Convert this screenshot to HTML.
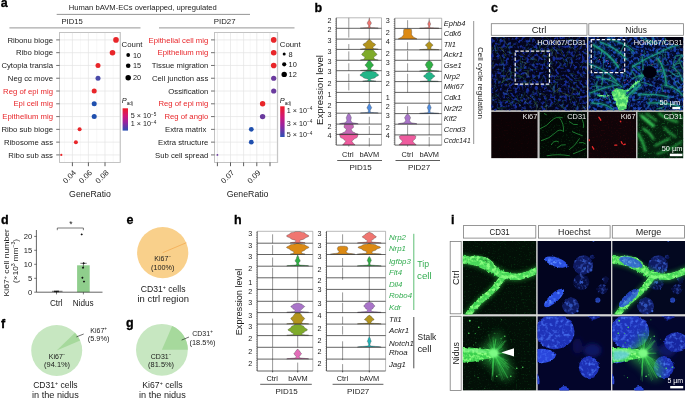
<!DOCTYPE html>
<html lang="en"><head><meta charset="utf-8"><title>Figure</title>
<style>html,body{margin:0;padding:0;background:#fff}svg{display:block}text{font-family:'Liberation Sans', sans-serif}</style>
</head><body>
<svg width="685" height="398" viewBox="0 0 685 398" fill="#1a1a1a">
<defs>
<linearGradient id="gPadj" x1="0" y1="0" x2="0" y2="1"><stop offset="0" stop-color="#ee1c25"/><stop offset="0.35" stop-color="#d01878"/><stop offset="0.62" stop-color="#9a229e"/><stop offset="1" stop-color="#2c50b4"/></linearGradient>
<filter id="b05" x="-20%" y="-20%" width="140%" height="140%"><feGaussianBlur stdDeviation="0.5"/></filter>
<filter id="b1" x="-20%" y="-20%" width="140%" height="140%"><feGaussianBlur stdDeviation="1"/></filter>
<filter id="b2" x="-30%" y="-30%" width="160%" height="160%"><feGaussianBlur stdDeviation="2"/></filter>
<filter id="b4" x="-50%" y="-50%" width="200%" height="200%"><feGaussianBlur stdDeviation="4"/></filter>
<filter id="spBlueD" x="0" y="0" width="100%" height="100%" color-interpolation-filters="sRGB"><feTurbulence type="fractalNoise" baseFrequency="0.34" numOctaves="2" seed="3"/><feColorMatrix type="matrix" values="0 0 0 0 0.085  0 0 0 0 0.17  0 0 0 0 0.58  4.5 0 0 0 -2.15"/></filter>
<filter id="spBlueB" x="0" y="0" width="100%" height="100%" color-interpolation-filters="sRGB"><feTurbulence type="fractalNoise" baseFrequency="0.34" numOctaves="2" seed="7"/><feColorMatrix type="matrix" values="0 0 0 0 0.11  0 0 0 0 0.27  0 0 0 0 0.72  4.5 0 0 0 -2.0"/></filter>
<filter id="spDark" x="0" y="0" width="100%" height="100%" color-interpolation-filters="sRGB"><feTurbulence type="fractalNoise" baseFrequency="0.07" numOctaves="2" seed="13"/><feColorMatrix type="matrix" values="0 0 0 0 0.0  0 0 0 0 0.0  0 0 0 0 0.06  5 0 0 0 -2.2"/></filter>
<filter id="spGreenD" x="0" y="0" width="100%" height="100%" color-interpolation-filters="sRGB"><feTurbulence type="fractalNoise" baseFrequency="0.6" numOctaves="2" seed="11"/><feColorMatrix type="matrix" values="0 0 0 0 0.1  0 0 0 0 0.55  0 0 0 0 0.2  4 0 0 0 -2.3"/></filter>
<filter id="spRedD" x="0" y="0" width="100%" height="100%" color-interpolation-filters="sRGB"><feTurbulence type="fractalNoise" baseFrequency="0.6" numOctaves="2" seed="5"/><feColorMatrix type="matrix" values="0 0 0 0 0.45  0 0 0 0 0.05  0 0 0 0 0.08  4 0 0 0 -2.2"/></filter>
<filter id="spNucl" x="0" y="0" width="100%" height="100%" color-interpolation-filters="sRGB"><feTurbulence type="fractalNoise" baseFrequency="0.18" numOctaves="2" seed="9"/><feColorMatrix type="matrix" values="0 0 0 0 0.35  0 0 0 0 0.55  0 0 0 0 1.0  6 0 0 0 -3.1"/></filter>
<filter id="spGreenF" x="0" y="0" width="100%" height="100%" color-interpolation-filters="sRGB"><feTurbulence type="fractalNoise" baseFrequency="0.5" numOctaves="2" seed="21"/><feColorMatrix type="matrix" values="0 0 0 0 0.2  0 0 0 0 0.9  0 0 0 0 0.3  4 0 0 0 -2.2"/></filter>
<filter id="ntex" x="-10%" y="-10%" width="120%" height="120%" color-interpolation-filters="sRGB"><feTurbulence type="fractalNoise" baseFrequency="0.28" numOctaves="2" seed="9" result="n"/><feDisplacementMap in="SourceGraphic" in2="n" scale="2.5" xChannelSelector="R" yChannelSelector="G" result="d"/><feColorMatrix in="n" type="matrix" values="0 0 0 0 0.32  0 0 0 0 0.5  0 0 0 0 1  0 0 2.4 0 -1.15" result="l"/><feComposite in="l" in2="d" operator="in" result="li"/><feMerge><feMergeNode in="d"/><feMergeNode in="li"/></feMerge><feGaussianBlur stdDeviation="0.6"/></filter>
<filter id="vtex" x="-10%" y="-10%" width="120%" height="120%" color-interpolation-filters="sRGB"><feTurbulence type="fractalNoise" baseFrequency="0.3" numOctaves="2" seed="4" result="n"/><feDisplacementMap in="SourceGraphic" in2="n" scale="3" xChannelSelector="R" yChannelSelector="G" result="d"/><feColorMatrix in="n" type="matrix" values="0 0 0 0 0.55  0 0 0 0 1  0 0 0 0 0.5  0 0 4 0 -1.7" result="l"/><feComposite in="l" in2="d" operator="in" result="li"/><feMerge><feMergeNode in="d"/><feMergeNode in="li"/></feMerge><feGaussianBlur stdDeviation="0.55"/></filter>
</defs>
<text x="0.7" y="6.7" font-size="12.5" font-weight="bold" fill="#000" stroke="#000" stroke-width="0.3">a</text>
<text x="68.80" y="9.92" font-size="7.0" textLength="148.00" lengthAdjust="spacingAndGlyphs">Human bAVM-ECs overlapped, upregulated</text>
<line x1="56.70" y1="14.40" x2="250.00" y2="14.40" stroke="#8a8a8a" stroke-width="0.9" />
<text x="61.50" y="23.68" font-size="8.0" textLength="21.30" lengthAdjust="spacingAndGlyphs">PID15</text>
<line x1="9.40" y1="27.90" x2="140.50" y2="27.90" stroke="#8a8a8a" stroke-width="0.9" />
<text x="213.80" y="23.68" font-size="8.0" textLength="21.80" lengthAdjust="spacingAndGlyphs">PID27</text>
<line x1="159.00" y1="27.90" x2="294.50" y2="27.90" stroke="#8a8a8a" stroke-width="0.9" />
<rect x="59.60" y="32.50" width="60.60" height="129.90" fill="#fff" stroke="#c9c9c9" stroke-width="0.7" />
<line x1="64.40" y1="32.50" x2="64.40" y2="162.40" stroke="#f0f0f0" stroke-width="0.5" />
<line x1="80.40" y1="32.50" x2="80.40" y2="162.40" stroke="#f0f0f0" stroke-width="0.5" />
<line x1="96.70" y1="32.50" x2="96.70" y2="162.40" stroke="#f0f0f0" stroke-width="0.5" />
<line x1="113.20" y1="32.50" x2="113.20" y2="162.40" stroke="#f0f0f0" stroke-width="0.5" />
<line x1="72.40" y1="32.50" x2="72.40" y2="162.40" stroke="#e4e4e4" stroke-width="0.7" />
<line x1="88.40" y1="32.50" x2="88.40" y2="162.40" stroke="#e4e4e4" stroke-width="0.7" />
<line x1="105.00" y1="32.50" x2="105.00" y2="162.40" stroke="#e4e4e4" stroke-width="0.7" />
<line x1="59.60" y1="39.90" x2="120.20" y2="39.90" stroke="#e4e4e4" stroke-width="0.7" />
<line x1="59.60" y1="52.68" x2="120.20" y2="52.68" stroke="#e4e4e4" stroke-width="0.7" />
<line x1="59.60" y1="65.46" x2="120.20" y2="65.46" stroke="#e4e4e4" stroke-width="0.7" />
<line x1="59.60" y1="78.24" x2="120.20" y2="78.24" stroke="#e4e4e4" stroke-width="0.7" />
<line x1="59.60" y1="91.02" x2="120.20" y2="91.02" stroke="#e4e4e4" stroke-width="0.7" />
<line x1="59.60" y1="103.80" x2="120.20" y2="103.80" stroke="#e4e4e4" stroke-width="0.7" />
<line x1="59.60" y1="116.58" x2="120.20" y2="116.58" stroke="#e4e4e4" stroke-width="0.7" />
<line x1="59.60" y1="129.36" x2="120.20" y2="129.36" stroke="#e4e4e4" stroke-width="0.7" />
<line x1="59.60" y1="142.14" x2="120.20" y2="142.14" stroke="#e4e4e4" stroke-width="0.7" />
<line x1="59.60" y1="154.92" x2="120.20" y2="154.92" stroke="#e4e4e4" stroke-width="0.7" />
<rect x="59.60" y="32.50" width="60.60" height="129.90" fill="none" stroke="#bdbdbd" stroke-width="0.8" />
<text x="53.00" y="42.56" font-size="7.4" text-anchor="end" textLength="45.58" lengthAdjust="spacingAndGlyphs">Ribonu bioge</text>
<line x1="56.20" y1="39.90" x2="59.60" y2="39.90" stroke="#333" stroke-width="0.7" />
<text x="53.00" y="55.34" font-size="7.4" text-anchor="end" textLength="36.97" lengthAdjust="spacingAndGlyphs">Ribo bioge</text>
<line x1="56.20" y1="52.68" x2="59.60" y2="52.68" stroke="#333" stroke-width="0.7" />
<text x="53.00" y="68.12" font-size="7.4" text-anchor="end" textLength="51.58" lengthAdjust="spacingAndGlyphs">Cytopla transla</text>
<line x1="56.20" y1="65.46" x2="59.60" y2="65.46" stroke="#333" stroke-width="0.7" />
<text x="53.00" y="80.90" font-size="7.4" text-anchor="end" textLength="45.13" lengthAdjust="spacingAndGlyphs">Neg cc move</text>
<line x1="56.20" y1="78.24" x2="59.60" y2="78.24" stroke="#333" stroke-width="0.7" />
<text x="53.00" y="93.68" font-size="7.4" text-anchor="end" fill="#e8262a" textLength="49.86" lengthAdjust="spacingAndGlyphs">Reg of epi mig</text>
<line x1="56.20" y1="91.02" x2="59.60" y2="91.02" stroke="#333" stroke-width="0.7" />
<text x="53.00" y="106.46" font-size="7.4" text-anchor="end" fill="#e8262a" textLength="39.54" lengthAdjust="spacingAndGlyphs">Epi cell mig</text>
<line x1="56.20" y1="103.80" x2="59.60" y2="103.80" stroke="#333" stroke-width="0.7" />
<text x="53.00" y="119.24" font-size="7.4" text-anchor="end" fill="#e8262a" textLength="50.72" lengthAdjust="spacingAndGlyphs">Epithelium mig</text>
<line x1="56.20" y1="116.58" x2="59.60" y2="116.58" stroke="#333" stroke-width="0.7" />
<text x="53.00" y="132.02" font-size="7.4" text-anchor="end" textLength="51.59" lengthAdjust="spacingAndGlyphs">Ribo sub bioge</text>
<line x1="56.20" y1="129.36" x2="59.60" y2="129.36" stroke="#333" stroke-width="0.7" />
<text x="53.00" y="144.80" font-size="7.4" text-anchor="end" textLength="49.00" lengthAdjust="spacingAndGlyphs">Ribosome ass</text>
<line x1="56.20" y1="142.14" x2="59.60" y2="142.14" stroke="#333" stroke-width="0.7" />
<text x="53.00" y="157.58" font-size="7.4" text-anchor="end" textLength="44.70" lengthAdjust="spacingAndGlyphs">Ribo sub ass</text>
<line x1="56.20" y1="154.92" x2="59.60" y2="154.92" stroke="#333" stroke-width="0.7" />
<circle cx="116.00" cy="39.90" r="2.80" fill="#e8262a"/>
<circle cx="112.50" cy="52.68" r="2.80" fill="#e8262a"/>
<circle cx="98.00" cy="65.46" r="2.50" fill="#e8262a"/>
<circle cx="98.00" cy="78.24" r="2.50" fill="#4a4aa8"/>
<circle cx="94.20" cy="91.02" r="2.50" fill="#e8262a"/>
<circle cx="94.20" cy="103.80" r="2.50" fill="#1f4fae"/>
<circle cx="94.20" cy="116.58" r="2.50" fill="#1f4fae"/>
<circle cx="79.60" cy="129.36" r="2.00" fill="#e8262a"/>
<circle cx="75.90" cy="142.14" r="2.00" fill="#e8262a"/>
<circle cx="61.30" cy="154.92" r="1.10" fill="#e8262a"/>
<line x1="72.40" y1="162.40" x2="72.40" y2="166.20" stroke="#333" stroke-width="0.8" />
<text x="76.60" y="173.30" font-size="7.7" text-anchor="end" transform="rotate(-45 76.60 173.30)">0.04</text>
<line x1="88.40" y1="162.40" x2="88.40" y2="166.20" stroke="#333" stroke-width="0.8" />
<text x="92.60" y="173.30" font-size="7.7" text-anchor="end" transform="rotate(-45 92.60 173.30)">0.06</text>
<line x1="105.00" y1="162.40" x2="105.00" y2="166.20" stroke="#333" stroke-width="0.8" />
<text x="109.20" y="173.30" font-size="7.7" text-anchor="end" transform="rotate(-45 109.20 173.30)">0.08</text>
<text x="90.00" y="196.70" font-size="8.6" text-anchor="middle" textLength="41.80" lengthAdjust="spacingAndGlyphs">GeneRatio</text>
<text x="121.60" y="46.89" font-size="7.2" textLength="20.80" lengthAdjust="spacingAndGlyphs">Count</text>
<circle cx="128.20" cy="55.00" r="1.90" fill="#000"/>
<text x="133.00" y="57.63" font-size="7.3">10</text>
<circle cx="128.20" cy="65.70" r="2.30" fill="#000"/>
<text x="133.00" y="68.33" font-size="7.3">15</text>
<circle cx="128.20" cy="77.70" r="2.75" fill="#000"/>
<text x="133.00" y="80.33" font-size="7.3">20</text>
<text x="121.80" y="102.86" font-size="7.4"><tspan font-style="italic">P</tspan><tspan dy="1.8" font-size="4.6">adj</tspan></text>
<rect x="122.6" y="108.3" width="5.4" height="22.3" fill="url(#gPadj)"/>
<text x="130.80" y="118.19" font-size="7.2">5 × 10<tspan dy="-2.4" font-size="4.6">−5</tspan><tspan dy="2.4" font-size="0.1">&#8203;</tspan></text>
<text x="130.80" y="125.99" font-size="7.2">1 × 10<tspan dy="-2.4" font-size="4.6">−4</tspan><tspan dy="2.4" font-size="0.1">&#8203;</tspan></text>
<rect x="214.60" y="32.50" width="63.10" height="129.90" fill="#fff" stroke="#c9c9c9" stroke-width="0.7" />
<line x1="224.00" y1="32.50" x2="224.00" y2="162.40" stroke="#f0f0f0" stroke-width="0.5" />
<line x1="237.00" y1="32.50" x2="237.00" y2="162.40" stroke="#f0f0f0" stroke-width="0.5" />
<line x1="250.20" y1="32.50" x2="250.20" y2="162.40" stroke="#f0f0f0" stroke-width="0.5" />
<line x1="263.40" y1="32.50" x2="263.40" y2="162.40" stroke="#f0f0f0" stroke-width="0.5" />
<line x1="276.50" y1="32.50" x2="276.50" y2="162.40" stroke="#f0f0f0" stroke-width="0.5" />
<line x1="217.40" y1="32.50" x2="217.40" y2="162.40" stroke="#e4e4e4" stroke-width="0.7" />
<line x1="230.50" y1="32.50" x2="230.50" y2="162.40" stroke="#e4e4e4" stroke-width="0.7" />
<line x1="243.60" y1="32.50" x2="243.60" y2="162.40" stroke="#e4e4e4" stroke-width="0.7" />
<line x1="256.80" y1="32.50" x2="256.80" y2="162.40" stroke="#e4e4e4" stroke-width="0.7" />
<line x1="270.00" y1="32.50" x2="270.00" y2="162.40" stroke="#e4e4e4" stroke-width="0.7" />
<line x1="214.60" y1="39.90" x2="277.70" y2="39.90" stroke="#e4e4e4" stroke-width="0.7" />
<line x1="214.60" y1="52.68" x2="277.70" y2="52.68" stroke="#e4e4e4" stroke-width="0.7" />
<line x1="214.60" y1="65.46" x2="277.70" y2="65.46" stroke="#e4e4e4" stroke-width="0.7" />
<line x1="214.60" y1="78.24" x2="277.70" y2="78.24" stroke="#e4e4e4" stroke-width="0.7" />
<line x1="214.60" y1="91.02" x2="277.70" y2="91.02" stroke="#e4e4e4" stroke-width="0.7" />
<line x1="214.60" y1="103.80" x2="277.70" y2="103.80" stroke="#e4e4e4" stroke-width="0.7" />
<line x1="214.60" y1="116.58" x2="277.70" y2="116.58" stroke="#e4e4e4" stroke-width="0.7" />
<line x1="214.60" y1="129.36" x2="277.70" y2="129.36" stroke="#e4e4e4" stroke-width="0.7" />
<line x1="214.60" y1="142.14" x2="277.70" y2="142.14" stroke="#e4e4e4" stroke-width="0.7" />
<line x1="214.60" y1="154.92" x2="277.70" y2="154.92" stroke="#e4e4e4" stroke-width="0.7" />
<rect x="214.60" y="32.50" width="63.10" height="129.90" fill="none" stroke="#bdbdbd" stroke-width="0.8" />
<text x="208.30" y="42.56" font-size="7.4" text-anchor="end" fill="#e8262a" textLength="59.74" lengthAdjust="spacingAndGlyphs">Epithelial cell mig</text>
<line x1="211.00" y1="39.90" x2="214.60" y2="39.90" stroke="#333" stroke-width="0.7" />
<text x="208.30" y="55.34" font-size="7.4" text-anchor="end" fill="#e8262a" textLength="50.72" lengthAdjust="spacingAndGlyphs">Epithelium mig</text>
<line x1="211.00" y1="52.68" x2="214.60" y2="52.68" stroke="#333" stroke-width="0.7" />
<text x="208.30" y="68.12" font-size="7.4" text-anchor="end" textLength="56.44" lengthAdjust="spacingAndGlyphs">Tissue migration</text>
<line x1="211.00" y1="65.46" x2="214.60" y2="65.46" stroke="#333" stroke-width="0.7" />
<text x="208.30" y="80.90" font-size="7.4" text-anchor="end" textLength="56.31" lengthAdjust="spacingAndGlyphs">Cell junction ass</text>
<line x1="211.00" y1="78.24" x2="214.60" y2="78.24" stroke="#333" stroke-width="0.7" />
<text x="208.30" y="93.68" font-size="7.4" text-anchor="end" textLength="39.97" lengthAdjust="spacingAndGlyphs">Ossification</text>
<line x1="211.00" y1="91.02" x2="214.60" y2="91.02" stroke="#333" stroke-width="0.7" />
<text x="208.30" y="106.46" font-size="7.4" text-anchor="end" fill="#e8262a" textLength="49.86" lengthAdjust="spacingAndGlyphs">Reg of epi mig</text>
<line x1="211.00" y1="103.80" x2="214.60" y2="103.80" stroke="#333" stroke-width="0.7" />
<text x="208.30" y="119.24" font-size="7.4" text-anchor="end" fill="#e8262a" textLength="43.85" lengthAdjust="spacingAndGlyphs">Reg of angio</text>
<line x1="211.00" y1="116.58" x2="214.60" y2="116.58" stroke="#333" stroke-width="0.7" />
<text x="206.30" y="132.02" font-size="7.4" text-anchor="end" textLength="41.25" lengthAdjust="spacingAndGlyphs">Extra matrix</text>
<line x1="211.00" y1="129.36" x2="214.60" y2="129.36" stroke="#333" stroke-width="0.7" />
<text x="208.30" y="144.80" font-size="7.4" text-anchor="end" textLength="50.28" lengthAdjust="spacingAndGlyphs">Extra structure</text>
<line x1="211.00" y1="142.14" x2="214.60" y2="142.14" stroke="#333" stroke-width="0.7" />
<text x="208.30" y="157.58" font-size="7.4" text-anchor="end" textLength="53.31" lengthAdjust="spacingAndGlyphs">Sub cell spread</text>
<line x1="211.00" y1="154.92" x2="214.60" y2="154.92" stroke="#333" stroke-width="0.7" />
<circle cx="273.70" cy="39.90" r="2.80" fill="#e8262a"/>
<circle cx="273.70" cy="52.68" r="2.80" fill="#e8262a"/>
<circle cx="273.70" cy="65.46" r="2.80" fill="#e8262a"/>
<circle cx="273.70" cy="78.24" r="2.60" fill="#6a3a9e"/>
<circle cx="273.70" cy="91.02" r="2.60" fill="#6a3a9e"/>
<circle cx="262.60" cy="103.80" r="2.70" fill="#e8262a"/>
<circle cx="262.60" cy="116.58" r="2.70" fill="#6a3a9e"/>
<circle cx="251.30" cy="129.36" r="2.40" fill="#1f4fae"/>
<circle cx="251.30" cy="142.14" r="2.40" fill="#1f4fae"/>
<circle cx="217.40" cy="154.92" r="0.90" fill="#6a3a9e"/>
<line x1="217.40" y1="162.40" x2="217.40" y2="166.20" stroke="#333" stroke-width="0.8" />
<line x1="230.50" y1="162.40" x2="230.50" y2="166.20" stroke="#333" stroke-width="0.8" />
<line x1="243.60" y1="162.40" x2="243.60" y2="166.20" stroke="#333" stroke-width="0.8" />
<line x1="256.80" y1="162.40" x2="256.80" y2="166.20" stroke="#333" stroke-width="0.8" />
<line x1="270.00" y1="162.40" x2="270.00" y2="166.20" stroke="#333" stroke-width="0.8" />
<text x="234.70" y="173.30" font-size="7.7" text-anchor="end" transform="rotate(-45 234.70 173.30)">0.07</text>
<text x="261.00" y="173.30" font-size="7.7" text-anchor="end" transform="rotate(-45 261.00 173.30)">0.09</text>
<text x="247.60" y="196.70" font-size="8.6" text-anchor="middle" textLength="41.80" lengthAdjust="spacingAndGlyphs">GeneRatio</text>
<text x="279.80" y="46.89" font-size="7.2" textLength="20.80" lengthAdjust="spacingAndGlyphs">Count</text>
<circle cx="284.20" cy="54.00" r="1.50" fill="#000"/>
<text x="288.60" y="56.66" font-size="7.4">8</text>
<circle cx="284.20" cy="64.30" r="2.10" fill="#000"/>
<text x="288.60" y="66.96" font-size="7.4">10</text>
<circle cx="284.20" cy="74.40" r="2.70" fill="#000"/>
<text x="288.60" y="77.06" font-size="7.4">12</text>
<text x="279.80" y="102.86" font-size="7.4"><tspan font-style="italic">P</tspan><tspan dy="1.8" font-size="4.6">adj</tspan></text>
<rect x="280.2" y="106.3" width="4.4" height="30.7" fill="url(#gPadj)"/>
<text x="286.80" y="112.59" font-size="7.2">1 × 10<tspan dy="-2.4" font-size="4.6">−4</tspan><tspan dy="2.4" font-size="0.1">&#8203;</tspan></text>
<text x="286.80" y="125.59" font-size="7.2">3 × 10<tspan dy="-2.4" font-size="4.6">−4</tspan><tspan dy="2.4" font-size="0.1">&#8203;</tspan></text>
<text x="286.80" y="137.29" font-size="7.2">5 × 10<tspan dy="-2.4" font-size="4.6">−4</tspan><tspan dy="2.4" font-size="0.1">&#8203;</tspan></text>
<text x="314.4" y="11.9" font-size="12.5" font-weight="bold" fill="#000" stroke="#000" stroke-width="0.3">b</text>
<text x="320.30" y="92.95" font-size="8.2" text-anchor="middle" transform="rotate(-90 320.30 90.00)" textLength="70.00" lengthAdjust="spacingAndGlyphs">Expression level</text>
<rect x="336.30" y="17.80" width="45.20" height="127.30" fill="#fff" />
<line x1="348.80" y1="17.80" x2="348.80" y2="27.80" stroke="#444" stroke-width="0.55" />
<line x1="348.80" y1="28.30" x2="348.80" y2="37.60" stroke="#444" stroke-width="0.55" />
<line x1="348.80" y1="44.10" x2="348.80" y2="49.40" stroke="#444" stroke-width="0.55" />
<line x1="348.80" y1="51.40" x2="348.80" y2="60.30" stroke="#444" stroke-width="0.55" />
<line x1="348.80" y1="63.30" x2="348.80" y2="70.70" stroke="#444" stroke-width="0.55" />
<line x1="348.80" y1="73.70" x2="348.80" y2="81.40" stroke="#444" stroke-width="0.55" />
<line x1="348.80" y1="82.40" x2="348.80" y2="90.40" stroke="#444" stroke-width="0.55" />
<line x1="369.30" y1="28.30" x2="369.30" y2="39.10" stroke="#444" stroke-width="0.55" />
<line x1="369.30" y1="81.40" x2="369.30" y2="103.50" stroke="#444" stroke-width="0.55" />
<line x1="369.30" y1="116.70" x2="369.30" y2="124.10" stroke="#444" stroke-width="0.55" />
<line x1="369.30" y1="126.10" x2="369.30" y2="134.40" stroke="#444" stroke-width="0.55" />
<line x1="369.30" y1="137.90" x2="369.30" y2="145.10" stroke="#444" stroke-width="0.55" />
<path d="M369.40,17.80 L369.41,18.05 L369.44,18.30 L369.49,18.55 L369.55,18.80 L369.61,19.05 L369.66,19.30 L369.69,19.55 L369.70,19.80 L369.76,20.21 L369.93,20.62 L370.19,21.04 L370.50,21.45 L370.81,21.86 L371.07,22.28 L371.24,22.69 L371.30,23.10 L371.25,23.45 L371.11,23.80 L370.90,24.15 L370.65,24.50 L370.40,24.85 L370.19,25.20 L370.05,25.55 L370.00,25.90 L370.01,26.10 L370.04,26.30 L370.09,26.50 L370.15,26.70 L370.21,26.90 L370.26,27.10 L370.29,27.30 L370.30,27.50 L370.60,27.57 L371.47,27.65 L372.77,27.73 L374.30,27.80 L375.83,27.88 L377.13,27.95 L378.00,28.03 L378.30,28.10 L360.30,28.10 L360.60,28.03 L361.47,27.95 L362.77,27.88 L364.30,27.80 L365.83,27.73 L367.13,27.65 L368.00,27.57 L368.30,27.50 L368.31,27.30 L368.34,27.10 L368.39,26.90 L368.45,26.70 L368.51,26.50 L368.56,26.30 L368.59,26.10 L368.60,25.90 L368.55,25.55 L368.41,25.20 L368.20,24.85 L367.95,24.50 L367.70,24.15 L367.49,23.80 L367.35,23.45 L367.30,23.10 L367.36,22.69 L367.53,22.28 L367.79,21.86 L368.10,21.45 L368.41,21.04 L368.67,20.62 L368.84,20.21 L368.90,19.80 L368.91,19.55 L368.94,19.30 L368.99,19.05 L369.05,18.80 L369.11,18.55 L369.16,18.30 L369.19,18.05 L369.20,17.80Z" fill="#f07671" stroke="#3a3a3a" stroke-width="0.35" stroke-linejoin="round"/>
<path d="M369.60,39.30 L369.68,39.58 L369.92,39.85 L370.28,40.12 L370.70,40.40 L371.12,40.68 L371.48,40.95 L371.72,41.23 L371.80,41.50 L371.94,41.90 L372.36,42.30 L372.97,42.70 L373.70,43.10 L374.43,43.50 L375.04,43.90 L375.46,44.30 L375.60,44.70 L375.50,45.03 L375.20,45.35 L374.77,45.67 L374.25,46.00 L373.73,46.33 L373.30,46.65 L373.00,46.97 L372.90,47.30 L372.92,47.45 L372.99,47.60 L373.09,47.75 L373.20,47.90 L373.31,48.05 L373.41,48.20 L373.48,48.35 L373.50,48.50 L373.68,48.59 L374.20,48.67 L374.98,48.76 L375.90,48.85 L376.82,48.94 L377.60,49.03 L378.12,49.11 L378.30,49.20 L360.30,49.20 L360.48,49.11 L361.00,49.03 L361.78,48.94 L362.70,48.85 L363.62,48.76 L364.40,48.67 L364.92,48.59 L365.10,48.50 L365.12,48.35 L365.19,48.20 L365.29,48.05 L365.40,47.90 L365.51,47.75 L365.61,47.60 L365.68,47.45 L365.70,47.30 L365.60,46.97 L365.30,46.65 L364.87,46.33 L364.35,46.00 L363.83,45.67 L363.40,45.35 L363.10,45.03 L363.00,44.70 L363.14,44.30 L363.56,43.90 L364.17,43.50 L364.90,43.10 L365.63,42.70 L366.24,42.30 L366.66,41.90 L366.80,41.50 L366.88,41.23 L367.12,40.95 L367.48,40.68 L367.90,40.40 L368.32,40.12 L368.68,39.85 L368.92,39.58 L369.00,39.30Z" fill="#b3941d" stroke="#3a3a3a" stroke-width="0.35" stroke-linejoin="round"/>
<path d="M373.10,49.70 L373.15,49.92 L373.31,50.15 L373.53,50.38 L373.80,50.60 L374.07,50.82 L374.29,51.05 L374.45,51.27 L374.50,51.50 L374.59,51.86 L374.85,52.23 L375.24,52.59 L375.70,52.95 L376.16,53.31 L376.55,53.67 L376.81,54.04 L376.90,54.40 L376.78,54.79 L376.45,55.17 L375.94,55.56 L375.35,55.95 L374.76,56.34 L374.25,56.73 L373.92,57.11 L373.80,57.50 L373.83,57.71 L373.90,57.92 L374.02,58.14 L374.15,58.35 L374.28,58.56 L374.40,58.78 L374.47,58.99 L374.50,59.20 L374.64,59.31 L375.06,59.43 L375.67,59.54 L376.40,59.65 L377.13,59.76 L377.74,59.88 L378.16,59.99 L378.30,60.10 L360.30,60.10 L360.44,59.99 L360.86,59.88 L361.47,59.76 L362.20,59.65 L362.93,59.54 L363.54,59.43 L363.96,59.31 L364.10,59.20 L364.13,58.99 L364.20,58.78 L364.32,58.56 L364.45,58.35 L364.58,58.14 L364.70,57.92 L364.77,57.71 L364.80,57.50 L364.68,57.11 L364.35,56.73 L363.84,56.34 L363.25,55.95 L362.66,55.56 L362.15,55.17 L361.82,54.79 L361.70,54.40 L361.79,54.04 L362.05,53.67 L362.44,53.31 L362.90,52.95 L363.36,52.59 L363.75,52.23 L364.01,51.86 L364.10,51.50 L364.15,51.27 L364.31,51.05 L364.53,50.82 L364.80,50.60 L365.07,50.38 L365.29,50.15 L365.45,49.92 L365.50,49.70Z" fill="#7fab2a" stroke="#3a3a3a" stroke-width="0.35" stroke-linejoin="round"/>
<path d="M370.10,60.50 L370.15,60.75 L370.31,61.00 L370.53,61.25 L370.80,61.50 L371.07,61.75 L371.29,62.00 L371.45,62.25 L371.50,62.50 L371.57,62.81 L371.78,63.12 L372.09,63.44 L372.45,63.75 L372.81,64.06 L373.12,64.38 L373.33,64.69 L373.40,65.00 L373.30,65.45 L373.02,65.90 L372.60,66.35 L372.10,66.80 L371.60,67.25 L371.18,67.70 L370.90,68.15 L370.80,68.60 L370.82,68.75 L370.87,68.90 L370.95,69.05 L371.05,69.20 L371.15,69.35 L371.23,69.50 L371.28,69.65 L371.30,69.80 L371.57,69.89 L372.33,69.97 L373.46,70.06 L374.80,70.15 L376.14,70.24 L377.27,70.33 L378.03,70.41 L378.30,70.50 L360.30,70.50 L360.57,70.41 L361.33,70.33 L362.46,70.24 L363.80,70.15 L365.14,70.06 L366.27,69.97 L367.03,69.89 L367.30,69.80 L367.32,69.65 L367.37,69.50 L367.45,69.35 L367.55,69.20 L367.65,69.05 L367.73,68.90 L367.78,68.75 L367.80,68.60 L367.70,68.15 L367.42,67.70 L367.00,67.25 L366.50,66.80 L366.00,66.35 L365.58,65.90 L365.30,65.45 L365.20,65.00 L365.27,64.69 L365.48,64.38 L365.79,64.06 L366.15,63.75 L366.51,63.44 L366.82,63.12 L367.03,62.81 L367.10,62.50 L367.15,62.25 L367.31,62.00 L367.53,61.75 L367.80,61.50 L368.07,61.25 L368.29,61.00 L368.45,60.75 L368.50,60.50Z" fill="#2fb045" stroke="#3a3a3a" stroke-width="0.35" stroke-linejoin="round"/>
<path d="M372.30,70.90 L372.45,71.14 L372.89,71.38 L373.53,71.61 L374.30,71.85 L375.07,72.09 L375.71,72.33 L376.15,72.56 L376.30,72.80 L376.39,73.09 L376.64,73.38 L377.01,73.66 L377.45,73.95 L377.89,74.24 L378.26,74.52 L378.51,74.81 L378.60,75.10 L378.47,75.40 L378.12,75.70 L377.58,76.00 L376.95,76.30 L376.32,76.60 L375.78,76.90 L375.43,77.20 L375.30,77.50 L375.11,77.76 L374.57,78.03 L373.76,78.29 L372.80,78.55 L371.84,78.81 L371.03,79.07 L370.49,79.34 L370.30,79.60 L370.32,79.71 L370.39,79.82 L370.49,79.94 L370.60,80.05 L370.71,80.16 L370.81,80.28 L370.88,80.39 L370.90,80.50 L371.09,80.59 L371.63,80.67 L372.44,80.76 L373.40,80.85 L374.36,80.94 L375.17,81.03 L375.71,81.11 L375.90,81.20 L362.70,81.20 L362.89,81.11 L363.43,81.03 L364.24,80.94 L365.20,80.85 L366.16,80.76 L366.97,80.67 L367.51,80.59 L367.70,80.50 L367.72,80.39 L367.79,80.28 L367.89,80.16 L368.00,80.05 L368.11,79.94 L368.21,79.82 L368.28,79.71 L368.30,79.60 L368.11,79.34 L367.57,79.07 L366.76,78.81 L365.80,78.55 L364.84,78.29 L364.03,78.03 L363.49,77.76 L363.30,77.50 L363.17,77.20 L362.82,76.90 L362.28,76.60 L361.65,76.30 L361.02,76.00 L360.48,75.70 L360.13,75.40 L360.00,75.10 L360.09,74.81 L360.34,74.52 L360.71,74.24 L361.15,73.95 L361.59,73.66 L361.96,73.38 L362.21,73.09 L362.30,72.80 L362.45,72.56 L362.89,72.33 L363.53,72.09 L364.30,71.85 L365.07,71.61 L365.71,71.38 L366.15,71.14 L366.30,70.90Z" fill="#22b588" stroke="#3a3a3a" stroke-width="0.35" stroke-linejoin="round"/>
<path d="M369.40,103.40 L369.44,103.66 L369.56,103.93 L369.74,104.19 L369.95,104.45 L370.16,104.71 L370.34,104.97 L370.46,105.24 L370.50,105.50 L370.54,105.75 L370.66,106.00 L370.84,106.25 L371.05,106.50 L371.26,106.75 L371.44,107.00 L371.56,107.25 L371.60,107.50 L371.55,107.91 L371.39,108.33 L371.17,108.74 L370.90,109.15 L370.63,109.56 L370.41,109.97 L370.25,110.39 L370.20,110.80 L370.21,110.99 L370.24,111.17 L370.29,111.36 L370.35,111.55 L370.41,111.74 L370.46,111.92 L370.49,112.11 L370.50,112.30 L370.80,112.39 L371.64,112.47 L372.91,112.56 L374.40,112.65 L375.89,112.74 L377.16,112.83 L378.00,112.91 L378.30,113.00 L360.30,113.00 L360.60,112.91 L361.44,112.83 L362.71,112.74 L364.20,112.65 L365.69,112.56 L366.96,112.47 L367.80,112.39 L368.10,112.30 L368.11,112.11 L368.14,111.92 L368.19,111.74 L368.25,111.55 L368.31,111.36 L368.36,111.17 L368.39,110.99 L368.40,110.80 L368.35,110.39 L368.19,109.97 L367.97,109.56 L367.70,109.15 L367.43,108.74 L367.21,108.33 L367.05,107.91 L367.00,107.50 L367.04,107.25 L367.16,107.00 L367.34,106.75 L367.55,106.50 L367.76,106.25 L367.94,106.00 L368.06,105.75 L368.10,105.50 L368.14,105.24 L368.26,104.97 L368.44,104.71 L368.65,104.45 L368.86,104.19 L369.04,103.93 L369.16,103.66 L369.20,103.40Z" fill="#4f8de0" stroke="#3a3a3a" stroke-width="0.35" stroke-linejoin="round"/>
<path d="M349.00,113.40 L349.05,113.62 L349.21,113.85 L349.43,114.08 L349.70,114.30 L349.97,114.53 L350.19,114.75 L350.35,114.98 L350.40,115.20 L350.43,115.50 L350.53,115.80 L350.68,116.10 L350.85,116.40 L351.02,116.70 L351.17,117.00 L351.27,117.30 L351.30,117.60 L351.28,117.96 L351.23,118.32 L351.15,118.69 L351.05,119.05 L350.95,119.41 L350.87,119.78 L350.82,120.14 L350.80,120.50 L350.84,120.72 L350.95,120.95 L351.11,121.17 L351.30,121.40 L351.49,121.62 L351.65,121.85 L351.76,122.08 L351.80,122.30 L352.04,122.50 L352.74,122.70 L353.78,122.90 L355.00,123.10 L356.22,123.30 L357.26,123.50 L357.96,123.70 L358.20,123.90 L339.40,123.90 L339.64,123.70 L340.34,123.50 L341.38,123.30 L342.60,123.10 L343.82,122.90 L344.86,122.70 L345.56,122.50 L345.80,122.30 L345.84,122.08 L345.95,121.85 L346.11,121.62 L346.30,121.40 L346.49,121.17 L346.65,120.95 L346.76,120.72 L346.80,120.50 L346.78,120.14 L346.73,119.78 L346.65,119.41 L346.55,119.05 L346.45,118.69 L346.37,118.32 L346.32,117.96 L346.30,117.60 L346.33,117.30 L346.43,117.00 L346.58,116.70 L346.75,116.40 L346.92,116.10 L347.07,115.80 L347.17,115.50 L347.20,115.20 L347.25,114.98 L347.41,114.75 L347.63,114.53 L347.90,114.30 L348.17,114.08 L348.39,113.85 L348.55,113.62 L348.60,113.40Z" fill="#a974c9" stroke="#3a3a3a" stroke-width="0.35" stroke-linejoin="round"/>
<path d="M353.10,124.30 L353.12,124.64 L353.17,124.97 L353.25,125.31 L353.35,125.65 L353.45,125.99 L353.53,126.33 L353.58,126.66 L353.60,127.00 L353.51,127.33 L353.26,127.65 L352.89,127.97 L352.45,128.30 L352.01,128.62 L351.64,128.95 L351.39,129.28 L351.30,129.60 L351.34,129.84 L351.46,130.07 L351.64,130.31 L351.85,130.55 L352.06,130.79 L352.24,131.03 L352.36,131.26 L352.40,131.50 L352.51,131.71 L352.82,131.93 L353.30,132.14 L353.85,132.35 L354.40,132.56 L354.88,132.77 L355.19,132.99 L355.30,133.20 L355.41,133.32 L355.72,133.45 L356.20,133.57 L356.75,133.70 L357.30,133.82 L357.78,133.95 L358.09,134.07 L358.20,134.20 L339.40,134.20 L339.51,134.07 L339.82,133.95 L340.30,133.82 L340.85,133.70 L341.40,133.57 L341.88,133.45 L342.19,133.32 L342.30,133.20 L342.41,132.99 L342.72,132.77 L343.20,132.56 L343.75,132.35 L344.30,132.14 L344.78,131.93 L345.09,131.71 L345.20,131.50 L345.24,131.26 L345.36,131.03 L345.54,130.79 L345.75,130.55 L345.96,130.31 L346.14,130.07 L346.26,129.84 L346.30,129.60 L346.21,129.28 L345.96,128.95 L345.59,128.62 L345.15,128.30 L344.71,127.97 L344.34,127.65 L344.09,127.33 L344.00,127.00 L344.02,126.66 L344.07,126.33 L344.15,125.99 L344.25,125.65 L344.35,125.31 L344.43,124.97 L344.48,124.64 L344.50,124.30Z" fill="#c567b4" stroke="#3a3a3a" stroke-width="0.35" stroke-linejoin="round"/>
<path d="M358.00,134.60 L357.98,134.90 L357.91,135.20 L357.81,135.50 L357.70,135.80 L357.59,136.10 L357.49,136.40 L357.42,136.70 L357.40,137.00 L357.26,137.31 L356.84,137.62 L356.23,137.94 L355.50,138.25 L354.77,138.56 L354.16,138.88 L353.74,139.19 L353.60,139.50 L353.54,139.72 L353.35,139.95 L353.08,140.18 L352.75,140.40 L352.42,140.62 L352.15,140.85 L351.96,141.08 L351.90,141.30 L351.96,141.55 L352.12,141.80 L352.36,142.05 L352.65,142.30 L352.94,142.55 L353.18,142.80 L353.34,143.05 L353.40,143.30 L353.46,143.50 L353.63,143.70 L353.89,143.90 L354.20,144.10 L354.51,144.30 L354.77,144.50 L354.94,144.70 L355.00,144.90 L342.60,144.90 L342.66,144.70 L342.83,144.50 L343.09,144.30 L343.40,144.10 L343.71,143.90 L343.97,143.70 L344.14,143.50 L344.20,143.30 L344.26,143.05 L344.42,142.80 L344.66,142.55 L344.95,142.30 L345.24,142.05 L345.48,141.80 L345.64,141.55 L345.70,141.30 L345.64,141.08 L345.45,140.85 L345.18,140.62 L344.85,140.40 L344.52,140.18 L344.25,139.95 L344.06,139.72 L344.00,139.50 L343.86,139.19 L343.44,138.88 L342.83,138.56 L342.10,138.25 L341.37,137.94 L340.76,137.62 L340.34,137.31 L340.20,137.00 L340.18,136.70 L340.11,136.40 L340.01,136.10 L339.90,135.80 L339.79,135.50 L339.69,135.20 L339.62,134.90 L339.60,134.60Z" fill="#ee5c9e" stroke="#3a3a3a" stroke-width="0.35" stroke-linejoin="round"/>
<line x1="336.30" y1="17.80" x2="381.50" y2="17.80" stroke="#8a8a8a" stroke-width="0.6" />
<line x1="381.50" y1="17.80" x2="381.50" y2="145.10" stroke="#8a8a8a" stroke-width="0.6" />
<line x1="336.30" y1="28.30" x2="381.50" y2="28.30" stroke="#222" stroke-width="0.7" />
<line x1="336.30" y1="39.10" x2="381.50" y2="39.10" stroke="#222" stroke-width="0.7" />
<line x1="336.30" y1="49.40" x2="381.50" y2="49.40" stroke="#222" stroke-width="0.7" />
<line x1="336.30" y1="60.30" x2="381.50" y2="60.30" stroke="#222" stroke-width="0.7" />
<line x1="336.30" y1="70.70" x2="381.50" y2="70.70" stroke="#222" stroke-width="0.7" />
<line x1="336.30" y1="81.40" x2="381.50" y2="81.40" stroke="#222" stroke-width="0.7" />
<line x1="336.30" y1="92.40" x2="381.50" y2="92.40" stroke="#222" stroke-width="0.7" />
<line x1="336.30" y1="102.50" x2="381.50" y2="102.50" stroke="#222" stroke-width="0.7" />
<line x1="336.30" y1="113.20" x2="381.50" y2="113.20" stroke="#222" stroke-width="0.7" />
<line x1="336.30" y1="124.10" x2="381.50" y2="124.10" stroke="#222" stroke-width="0.7" />
<line x1="336.30" y1="134.40" x2="381.50" y2="134.40" stroke="#222" stroke-width="0.7" />
<line x1="336.30" y1="145.10" x2="381.50" y2="145.10" stroke="#222" stroke-width="0.7" />
<line x1="336.30" y1="17.80" x2="336.30" y2="145.10" stroke="#222" stroke-width="0.7" />
<line x1="335.10" y1="19.06" x2="336.30" y2="19.06" stroke="#333" stroke-width="0.4" />
<line x1="335.10" y1="21.16" x2="336.30" y2="21.16" stroke="#333" stroke-width="0.4" />
<line x1="335.10" y1="23.26" x2="336.30" y2="23.26" stroke="#333" stroke-width="0.4" />
<line x1="335.10" y1="25.36" x2="336.30" y2="25.36" stroke="#333" stroke-width="0.4" />
<line x1="335.10" y1="27.46" x2="336.30" y2="27.46" stroke="#333" stroke-width="0.4" />
<line x1="335.10" y1="29.60" x2="336.30" y2="29.60" stroke="#333" stroke-width="0.4" />
<line x1="335.10" y1="31.76" x2="336.30" y2="31.76" stroke="#333" stroke-width="0.4" />
<line x1="335.10" y1="33.92" x2="336.30" y2="33.92" stroke="#333" stroke-width="0.4" />
<line x1="335.10" y1="36.08" x2="336.30" y2="36.08" stroke="#333" stroke-width="0.4" />
<line x1="335.10" y1="38.24" x2="336.30" y2="38.24" stroke="#333" stroke-width="0.4" />
<line x1="335.10" y1="40.34" x2="336.30" y2="40.34" stroke="#333" stroke-width="0.4" />
<line x1="335.10" y1="42.40" x2="336.30" y2="42.40" stroke="#333" stroke-width="0.4" />
<line x1="335.10" y1="44.46" x2="336.30" y2="44.46" stroke="#333" stroke-width="0.4" />
<line x1="335.10" y1="46.52" x2="336.30" y2="46.52" stroke="#333" stroke-width="0.4" />
<line x1="335.10" y1="48.58" x2="336.30" y2="48.58" stroke="#333" stroke-width="0.4" />
<line x1="335.10" y1="50.71" x2="336.30" y2="50.71" stroke="#333" stroke-width="0.4" />
<line x1="335.10" y1="52.89" x2="336.30" y2="52.89" stroke="#333" stroke-width="0.4" />
<line x1="335.10" y1="55.07" x2="336.30" y2="55.07" stroke="#333" stroke-width="0.4" />
<line x1="335.10" y1="57.25" x2="336.30" y2="57.25" stroke="#333" stroke-width="0.4" />
<line x1="335.10" y1="59.43" x2="336.30" y2="59.43" stroke="#333" stroke-width="0.4" />
<line x1="335.10" y1="61.55" x2="336.30" y2="61.55" stroke="#333" stroke-width="0.4" />
<line x1="335.10" y1="63.63" x2="336.30" y2="63.63" stroke="#333" stroke-width="0.4" />
<line x1="335.10" y1="65.71" x2="336.30" y2="65.71" stroke="#333" stroke-width="0.4" />
<line x1="335.10" y1="67.79" x2="336.30" y2="67.79" stroke="#333" stroke-width="0.4" />
<line x1="335.10" y1="69.87" x2="336.30" y2="69.87" stroke="#333" stroke-width="0.4" />
<line x1="335.10" y1="71.98" x2="336.30" y2="71.98" stroke="#333" stroke-width="0.4" />
<line x1="335.10" y1="74.12" x2="336.30" y2="74.12" stroke="#333" stroke-width="0.4" />
<line x1="335.10" y1="76.26" x2="336.30" y2="76.26" stroke="#333" stroke-width="0.4" />
<line x1="335.10" y1="78.40" x2="336.30" y2="78.40" stroke="#333" stroke-width="0.4" />
<line x1="335.10" y1="80.54" x2="336.30" y2="80.54" stroke="#333" stroke-width="0.4" />
<line x1="335.10" y1="82.72" x2="336.30" y2="82.72" stroke="#333" stroke-width="0.4" />
<line x1="335.10" y1="84.92" x2="336.30" y2="84.92" stroke="#333" stroke-width="0.4" />
<line x1="335.10" y1="87.12" x2="336.30" y2="87.12" stroke="#333" stroke-width="0.4" />
<line x1="335.10" y1="89.32" x2="336.30" y2="89.32" stroke="#333" stroke-width="0.4" />
<line x1="335.10" y1="91.52" x2="336.30" y2="91.52" stroke="#333" stroke-width="0.4" />
<line x1="335.10" y1="93.61" x2="336.30" y2="93.61" stroke="#333" stroke-width="0.4" />
<line x1="335.10" y1="95.63" x2="336.30" y2="95.63" stroke="#333" stroke-width="0.4" />
<line x1="335.10" y1="97.65" x2="336.30" y2="97.65" stroke="#333" stroke-width="0.4" />
<line x1="335.10" y1="99.67" x2="336.30" y2="99.67" stroke="#333" stroke-width="0.4" />
<line x1="335.10" y1="101.69" x2="336.30" y2="101.69" stroke="#333" stroke-width="0.4" />
<line x1="335.10" y1="103.78" x2="336.30" y2="103.78" stroke="#333" stroke-width="0.4" />
<line x1="335.10" y1="105.92" x2="336.30" y2="105.92" stroke="#333" stroke-width="0.4" />
<line x1="335.10" y1="108.06" x2="336.30" y2="108.06" stroke="#333" stroke-width="0.4" />
<line x1="335.10" y1="110.20" x2="336.30" y2="110.20" stroke="#333" stroke-width="0.4" />
<line x1="335.10" y1="112.34" x2="336.30" y2="112.34" stroke="#333" stroke-width="0.4" />
<line x1="335.10" y1="114.51" x2="336.30" y2="114.51" stroke="#333" stroke-width="0.4" />
<line x1="335.10" y1="116.69" x2="336.30" y2="116.69" stroke="#333" stroke-width="0.4" />
<line x1="335.10" y1="118.87" x2="336.30" y2="118.87" stroke="#333" stroke-width="0.4" />
<line x1="335.10" y1="121.05" x2="336.30" y2="121.05" stroke="#333" stroke-width="0.4" />
<line x1="335.10" y1="123.23" x2="336.30" y2="123.23" stroke="#333" stroke-width="0.4" />
<line x1="335.10" y1="125.34" x2="336.30" y2="125.34" stroke="#333" stroke-width="0.4" />
<line x1="335.10" y1="127.40" x2="336.30" y2="127.40" stroke="#333" stroke-width="0.4" />
<line x1="335.10" y1="129.46" x2="336.30" y2="129.46" stroke="#333" stroke-width="0.4" />
<line x1="335.10" y1="131.52" x2="336.30" y2="131.52" stroke="#333" stroke-width="0.4" />
<line x1="335.10" y1="133.58" x2="336.30" y2="133.58" stroke="#333" stroke-width="0.4" />
<line x1="335.10" y1="135.68" x2="336.30" y2="135.68" stroke="#333" stroke-width="0.4" />
<line x1="335.10" y1="137.82" x2="336.30" y2="137.82" stroke="#333" stroke-width="0.4" />
<line x1="335.10" y1="139.96" x2="336.30" y2="139.96" stroke="#333" stroke-width="0.4" />
<line x1="335.10" y1="142.10" x2="336.30" y2="142.10" stroke="#333" stroke-width="0.4" />
<line x1="335.10" y1="144.24" x2="336.30" y2="144.24" stroke="#333" stroke-width="0.4" />
<text x="329.40" y="22.59" font-size="7.2" text-anchor="middle">2</text>
<text x="329.40" y="32.19" font-size="7.2" text-anchor="middle">2</text>
<text x="329.40" y="43.29" font-size="7.2" text-anchor="middle">3</text>
<text x="329.40" y="53.59" font-size="7.2" text-anchor="middle">3</text>
<text x="329.40" y="64.09" font-size="7.2" text-anchor="middle">3</text>
<text x="329.40" y="74.39" font-size="7.2" text-anchor="middle">3</text>
<text x="329.40" y="86.39" font-size="7.2" text-anchor="middle">2</text>
<text x="329.40" y="96.79" font-size="7.2" text-anchor="middle">1</text>
<text x="329.40" y="107.99" font-size="7.2" text-anchor="middle">2</text>
<text x="329.40" y="116.79" font-size="7.2" text-anchor="middle">3</text>
<text x="329.40" y="129.39" font-size="7.2" text-anchor="middle">2</text>
<text x="329.40" y="137.79" font-size="7.2" text-anchor="middle">4</text>
<line x1="348.80" y1="145.10" x2="348.80" y2="146.60" stroke="#333" stroke-width="0.5" />
<line x1="369.30" y1="145.10" x2="369.30" y2="146.60" stroke="#333" stroke-width="0.5" />
<text x="347.80" y="156.56" font-size="7.4" text-anchor="middle">Ctrl</text>
<text x="369.30" y="156.56" font-size="7.4" text-anchor="middle">bAVM</text>
<line x1="337.20" y1="160.50" x2="382.00" y2="160.50" stroke="#333" stroke-width="0.8" />
<text x="360.60" y="170.28" font-size="8.0" text-anchor="middle">PID15</text>
<rect x="394.80" y="18.20" width="46.90" height="126.90" fill="#fff" />
<line x1="407.60" y1="20.20" x2="407.60" y2="28.40" stroke="#444" stroke-width="0.55" />
<line x1="407.60" y1="42.20" x2="407.60" y2="49.90" stroke="#444" stroke-width="0.55" />
<line x1="407.60" y1="50.90" x2="407.60" y2="60.30" stroke="#444" stroke-width="0.55" />
<line x1="407.60" y1="63.30" x2="407.60" y2="71.30" stroke="#444" stroke-width="0.55" />
<line x1="407.60" y1="73.80" x2="407.60" y2="81.60" stroke="#444" stroke-width="0.55" />
<line x1="407.60" y1="81.60" x2="407.60" y2="92.40" stroke="#444" stroke-width="0.55" />
<line x1="407.60" y1="106.20" x2="407.60" y2="113.60" stroke="#444" stroke-width="0.55" />
<line x1="407.60" y1="125.20" x2="407.60" y2="134.90" stroke="#444" stroke-width="0.55" />
<line x1="429.20" y1="18.20" x2="429.20" y2="21.20" stroke="#444" stroke-width="0.55" />
<line x1="429.20" y1="28.40" x2="429.20" y2="41.70" stroke="#444" stroke-width="0.55" />
<line x1="429.20" y1="49.90" x2="429.20" y2="60.30" stroke="#444" stroke-width="0.55" />
<line x1="429.20" y1="81.60" x2="429.20" y2="104.20" stroke="#444" stroke-width="0.55" />
<line x1="429.20" y1="115.60" x2="429.20" y2="134.90" stroke="#444" stroke-width="0.55" />
<line x1="429.20" y1="136.90" x2="429.20" y2="145.10" stroke="#444" stroke-width="0.55" />
<path d="M429.30,20.70 L429.33,20.90 L429.40,21.10 L429.52,21.30 L429.65,21.50 L429.78,21.70 L429.90,21.90 L429.97,22.10 L430.00,22.30 L430.02,22.51 L430.09,22.73 L430.19,22.94 L430.30,23.15 L430.41,23.36 L430.51,23.57 L430.58,23.79 L430.60,24.00 L430.57,24.29 L430.48,24.57 L430.35,24.86 L430.20,25.15 L430.05,25.44 L429.92,25.73 L429.83,26.01 L429.80,26.30 L429.81,26.46 L429.84,26.62 L429.89,26.79 L429.95,26.95 L430.01,27.11 L430.06,27.28 L430.09,27.44 L430.10,27.60 L430.43,27.68 L431.39,27.75 L432.82,27.82 L434.50,27.90 L436.18,27.98 L437.61,28.05 L438.57,28.12 L438.90,28.20 L419.50,28.20 L419.83,28.12 L420.79,28.05 L422.22,27.98 L423.90,27.90 L425.58,27.82 L427.01,27.75 L427.97,27.68 L428.30,27.60 L428.31,27.44 L428.34,27.28 L428.39,27.11 L428.45,26.95 L428.51,26.79 L428.56,26.62 L428.59,26.46 L428.60,26.30 L428.57,26.01 L428.48,25.73 L428.35,25.44 L428.20,25.15 L428.05,24.86 L427.92,24.57 L427.83,24.29 L427.80,24.00 L427.82,23.79 L427.89,23.57 L427.99,23.36 L428.10,23.15 L428.21,22.94 L428.31,22.73 L428.38,22.51 L428.40,22.30 L428.43,22.10 L428.50,21.90 L428.62,21.70 L428.75,21.50 L428.88,21.30 L429.00,21.10 L429.07,20.90 L429.10,20.70Z" fill="#f07671" stroke="#3a3a3a" stroke-width="0.35" stroke-linejoin="round"/>
<path d="M410.10,28.90 L410.15,28.99 L410.31,29.07 L410.53,29.16 L410.80,29.25 L411.07,29.34 L411.29,29.43 L411.45,29.51 L411.50,29.60 L411.51,29.90 L411.53,30.20 L411.56,30.50 L411.60,30.80 L411.64,31.10 L411.67,31.40 L411.69,31.70 L411.70,32.00 L411.70,32.31 L411.69,32.62 L411.67,32.94 L411.65,33.25 L411.63,33.56 L411.61,33.88 L411.60,34.19 L411.60,34.50 L411.66,34.79 L411.82,35.08 L412.06,35.36 L412.35,35.65 L412.64,35.94 L412.88,36.22 L413.04,36.51 L413.10,36.80 L413.20,36.97 L413.47,37.15 L413.87,37.33 L414.35,37.50 L414.83,37.67 L415.23,37.85 L415.50,38.03 L415.60,38.20 L415.65,38.30 L415.81,38.40 L416.03,38.50 L416.30,38.60 L416.57,38.70 L416.79,38.80 L416.95,38.90 L417.00,39.00 L398.20,39.00 L398.25,38.90 L398.41,38.80 L398.63,38.70 L398.90,38.60 L399.17,38.50 L399.39,38.40 L399.55,38.30 L399.60,38.20 L399.70,38.03 L399.97,37.85 L400.37,37.67 L400.85,37.50 L401.33,37.33 L401.73,37.15 L402.00,36.97 L402.10,36.80 L402.16,36.51 L402.32,36.22 L402.56,35.94 L402.85,35.65 L403.14,35.36 L403.38,35.08 L403.54,34.79 L403.60,34.50 L403.60,34.19 L403.59,33.88 L403.57,33.56 L403.55,33.25 L403.53,32.94 L403.51,32.62 L403.50,32.31 L403.50,32.00 L403.51,31.70 L403.53,31.40 L403.56,31.10 L403.60,30.80 L403.64,30.50 L403.67,30.20 L403.69,29.90 L403.70,29.60 L403.75,29.51 L403.91,29.43 L404.13,29.34 L404.40,29.25 L404.67,29.16 L404.89,29.07 L405.05,28.99 L405.10,28.90Z" fill="#dc8a14" stroke="#3a3a3a" stroke-width="0.35" stroke-linejoin="round"/>
<path d="M429.30,41.60 L429.37,41.81 L429.58,42.02 L429.89,42.24 L430.25,42.45 L430.61,42.66 L430.92,42.88 L431.13,43.09 L431.20,43.30 L431.27,43.52 L431.46,43.75 L431.76,43.98 L432.10,44.20 L432.44,44.42 L432.74,44.65 L432.93,44.88 L433.00,45.10 L432.93,45.34 L432.74,45.58 L432.44,45.81 L432.10,46.05 L431.76,46.29 L431.46,46.52 L431.27,46.76 L431.20,47.00 L431.18,47.16 L431.13,47.33 L431.05,47.49 L430.95,47.65 L430.85,47.81 L430.77,47.97 L430.72,48.14 L430.70,48.30 L430.73,48.39 L430.80,48.47 L430.92,48.56 L431.05,48.65 L431.18,48.74 L431.30,48.83 L431.37,48.91 L431.40,49.00 L431.69,49.09 L432.50,49.17 L433.71,49.26 L435.15,49.35 L436.59,49.44 L437.80,49.53 L438.61,49.61 L438.90,49.70 L419.50,49.70 L419.79,49.61 L420.60,49.53 L421.81,49.44 L423.25,49.35 L424.69,49.26 L425.90,49.17 L426.71,49.09 L427.00,49.00 L427.03,48.91 L427.10,48.83 L427.22,48.74 L427.35,48.65 L427.48,48.56 L427.60,48.47 L427.67,48.39 L427.70,48.30 L427.68,48.14 L427.63,47.97 L427.55,47.81 L427.45,47.65 L427.35,47.49 L427.27,47.33 L427.22,47.16 L427.20,47.00 L427.13,46.76 L426.94,46.52 L426.64,46.29 L426.30,46.05 L425.96,45.81 L425.66,45.58 L425.47,45.34 L425.40,45.10 L425.47,44.88 L425.66,44.65 L425.96,44.42 L426.30,44.20 L426.64,43.98 L426.94,43.75 L427.13,43.52 L427.20,43.30 L427.27,43.09 L427.48,42.88 L427.79,42.66 L428.15,42.45 L428.51,42.24 L428.82,42.02 L429.03,41.81 L429.10,41.60Z" fill="#b3941d" stroke="#3a3a3a" stroke-width="0.35" stroke-linejoin="round"/>
<path d="M429.50,60.60 L429.59,60.81 L429.84,61.02 L430.21,61.24 L430.65,61.45 L431.09,61.66 L431.46,61.88 L431.71,62.09 L431.80,62.30 L431.85,62.61 L431.98,62.92 L432.17,63.24 L432.40,63.55 L432.63,63.86 L432.82,64.17 L432.95,64.49 L433.00,64.80 L432.95,65.11 L432.82,65.42 L432.63,65.74 L432.40,66.05 L432.17,66.36 L431.98,66.67 L431.85,66.99 L431.80,67.30 L431.75,67.49 L431.59,67.67 L431.37,67.86 L431.10,68.05 L430.83,68.24 L430.61,68.42 L430.45,68.61 L430.40,68.80 L430.42,68.97 L430.49,69.15 L430.59,69.33 L430.70,69.50 L430.81,69.67 L430.91,69.85 L430.98,70.03 L431.00,70.20 L431.30,70.31 L432.16,70.42 L433.44,70.54 L434.95,70.65 L436.46,70.76 L437.74,70.88 L438.60,70.99 L438.90,71.10 L419.50,71.10 L419.80,70.99 L420.66,70.88 L421.94,70.76 L423.45,70.65 L424.96,70.54 L426.24,70.42 L427.10,70.31 L427.40,70.20 L427.42,70.03 L427.49,69.85 L427.59,69.67 L427.70,69.50 L427.81,69.33 L427.91,69.15 L427.98,68.97 L428.00,68.80 L427.95,68.61 L427.79,68.42 L427.57,68.24 L427.30,68.05 L427.03,67.86 L426.81,67.67 L426.65,67.49 L426.60,67.30 L426.55,66.99 L426.42,66.67 L426.23,66.36 L426.00,66.05 L425.77,65.74 L425.58,65.42 L425.45,65.11 L425.40,64.80 L425.45,64.49 L425.58,64.17 L425.77,63.86 L426.00,63.55 L426.23,63.24 L426.42,62.92 L426.55,62.61 L426.60,62.30 L426.69,62.09 L426.94,61.88 L427.31,61.66 L427.75,61.45 L428.19,61.24 L428.56,61.02 L428.81,60.81 L428.90,60.60Z" fill="#2fb045" stroke="#3a3a3a" stroke-width="0.35" stroke-linejoin="round"/>
<path d="M429.40,71.80 L429.51,72.05 L429.84,72.30 L430.33,72.55 L430.90,72.80 L431.47,73.05 L431.96,73.30 L432.29,73.55 L432.40,73.80 L432.49,74.09 L432.75,74.38 L433.14,74.66 L433.60,74.95 L434.06,75.24 L434.45,75.52 L434.71,75.81 L434.80,76.10 L434.71,76.38 L434.45,76.65 L434.06,76.92 L433.60,77.20 L433.14,77.47 L432.75,77.75 L432.49,78.02 L432.40,78.30 L432.32,78.51 L432.11,78.72 L431.78,78.94 L431.40,79.15 L431.02,79.36 L430.69,79.58 L430.48,79.79 L430.40,80.00 L430.42,80.10 L430.49,80.20 L430.59,80.30 L430.70,80.40 L430.81,80.50 L430.91,80.60 L430.98,80.70 L431.00,80.80 L431.28,80.88 L432.08,80.95 L433.28,81.03 L434.70,81.10 L436.12,81.17 L437.32,81.25 L438.12,81.33 L438.40,81.40 L420.00,81.40 L420.28,81.33 L421.08,81.25 L422.28,81.17 L423.70,81.10 L425.12,81.03 L426.32,80.95 L427.12,80.88 L427.40,80.80 L427.42,80.70 L427.49,80.60 L427.59,80.50 L427.70,80.40 L427.81,80.30 L427.91,80.20 L427.98,80.10 L428.00,80.00 L427.92,79.79 L427.71,79.58 L427.38,79.36 L427.00,79.15 L426.62,78.94 L426.29,78.72 L426.08,78.51 L426.00,78.30 L425.91,78.02 L425.65,77.75 L425.26,77.47 L424.80,77.20 L424.34,76.92 L423.95,76.65 L423.69,76.38 L423.60,76.10 L423.69,75.81 L423.95,75.52 L424.34,75.24 L424.80,74.95 L425.26,74.66 L425.65,74.38 L425.91,74.09 L426.00,73.80 L426.11,73.55 L426.44,73.30 L426.93,73.05 L427.50,72.80 L428.07,72.55 L428.56,72.30 L428.89,72.05 L429.00,71.80Z" fill="#22b588" stroke="#3a3a3a" stroke-width="0.35" stroke-linejoin="round"/>
<path d="M429.30,103.80 L429.34,104.01 L429.45,104.22 L429.61,104.44 L429.80,104.65 L429.99,104.86 L430.15,105.08 L430.26,105.29 L430.30,105.50 L430.33,105.75 L430.42,106.00 L430.55,106.25 L430.70,106.50 L430.85,106.75 L430.98,107.00 L431.07,107.25 L431.10,107.50 L431.06,107.88 L430.95,108.25 L430.79,108.62 L430.60,109.00 L430.41,109.38 L430.25,109.75 L430.14,110.12 L430.10,110.50 L430.10,110.74 L430.11,110.97 L430.13,111.21 L430.15,111.45 L430.17,111.69 L430.19,111.93 L430.20,112.16 L430.20,112.40 L430.53,112.53 L431.47,112.65 L432.89,112.78 L434.55,112.90 L436.21,113.03 L437.63,113.15 L438.57,113.28 L438.90,113.40 L419.50,113.40 L419.83,113.28 L420.77,113.15 L422.19,113.03 L423.85,112.90 L425.51,112.78 L426.93,112.65 L427.87,112.53 L428.20,112.40 L428.20,112.16 L428.21,111.93 L428.23,111.69 L428.25,111.45 L428.27,111.21 L428.29,110.97 L428.30,110.74 L428.30,110.50 L428.26,110.12 L428.15,109.75 L427.99,109.38 L427.80,109.00 L427.61,108.62 L427.45,108.25 L427.34,107.88 L427.30,107.50 L427.33,107.25 L427.42,107.00 L427.55,106.75 L427.70,106.50 L427.85,106.25 L427.98,106.00 L428.07,105.75 L428.10,105.50 L428.14,105.29 L428.25,105.08 L428.41,104.86 L428.60,104.65 L428.79,104.44 L428.95,104.22 L429.06,104.01 L429.10,103.80Z" fill="#4f8de0" stroke="#3a3a3a" stroke-width="0.35" stroke-linejoin="round"/>
<path d="M407.80,113.90 L407.86,114.10 L408.03,114.30 L408.29,114.50 L408.60,114.70 L408.91,114.90 L409.17,115.10 L409.34,115.30 L409.40,115.50 L409.44,115.76 L409.56,116.03 L409.74,116.29 L409.95,116.55 L410.16,116.81 L410.34,117.07 L410.46,117.34 L410.50,117.60 L410.47,117.96 L410.37,118.32 L410.22,118.69 L410.05,119.05 L409.88,119.41 L409.73,119.78 L409.63,120.14 L409.60,120.50 L409.64,120.72 L409.75,120.95 L409.91,121.17 L410.10,121.40 L410.29,121.62 L410.45,121.85 L410.56,122.08 L410.60,122.30 L410.84,122.51 L411.54,122.72 L412.58,122.94 L413.80,123.15 L415.02,123.36 L416.06,123.58 L416.76,123.79 L417.00,124.00 L398.20,124.00 L398.44,123.79 L399.14,123.58 L400.18,123.36 L401.40,123.15 L402.62,122.94 L403.66,122.72 L404.36,122.51 L404.60,122.30 L404.64,122.08 L404.75,121.85 L404.91,121.62 L405.10,121.40 L405.29,121.17 L405.45,120.95 L405.56,120.72 L405.60,120.50 L405.57,120.14 L405.47,119.78 L405.32,119.41 L405.15,119.05 L404.98,118.69 L404.83,118.32 L404.73,117.96 L404.70,117.60 L404.74,117.34 L404.86,117.07 L405.04,116.81 L405.25,116.55 L405.46,116.29 L405.64,116.03 L405.76,115.76 L405.80,115.50 L405.86,115.30 L406.03,115.10 L406.29,114.90 L406.60,114.70 L406.91,114.50 L407.17,114.30 L407.34,114.10 L407.40,113.90Z" fill="#a974c9" stroke="#3a3a3a" stroke-width="0.35" stroke-linejoin="round"/>
<path d="M414.10,135.20 L414.16,135.32 L414.35,135.45 L414.62,135.57 L414.95,135.70 L415.28,135.82 L415.55,135.95 L415.74,136.07 L415.80,136.20 L415.79,136.42 L415.77,136.65 L415.74,136.88 L415.70,137.10 L415.66,137.32 L415.63,137.55 L415.61,137.78 L415.60,138.00 L415.50,138.43 L415.20,138.85 L414.77,139.28 L414.25,139.70 L413.73,140.12 L413.30,140.55 L413.00,140.97 L412.90,141.40 L412.96,141.66 L413.15,141.93 L413.42,142.19 L413.75,142.45 L414.08,142.71 L414.35,142.97 L414.54,143.24 L414.60,143.50 L414.66,143.68 L414.83,143.85 L415.09,144.03 L415.40,144.20 L415.71,144.38 L415.97,144.55 L416.14,144.72 L416.20,144.90 L399.00,144.90 L399.06,144.72 L399.23,144.55 L399.49,144.38 L399.80,144.20 L400.11,144.03 L400.37,143.85 L400.54,143.68 L400.60,143.50 L400.66,143.24 L400.85,142.97 L401.12,142.71 L401.45,142.45 L401.78,142.19 L402.05,141.93 L402.24,141.66 L402.30,141.40 L402.20,140.97 L401.90,140.55 L401.47,140.12 L400.95,139.70 L400.43,139.28 L400.00,138.85 L399.70,138.43 L399.60,138.00 L399.59,137.78 L399.57,137.55 L399.54,137.32 L399.50,137.10 L399.46,136.88 L399.43,136.65 L399.41,136.42 L399.40,136.20 L399.46,136.07 L399.65,135.95 L399.92,135.82 L400.25,135.70 L400.58,135.57 L400.85,135.45 L401.04,135.32 L401.10,135.20Z" fill="#ee5c9e" stroke="#3a3a3a" stroke-width="0.35" stroke-linejoin="round"/>
<line x1="394.80" y1="18.20" x2="441.70" y2="18.20" stroke="#8a8a8a" stroke-width="0.6" />
<line x1="441.70" y1="18.20" x2="441.70" y2="145.10" stroke="#8a8a8a" stroke-width="0.6" />
<line x1="394.80" y1="28.40" x2="441.70" y2="28.40" stroke="#222" stroke-width="0.7" />
<line x1="394.80" y1="39.20" x2="441.70" y2="39.20" stroke="#222" stroke-width="0.7" />
<line x1="394.80" y1="49.90" x2="441.70" y2="49.90" stroke="#222" stroke-width="0.7" />
<line x1="394.80" y1="60.30" x2="441.70" y2="60.30" stroke="#222" stroke-width="0.7" />
<line x1="394.80" y1="71.30" x2="441.70" y2="71.30" stroke="#222" stroke-width="0.7" />
<line x1="394.80" y1="81.60" x2="441.70" y2="81.60" stroke="#222" stroke-width="0.7" />
<line x1="394.80" y1="92.40" x2="441.70" y2="92.40" stroke="#222" stroke-width="0.7" />
<line x1="394.80" y1="103.20" x2="441.70" y2="103.20" stroke="#222" stroke-width="0.7" />
<line x1="394.80" y1="113.60" x2="441.70" y2="113.60" stroke="#222" stroke-width="0.7" />
<line x1="394.80" y1="124.20" x2="441.70" y2="124.20" stroke="#222" stroke-width="0.7" />
<line x1="394.80" y1="134.90" x2="441.70" y2="134.90" stroke="#222" stroke-width="0.7" />
<line x1="394.80" y1="145.10" x2="441.70" y2="145.10" stroke="#222" stroke-width="0.7" />
<line x1="394.80" y1="18.20" x2="394.80" y2="145.10" stroke="#222" stroke-width="0.7" />
<line x1="393.60" y1="19.42" x2="394.80" y2="19.42" stroke="#333" stroke-width="0.4" />
<line x1="393.60" y1="21.46" x2="394.80" y2="21.46" stroke="#333" stroke-width="0.4" />
<line x1="393.60" y1="23.50" x2="394.80" y2="23.50" stroke="#333" stroke-width="0.4" />
<line x1="393.60" y1="25.54" x2="394.80" y2="25.54" stroke="#333" stroke-width="0.4" />
<line x1="393.60" y1="27.58" x2="394.80" y2="27.58" stroke="#333" stroke-width="0.4" />
<line x1="393.60" y1="29.70" x2="394.80" y2="29.70" stroke="#333" stroke-width="0.4" />
<line x1="393.60" y1="31.86" x2="394.80" y2="31.86" stroke="#333" stroke-width="0.4" />
<line x1="393.60" y1="34.02" x2="394.80" y2="34.02" stroke="#333" stroke-width="0.4" />
<line x1="393.60" y1="36.18" x2="394.80" y2="36.18" stroke="#333" stroke-width="0.4" />
<line x1="393.60" y1="38.34" x2="394.80" y2="38.34" stroke="#333" stroke-width="0.4" />
<line x1="393.60" y1="40.48" x2="394.80" y2="40.48" stroke="#333" stroke-width="0.4" />
<line x1="393.60" y1="42.62" x2="394.80" y2="42.62" stroke="#333" stroke-width="0.4" />
<line x1="393.60" y1="44.76" x2="394.80" y2="44.76" stroke="#333" stroke-width="0.4" />
<line x1="393.60" y1="46.90" x2="394.80" y2="46.90" stroke="#333" stroke-width="0.4" />
<line x1="393.60" y1="49.04" x2="394.80" y2="49.04" stroke="#333" stroke-width="0.4" />
<line x1="393.60" y1="51.15" x2="394.80" y2="51.15" stroke="#333" stroke-width="0.4" />
<line x1="393.60" y1="53.23" x2="394.80" y2="53.23" stroke="#333" stroke-width="0.4" />
<line x1="393.60" y1="55.31" x2="394.80" y2="55.31" stroke="#333" stroke-width="0.4" />
<line x1="393.60" y1="57.39" x2="394.80" y2="57.39" stroke="#333" stroke-width="0.4" />
<line x1="393.60" y1="59.47" x2="394.80" y2="59.47" stroke="#333" stroke-width="0.4" />
<line x1="393.60" y1="61.62" x2="394.80" y2="61.62" stroke="#333" stroke-width="0.4" />
<line x1="393.60" y1="63.82" x2="394.80" y2="63.82" stroke="#333" stroke-width="0.4" />
<line x1="393.60" y1="66.02" x2="394.80" y2="66.02" stroke="#333" stroke-width="0.4" />
<line x1="393.60" y1="68.22" x2="394.80" y2="68.22" stroke="#333" stroke-width="0.4" />
<line x1="393.60" y1="70.42" x2="394.80" y2="70.42" stroke="#333" stroke-width="0.4" />
<line x1="393.60" y1="72.54" x2="394.80" y2="72.54" stroke="#333" stroke-width="0.4" />
<line x1="393.60" y1="74.60" x2="394.80" y2="74.60" stroke="#333" stroke-width="0.4" />
<line x1="393.60" y1="76.66" x2="394.80" y2="76.66" stroke="#333" stroke-width="0.4" />
<line x1="393.60" y1="78.72" x2="394.80" y2="78.72" stroke="#333" stroke-width="0.4" />
<line x1="393.60" y1="80.78" x2="394.80" y2="80.78" stroke="#333" stroke-width="0.4" />
<line x1="393.60" y1="82.90" x2="394.80" y2="82.90" stroke="#333" stroke-width="0.4" />
<line x1="393.60" y1="85.06" x2="394.80" y2="85.06" stroke="#333" stroke-width="0.4" />
<line x1="393.60" y1="87.22" x2="394.80" y2="87.22" stroke="#333" stroke-width="0.4" />
<line x1="393.60" y1="89.38" x2="394.80" y2="89.38" stroke="#333" stroke-width="0.4" />
<line x1="393.60" y1="91.54" x2="394.80" y2="91.54" stroke="#333" stroke-width="0.4" />
<line x1="393.60" y1="93.70" x2="394.80" y2="93.70" stroke="#333" stroke-width="0.4" />
<line x1="393.60" y1="95.86" x2="394.80" y2="95.86" stroke="#333" stroke-width="0.4" />
<line x1="393.60" y1="98.02" x2="394.80" y2="98.02" stroke="#333" stroke-width="0.4" />
<line x1="393.60" y1="100.18" x2="394.80" y2="100.18" stroke="#333" stroke-width="0.4" />
<line x1="393.60" y1="102.34" x2="394.80" y2="102.34" stroke="#333" stroke-width="0.4" />
<line x1="393.60" y1="104.45" x2="394.80" y2="104.45" stroke="#333" stroke-width="0.4" />
<line x1="393.60" y1="106.53" x2="394.80" y2="106.53" stroke="#333" stroke-width="0.4" />
<line x1="393.60" y1="108.61" x2="394.80" y2="108.61" stroke="#333" stroke-width="0.4" />
<line x1="393.60" y1="110.69" x2="394.80" y2="110.69" stroke="#333" stroke-width="0.4" />
<line x1="393.60" y1="112.77" x2="394.80" y2="112.77" stroke="#333" stroke-width="0.4" />
<line x1="393.60" y1="114.87" x2="394.80" y2="114.87" stroke="#333" stroke-width="0.4" />
<line x1="393.60" y1="116.99" x2="394.80" y2="116.99" stroke="#333" stroke-width="0.4" />
<line x1="393.60" y1="119.11" x2="394.80" y2="119.11" stroke="#333" stroke-width="0.4" />
<line x1="393.60" y1="121.23" x2="394.80" y2="121.23" stroke="#333" stroke-width="0.4" />
<line x1="393.60" y1="123.35" x2="394.80" y2="123.35" stroke="#333" stroke-width="0.4" />
<line x1="393.60" y1="125.48" x2="394.80" y2="125.48" stroke="#333" stroke-width="0.4" />
<line x1="393.60" y1="127.62" x2="394.80" y2="127.62" stroke="#333" stroke-width="0.4" />
<line x1="393.60" y1="129.76" x2="394.80" y2="129.76" stroke="#333" stroke-width="0.4" />
<line x1="393.60" y1="131.90" x2="394.80" y2="131.90" stroke="#333" stroke-width="0.4" />
<line x1="393.60" y1="134.04" x2="394.80" y2="134.04" stroke="#333" stroke-width="0.4" />
<line x1="393.60" y1="136.12" x2="394.80" y2="136.12" stroke="#333" stroke-width="0.4" />
<line x1="393.60" y1="138.16" x2="394.80" y2="138.16" stroke="#333" stroke-width="0.4" />
<line x1="393.60" y1="140.20" x2="394.80" y2="140.20" stroke="#333" stroke-width="0.4" />
<line x1="393.60" y1="142.24" x2="394.80" y2="142.24" stroke="#333" stroke-width="0.4" />
<line x1="393.60" y1="144.28" x2="394.80" y2="144.28" stroke="#333" stroke-width="0.4" />
<text x="387.80" y="22.89" font-size="7.2" text-anchor="middle">3</text>
<text x="387.80" y="34.89" font-size="7.2" text-anchor="middle">2</text>
<text x="387.80" y="43.59" font-size="7.2" text-anchor="middle">4</text>
<text x="387.80" y="55.89" font-size="7.2" text-anchor="middle">2</text>
<text x="387.80" y="65.39" font-size="7.2" text-anchor="middle">3</text>
<text x="387.80" y="76.39" font-size="7.2" text-anchor="middle">3</text>
<text x="387.80" y="85.79" font-size="7.2" text-anchor="middle">2</text>
<text x="387.80" y="99.99" font-size="7.2" text-anchor="middle">1</text>
<text x="387.80" y="108.89" font-size="7.2" text-anchor="middle">2</text>
<text x="387.80" y="117.59" font-size="7.2" text-anchor="middle">3</text>
<text x="387.80" y="129.99" font-size="7.2" text-anchor="middle">2</text>
<text x="387.80" y="138.39" font-size="7.2" text-anchor="middle">4</text>
<line x1="407.60" y1="145.10" x2="407.60" y2="146.60" stroke="#333" stroke-width="0.5" />
<line x1="429.20" y1="145.10" x2="429.20" y2="146.60" stroke="#333" stroke-width="0.5" />
<text x="407.30" y="156.56" font-size="7.4" text-anchor="middle">Ctrl</text>
<text x="429.20" y="156.56" font-size="7.4" text-anchor="middle">bAVM</text>
<line x1="395.50" y1="160.50" x2="440.00" y2="160.50" stroke="#333" stroke-width="0.8" />
<text x="419.00" y="170.28" font-size="8.0" text-anchor="middle">PID27</text>
<text x="443.70" y="25.86" font-size="7.4" font-style="italic" textLength="21.83" lengthAdjust="spacingAndGlyphs">Ephb4</text>
<text x="443.70" y="36.46" font-size="7.4" font-style="italic" textLength="17.62" lengthAdjust="spacingAndGlyphs">Cdk6</text>
<text x="443.70" y="46.76" font-size="7.4" font-style="italic" textLength="12.16" lengthAdjust="spacingAndGlyphs">Tll1</text>
<text x="443.70" y="57.46" font-size="7.4" font-style="italic" textLength="19.29" lengthAdjust="spacingAndGlyphs">Ackr1</text>
<text x="443.70" y="67.96" font-size="7.4" font-style="italic" textLength="18.04" lengthAdjust="spacingAndGlyphs">Gse1</text>
<text x="443.70" y="78.76" font-size="7.4" font-style="italic" textLength="16.36" lengthAdjust="spacingAndGlyphs">Nrp2</text>
<text x="443.70" y="89.06" font-size="7.4" font-style="italic" textLength="20.13" lengthAdjust="spacingAndGlyphs">Mki67</text>
<text x="443.70" y="100.06" font-size="7.4" font-style="italic" textLength="17.62" lengthAdjust="spacingAndGlyphs">Cdk1</text>
<text x="443.70" y="110.56" font-size="7.4" font-style="italic" textLength="18.46" lengthAdjust="spacingAndGlyphs">Nr2f2</text>
<text x="443.70" y="121.16" font-size="7.4" font-style="italic" textLength="13.01" lengthAdjust="spacingAndGlyphs">Klf2</text>
<text x="443.70" y="131.76" font-size="7.4" font-style="italic" textLength="21.82" lengthAdjust="spacingAndGlyphs">Ccnd3</text>
<text x="443.70" y="142.56" font-size="7.4" font-style="italic" textLength="27.00" lengthAdjust="spacingAndGlyphs">Ccdc141</text>
<line x1="473.70" y1="21.00" x2="473.70" y2="144.00" stroke="#777" stroke-width="0.8" />
<text x="480.20" y="85.66" font-size="7.4" text-anchor="middle" transform="rotate(90 480.20 83.00)" textLength="72.00" lengthAdjust="spacingAndGlyphs">Cell cycle regulation</text>
<text x="490.9" y="12.0" font-size="12.5" font-weight="bold" fill="#000" stroke="#000" stroke-width="0.3">c</text>
<rect x="491.30" y="23.70" width="95.70" height="11.60" fill="#fff" stroke="#7d7d7d" stroke-width="0.8" />
<text x="539.15" y="32.67" font-size="8.8" text-anchor="middle" textLength="14.60" lengthAdjust="spacingAndGlyphs">Ctrl</text>
<rect x="588.80" y="23.70" width="94.60" height="11.60" fill="#fff" stroke="#7d7d7d" stroke-width="0.8" />
<text x="636.10" y="32.67" font-size="8.8" text-anchor="middle" textLength="21.60" lengthAdjust="spacingAndGlyphs">Nidus</text>
<rect x="491.20" y="37.00" width="192.00" height="121.30" fill="#c0c0c0" />
<svg x="491.20" y="37.00" width="95.80" height="73.40" viewBox="0 0 95.80 73.40">
<rect x="0.00" y="0.00" width="95.80" height="73.40" fill="#04051c" />
<rect x="0.00" y="0.00" width="95.80" height="73.40" fill="#000" filter="url(#spBlueD)"/>
<path d="M22.6,7.6Q20.2,8.6 19.5,10.0M87.9,58.8Q88.2,56.1 88.4,54.4M16.5,7.8Q18.9,13.3 18.4,16.1M76.7,14.2Q76.2,18.5 74.2,20.5M84.3,6.4Q81.6,3.1 78.8,2.0M45.4,6.6Q49.3,4.1 52.9,3.3M87.1,42.0Q90.1,38.9 93.0,36.6M57.4,31.6Q59.4,32.6 59.9,35.7M4.4,46.0Q3.8,48.5 3.3,52.1M95.5,14.4Q94.0,15.0 91.9,16.6M34.1,54.8Q34.0,56.4 31.4,60.6M5.9,16.8Q5.3,12.9 6.5,10.1M17.0,33.7Q21.9,36.3 23.9,35.6M70.4,70.5Q73.9,71.4 75.1,71.0M39.3,69.2Q35.6,65.3 33.6,63.8M42.5,10.0Q38.6,10.8 36.1,16.0M4.3,12.4Q4.3,8.9 5.4,7.4M94.1,31.1Q93.7,32.2 94.9,34.4M64.8,11.0Q67.0,13.2 70.6,12.5M11.7,38.8Q13.5,36.1 12.5,33.5M23.2,30.1Q25.2,31.9 28.6,31.4M79.6,36.6Q81.2,36.4 84.1,37.5M22.2,63.8Q23.9,65.2 24.3,66.4M94.9,29.6Q98.7,28.4 100.5,25.5M47.4,6.8Q50.0,12.6 49.4,14.8M32.2,48.2Q34.4,45.1 34.3,41.7M62.7,50.3Q64.2,52.8 61.7,58.8M93.0,70.6Q92.9,68.6 91.4,67.7M92.8,49.0Q94.9,49.9 96.5,50.5M71.5,68.1Q72.4,68.8 72.1,71.0M84.0,8.5Q86.8,5.1 86.8,1.3M84.2,14.8Q84.0,13.3 81.8,10.4M45.2,38.6Q46.9,38.9 48.3,39.2M82.8,44.6Q85.2,46.7 86.2,48.6M1.0,61.5Q1.9,59.7 2.7,58.4M75.4,22.8Q77.1,24.6 76.0,28.7M11.0,45.6Q13.0,44.7 15.5,41.6M74.4,4.9Q75.5,4.2 77.5,2.1M40.5,58.6Q41.2,60.7 44.6,65.8M47.3,24.9Q44.2,21.7 39.2,22.7M29.9,40.0Q26.2,38.8 22.6,40.6M23.5,62.2Q23.0,65.7 18.8,68.2M64.8,44.7Q63.1,50.4 61.5,52.6M29.3,63.7Q29.9,59.2 30.8,57.2M73.9,26.6Q72.1,24.3 71.9,23.3M77.5,13.0Q79.8,11.1 81.8,10.0M59.5,6.9Q54.6,10.0 52.4,11.8M31.3,22.1Q33.5,22.8 34.4,22.5M76.7,59.3Q78.8,58.7 80.5,58.1M55.0,68.8Q53.6,65.1 55.5,60.1M64.7,54.7Q61.0,53.7 58.8,49.3M38.9,44.0Q41.1,40.8 44.7,39.6M31.3,46.0Q35.1,45.5 39.7,45.8M78.3,20.8Q76.5,21.7 75.7,22.5M66.4,45.1Q64.1,46.9 60.7,51.7M6.5,71.5Q11.2,70.4 15.0,70.8M8.8,18.9Q11.2,24.3 10.2,27.4M14.2,17.5Q11.5,22.9 11.6,25.8M65.2,40.2Q67.5,38.8 69.6,39.0M9.3,2.3Q7.7,5.0 7.8,5.7M27.7,65.3Q27.2,63.5 25.5,58.3M84.2,52.8Q81.6,51.7 77.5,50.2M48.1,11.3Q48.5,7.9 51.4,6.4M83.8,18.8Q82.3,20.4 78.3,23.3M37.1,31.1Q39.1,33.7 45.2,32.5M14.6,11.5Q15.9,8.5 19.2,5.0M45.7,52.7Q49.2,57.2 48.8,60.0M88.3,68.8Q86.7,71.9 82.4,74.3M10.3,45.5Q12.7,45.1 14.4,42.9M57.5,2.7Q56.8,1.4 54.4,-0.6M29.4,65.7Q28.5,64.9 25.9,62.2M85.6,64.8Q84.0,61.9 81.7,58.8M94.6,25.9Q97.8,27.9 100.9,29.5M57.3,18.3Q58.3,20.7 58.3,21.6M66.7,8.6Q70.7,6.0 74.6,7.5M80.8,45.8Q80.1,44.0 78.6,43.6M45.8,10.6Q44.2,15.2 40.5,17.1M28.6,28.5Q27.2,28.3 26.0,26.6M72.2,63.3Q72.2,67.5 70.1,70.1M41.9,12.8Q47.8,12.4 50.2,13.8M72.4,29.9Q68.9,27.5 66.8,24.1M24.5,37.5Q26.3,38.9 29.0,38.4M12.7,55.7Q15.0,56.2 20.3,60.3M20.3,68.5Q18.2,63.2 16.2,61.2M32.6,33.4Q34.1,34.0 36.6,33.2M10.9,71.3Q10.5,75.7 9.1,77.4M7.3,62.2Q7.1,66.4 10.4,68.8M17.3,15.1Q19.3,16.9 22.2,16.2M58.1,26.7Q59.6,27.5 62.2,26.5M91.1,50.2Q93.5,50.3 94.5,49.8M64.0,61.9Q64.9,63.1 67.3,64.4M52.3,39.7Q51.2,43.5 47.5,45.4M3.6,11.2Q4.2,12.7 4.5,15.6M59.8,25.3Q59.1,26.9 55.1,30.7M33.4,72.0Q33.2,74.1 34.1,75.1M70.1,68.9Q68.1,69.3 66.8,68.9M37.6,10.2Q35.2,12.1 33.5,14.3M13.1,2.2Q13.5,-2.9 14.6,-5.0M28.3,41.0Q32.0,39.2 33.0,37.4M17.3,45.1Q15.4,41.6 12.0,41.3M41.9,58.7Q42.4,59.6 44.0,61.2M41.7,23.1Q40.0,21.9 39.0,20.1M52.1,70.4Q53.9,69.6 56.3,68.6M52.1,26.9Q53.4,24.5 54.8,23.7M84.6,43.7Q86.9,43.8 88.4,43.4M4.9,60.2Q6.9,59.4 7.4,57.7M57.9,39.9Q57.7,42.2 57.6,43.2M20.0,34.7Q21.0,39.6 18.6,41.7M27.6,30.6Q31.8,31.7 33.8,30.7M6.9,31.8Q10.5,32.5 11.8,34.5M81.0,70.1Q82.8,69.1 82.8,66.3M95.7,0.8Q98.1,0.7 100.4,0.9M8.9,47.0Q7.2,44.2 5.5,41.1M66.1,4.7Q63.6,6.0 62.6,6.2M31.1,24.9Q29.3,28.6 30.0,31.3M6.7,70.1Q9.0,73.0 10.9,76.5M29.1,26.4Q29.4,22.5 29.5,20.2M59.9,12.5Q56.6,13.2 53.0,13.3M54.6,14.2Q58.8,14.9 61.5,12.4M43.3,24.4Q42.0,26.3 41.6,29.0M20.0,35.5Q19.8,37.6 18.7,40.6M82.7,58.5Q79.5,60.4 78.9,65.6M95.3,2.4Q97.4,3.2 103.5,2.7M53.2,16.4Q52.9,19.6 53.5,25.2M42.3,53.7Q42.4,54.7 41.4,57.2M5.3,0.3Q8.8,0.4 10.9,0.1M93.4,25.2Q89.5,27.6 89.2,30.9M72.7,42.0Q68.2,43.3 64.1,42.6M37.6,6.3Q35.0,7.3 34.3,9.1M12.1,33.5Q13.2,29.1 11.5,26.0M64.1,65.3Q59.1,69.6 57.4,70.4M84.4,71.9Q85.9,69.5 87.9,65.6M84.2,42.3Q80.2,38.6 78.0,36.3M3.4,64.4Q0.1,60.8 -1.4,59.3M45.9,64.4Q43.9,67.5 42.5,68.8M11.9,63.5Q16.4,63.7 19.0,64.1M71.1,20.6Q72.1,23.1 74.3,24.6M54.0,48.5Q58.9,49.7 61.6,47.3M89.0,54.4Q88.0,57.8 85.5,59.4M86.2,54.5Q85.4,51.8 84.0,50.5M62.0,12.9Q67.9,12.6 70.7,13.9M4.3,60.1Q5.2,58.8 4.8,56.2M55.0,20.1Q56.5,21.1 58.2,21.3M61.1,16.5Q61.8,14.3 62.1,13.3M0.5,14.2Q0.1,12.1 1.7,10.1M33.4,42.1Q31.7,39.9 27.0,38.7M60.8,8.7Q61.5,10.2 60.8,12.3M68.1,64.4Q65.9,65.8 64.9,67.2M37.1,5.1Q40.4,3.6 41.1,-0.4M69.5,60.5Q69.6,59.0 67.9,55.1" fill="none" stroke="#3fa860" stroke-width="0.45" stroke-linecap="round" opacity="0.55"/>
<path d="M10.3,10.6Q12.3,12.8 12.6,14.8M81.9,26.9Q80.4,25.6 78.3,25.3M0.7,29.2Q-3.0,29.4 -5.3,26.7M77.8,11.6Q79.9,8.9 79.0,4.9M37.4,39.9Q35.0,38.7 34.2,35.5M51.8,5.2Q51.2,6.1 50.7,8.4M50.7,20.5Q51.2,18.7 53.6,15.1M55.8,19.8Q56.9,19.2 58.3,18.2M15.6,36.1Q17.7,33.9 18.8,33.2M93.5,70.8Q94.5,72.0 96.5,76.0M20.2,53.5Q16.8,53.2 15.2,54.6M35.0,37.7Q35.6,36.5 37.0,33.4M66.1,55.5Q66.4,52.2 67.8,50.8M63.0,54.9Q65.7,53.0 68.4,51.1M92.4,6.3Q90.9,8.4 88.8,10.0M15.2,37.3Q15.5,38.9 17.2,41.4M60.1,29.3Q61.7,30.9 62.5,33.5M26.1,32.0Q25.8,29.8 25.0,29.1M85.3,14.0Q85.9,12.3 86.7,11.2M74.3,56.6Q75.8,57.6 76.6,58.9M35.7,25.6Q33.6,26.6 32.2,29.5M45.2,72.6Q46.7,69.5 45.8,66.7M34.7,58.2Q36.1,60.4 39.6,61.8M49.2,56.7Q52.8,56.4 54.5,58.8M65.5,20.6Q63.6,16.8 65.2,13.6M47.8,72.0Q48.7,71.2 50.6,70.6M77.0,58.0Q75.0,58.1 70.7,55.7M60.8,19.0Q61.7,15.1 60.2,13.2M2.1,25.0Q1.0,27.6 2.0,29.6M40.9,19.5Q42.0,22.0 45.2,22.6M26.5,65.9Q28.8,67.6 29.8,69.1M42.9,64.7Q44.6,66.7 46.2,70.2M33.5,20.4Q32.0,19.0 30.3,16.9M82.3,51.3Q82.1,55.1 80.7,56.7M37.0,39.1Q36.7,37.2 37.2,34.7M35.8,62.2Q34.9,64.0 33.6,65.4M94.9,69.2Q93.1,70.3 90.7,71.4M56.3,29.5Q59.3,27.7 60.5,24.4M85.1,18.8Q86.1,18.1 88.6,17.4M15.1,18.8Q13.5,17.4 12.3,16.6M90.4,5.8Q87.1,5.2 85.5,5.5M34.8,26.3Q32.3,25.2 29.9,24.5M58.4,35.6Q60.1,38.6 62.3,39.6M12.7,40.1Q12.7,43.1 11.0,45.3M54.8,68.4Q55.1,72.3 55.8,75.3M12.4,2.2Q13.2,5.1 15.2,6.6M14.8,48.7Q18.4,47.9 19.5,45.3M82.2,2.9Q80.0,3.3 78.0,2.6M70.0,15.0Q71.2,17.0 71.6,17.9M8.8,10.0Q9.6,12.9 13.3,15.3" fill="none" stroke="#8fd060" stroke-width="0.4" stroke-linecap="round" opacity="0.6"/>
</svg>
<svg x="588.30" y="37.00" width="95.00" height="73.40" viewBox="0 0 95.00 73.40">
<rect x="0.00" y="0.00" width="95.00" height="73.40" fill="#040a2c" />
<rect x="0.00" y="0.00" width="95.00" height="73.40" fill="#000" filter="url(#spBlueB)"/>
<rect x="0.00" y="0.00" width="95.00" height="73.40" fill="#000" filter="url(#spDark)" opacity="0.25"/>
<g fill="none" stroke-linecap="round" filter="url(#b05)">
<path d="M5,8 Q20.5,16.0 30,30" stroke="#22a884" stroke-width="1.5" opacity="0.75"/>
<path d="M12,5 Q28.0,10.5 38,22" stroke="#22a884" stroke-width="1.2" opacity="0.75"/>
<path d="M3,28 Q18.5,33.0 28,44" stroke="#22a884" stroke-width="1.2" opacity="0.75"/>
<path d="M20,2 Q35.5,5.0 45,14" stroke="#22a884" stroke-width="1.0" opacity="0.75"/>
<path d="M8,40 Q24.0,42.0 34,50" stroke="#22a884" stroke-width="1.0" opacity="0.75"/>
<path d="M44,30 Q58.0,21.0 66,18" stroke="#22a884" stroke-width="1.2" opacity="0.75"/>
<path d="M66,18 Q81.0,10.0 90,8" stroke="#22a884" stroke-width="1.0" opacity="0.75"/>
<path d="M70,22 Q77.0,32.0 78,48" stroke="#22a884" stroke-width="1.5" opacity="0.75"/>
<path d="M50,40 Q65.0,34.0 74,34" stroke="#22a884" stroke-width="1.0" opacity="0.75"/>
<path d="M76,48 Q88.0,50.0 94,58" stroke="#22a884" stroke-width="1.2" opacity="0.75"/>
<path d="M2,56 Q19.0,49.0 30,48" stroke="#22a884" stroke-width="1.2" opacity="0.75"/>
<path d="M46,50 Q57.0,37.0 62,30" stroke="#22a884" stroke-width="1.2" opacity="0.75"/>
<path d="M38,60 Q48.0,51.0 52,48" stroke="#22a884" stroke-width="1.6" opacity="0.75"/>
<path d="M50,58 Q68.0,56.0 80,60" stroke="#22a884" stroke-width="1.0" opacity="0.75"/>
<path d="M60,66 Q79.0,65.0 92,70" stroke="#22a884" stroke-width="1.2" opacity="0.75"/>
<path d="M4,66 Q17.0,66.0 24,72" stroke="#22a884" stroke-width="1.2" opacity="0.75"/>
<path d="M84,30 Q92.0,34.0 94,44" stroke="#22a884" stroke-width="1.0" opacity="0.75"/>
</g>
<g fill="none" stroke-linecap="round" filter="url(#b1)" opacity="0.4">
<path d="M5,8 Q20.5,16.0 30,30" stroke="#1fae80" stroke-width="3.9"/>
<path d="M12,5 Q28.0,10.5 38,22" stroke="#1fae80" stroke-width="3.1"/>
<path d="M3,28 Q18.5,33.0 28,44" stroke="#1fae80" stroke-width="3.1"/>
<path d="M20,2 Q35.5,5.0 45,14" stroke="#1fae80" stroke-width="2.6"/>
<path d="M8,40 Q24.0,42.0 34,50" stroke="#1fae80" stroke-width="2.6"/>
<path d="M44,30 Q58.0,21.0 66,18" stroke="#1fae80" stroke-width="3.1"/>
<path d="M66,18 Q81.0,10.0 90,8" stroke="#1fae80" stroke-width="2.6"/>
<path d="M70,22 Q77.0,32.0 78,48" stroke="#1fae80" stroke-width="3.9"/>
<path d="M50,40 Q65.0,34.0 74,34" stroke="#1fae80" stroke-width="2.6"/>
<path d="M76,48 Q88.0,50.0 94,58" stroke="#1fae80" stroke-width="3.1"/>
<path d="M2,56 Q19.0,49.0 30,48" stroke="#1fae80" stroke-width="3.1"/>
<path d="M46,50 Q57.0,37.0 62,30" stroke="#1fae80" stroke-width="3.1"/>
<path d="M38,60 Q48.0,51.0 52,48" stroke="#1fae80" stroke-width="4.2"/>
<path d="M50,58 Q68.0,56.0 80,60" stroke="#1fae80" stroke-width="2.6"/>
<path d="M60,66 Q79.0,65.0 92,70" stroke="#1fae80" stroke-width="3.1"/>
<path d="M4,66 Q17.0,66.0 24,72" stroke="#1fae80" stroke-width="3.1"/>
<path d="M84,30 Q92.0,34.0 94,44" stroke="#1fae80" stroke-width="2.6"/>
</g>
<path d="M83.2,12.5Q82.3,9.3 80.5,6.4M14.2,65.9Q8.8,68.6 2.3,65.8M62.2,4.2Q69.1,6.1 74.1,4.6M79.6,26.5Q76.3,22.3 77.1,17.7M88.3,40.8Q88.7,38.6 89.4,36.4M52.7,62.1Q48.6,63.1 44.2,62.6M55.1,29.0Q53.1,35.5 52.7,39.7M25.8,72.5Q26.1,77.5 27.3,79.7M69.5,19.3Q69.4,22.6 69.9,29.2M11.1,52.9Q6.1,48.4 5.5,44.1M13.7,41.8Q14.3,43.8 14.5,47.6M75.5,12.2Q73.7,16.2 74.4,22.2M74.4,41.3Q79.0,34.0 78.5,31.1M37.3,33.3Q35.5,41.0 34.8,44.0M6.7,32.6Q3.0,30.9 -0.4,25.2M28.2,26.1Q29.2,29.3 30.2,31.3M18.3,35.8Q12.8,40.1 7.5,40.7M22.3,65.7Q25.2,66.1 27.4,66.5M50.1,45.7Q46.9,49.9 44.7,53.3M67.8,22.7Q70.8,15.1 68.6,12.2M40.5,12.0Q43.5,14.0 44.3,18.8M75.5,61.9Q79.0,62.0 85.4,59.9M54.5,20.1Q56.5,18.1 56.3,13.6M37.7,9.9Q37.8,8.5 39.8,5.1M22.5,19.1Q17.2,21.3 14.9,25.3M6.4,18.8Q6.7,16.1 6.2,9.7M2.9,20.7Q2.3,17.1 -1.6,15.5M91.2,53.8Q88.2,47.7 86.1,43.4M41.4,54.0Q44.7,50.6 45.4,45.8M73.9,9.4Q75.2,4.3 77.9,2.2M57.6,16.1Q53.7,18.2 52.2,22.5M7.2,25.6Q7.9,21.9 10.0,20.3M57.6,54.4Q57.1,57.2 61.7,64.1M8.9,57.7Q11.8,59.2 17.5,62.6M9.5,59.5Q6.6,64.0 1.6,67.8M43.8,41.3Q37.0,36.6 33.5,35.6M94.9,50.5Q90.3,46.6 89.6,44.8M76.2,19.9Q71.8,15.7 70.0,15.1M6.2,52.3Q6.9,57.4 6.8,60.4M15.2,31.3Q15.2,27.3 15.5,22.0M74.7,64.4Q71.5,64.3 70.0,63.5M64.6,32.7Q63.4,29.6 62.7,27.3M71.2,70.9Q70.5,74.1 70.4,75.6M94.5,4.2Q94.0,7.8 90.5,10.9M40.7,71.5Q41.8,68.6 39.5,60.3M64.9,57.3Q62.3,59.3 55.5,57.1M85.5,49.6Q81.5,51.4 78.2,49.9M63.3,58.6Q62.0,56.2 60.9,54.5M92.0,50.5Q90.9,53.6 86.6,56.5M67.1,26.6Q61.0,29.7 58.0,31.1M79.9,73.0Q77.7,73.6 71.1,71.4M82.6,38.6Q84.0,43.6 89.7,46.4M27.7,59.3Q25.1,55.4 22.6,53.0M94.9,40.8Q96.1,39.4 99.7,39.6M30.4,72.3Q34.6,74.5 36.0,78.2M27.7,15.6Q32.0,15.8 35.8,18.5M53.3,36.8Q51.5,35.2 51.3,31.2M65.3,55.6Q62.3,60.0 60.5,62.8M90.8,35.8Q86.2,36.5 81.6,38.4M2.1,60.1Q-4.1,61.9 -8.6,59.5M76.7,17.1Q77.4,15.6 77.5,12.9M68.5,21.3Q68.0,23.8 65.3,25.7M74.3,36.0Q71.5,39.7 63.7,40.7M61.8,65.3Q61.3,68.8 58.9,71.2M72.6,52.5Q71.3,54.8 68.6,55.3M50.5,23.4Q51.2,21.3 53.6,18.8M45.5,55.8Q50.0,56.3 56.9,56.8M2.5,27.5Q-5.1,25.2 -9.1,27.1M82.2,67.6Q79.7,67.5 74.1,67.8M42.8,31.8Q42.5,33.5 43.1,38.0" fill="none" stroke="#2aa890" stroke-width="0.7" stroke-linecap="round" opacity="0.55"/>
<g filter="url(#b05)">
<path d="M44.0,57.2Q46.1,55.5 48.8,52.2M90.8,23.2Q92.8,29.5 96.4,34.7M87.9,18.5Q85.1,23.6 84.9,28.6M54.7,31.7Q54.7,27.1 54.1,20.4M13.6,13.1Q13.7,17.5 12.0,20.3M85.0,28.7Q90.1,24.7 93.0,17.9M65.1,0.9Q63.3,4.6 61.3,8.0M87.2,19.1Q91.4,18.1 94.3,18.0M53.5,45.3Q59.0,46.1 63.6,48.5M8.9,44.4Q8.1,48.3 8.4,51.8M44.5,28.1Q47.7,30.5 50.3,33.4M17.4,60.0Q14.4,58.8 9.0,57.5M14.5,35.2Q15.0,39.9 13.3,47.9M13.0,49.4Q8.8,48.4 4.5,49.3M44.5,41.6Q49.8,38.0 54.5,37.3M47.9,41.3Q46.9,38.2 43.6,34.0M68.6,71.8Q72.8,70.9 75.3,69.9M57.4,1.5Q62.5,5.9 68.7,6.6M89.9,39.7Q85.4,37.8 80.8,34.0M93.7,24.6Q88.6,25.9 85.8,29.2M17.2,54.6Q21.0,59.2 21.8,64.4M94.9,18.4Q92.0,21.0 90.5,24.0M73.6,48.1Q73.3,50.9 74.7,54.5M52.2,0.1Q55.8,2.0 61.2,7.0M77.0,5.5Q77.6,2.3 76.8,-0.9M32.1,15.6Q34.2,10.9 36.1,7.1" fill="none" stroke="#25b088" stroke-width="1.3" stroke-linecap="round" opacity="0.55"/>
</g>
<g filter="url(#vtex)">
<path d="M23,55 L28,51 L36,53 L40,61 L38,72 L31,74 L27,66 Z" fill="#46cc6c"/>
<path d="M36,56 Q44,50 50,44" stroke="#35bd78" stroke-width="2" fill="none"/>
<path d="M21,58 Q15,60 9,58" stroke="#2cae80" stroke-width="1.4" fill="none"/>
</g>
<circle cx="18.32" cy="23.43" r="0.50" fill="#cc4a9a"/>
<circle cx="25.38" cy="53.44" r="0.50" fill="#cc4a9a"/>
<circle cx="76.94" cy="55.79" r="0.50" fill="#cc4a9a"/>
<circle cx="28.82" cy="25.48" r="0.50" fill="#cc4a9a"/>
<circle cx="87.89" cy="34.04" r="0.50" fill="#cc4a9a"/>
<circle cx="54.70" cy="5.60" r="0.50" fill="#cc4a9a"/>
<circle cx="72.65" cy="32.76" r="0.50" fill="#cc4a9a"/>
<circle cx="21.77" cy="34.98" r="0.50" fill="#cc4a9a"/>
<circle cx="20.28" cy="26.45" r="0.50" fill="#cc4a9a"/>
<circle cx="34.86" cy="32.26" r="0.50" fill="#cc4a9a"/>
<circle cx="32.86" cy="13.70" r="0.50" fill="#cc4a9a"/>
<circle cx="77.76" cy="38.83" r="0.50" fill="#cc4a9a"/>
<circle cx="36.38" cy="45.66" r="0.50" fill="#cc4a9a"/>
<circle cx="11.07" cy="22.49" r="0.50" fill="#cc4a9a"/>
<circle cx="34.42" cy="35.48" r="0.50" fill="#cc4a9a"/>
<circle cx="80.51" cy="32.90" r="0.50" fill="#cc4a9a"/>
<circle cx="39.15" cy="43.78" r="0.50" fill="#cc4a9a"/>
<circle cx="72.43" cy="24.16" r="0.50" fill="#cc4a9a"/>
<circle cx="63.79" cy="27.17" r="0.50" fill="#cc4a9a"/>
<circle cx="3.67" cy="7.13" r="0.50" fill="#cc4a9a"/>
<circle cx="6.59" cy="29.23" r="0.50" fill="#cc4a9a"/>
<circle cx="22.21" cy="41.04" r="0.50" fill="#cc4a9a"/>
<circle cx="68.95" cy="33.30" r="0.50" fill="#cc4a9a"/>
<circle cx="68.39" cy="23.04" r="0.50" fill="#cc4a9a"/>
<circle cx="19.20" cy="59.22" r="0.50" fill="#cc4a9a"/>
<circle cx="52.55" cy="17.09" r="0.50" fill="#cc4a9a"/>
<g filter="url(#b05)">
<ellipse cx="61.5" cy="35.3" rx="6.8" ry="6.2" fill="#020208"/>
<path d="M76,0 H95 V9 Q86,8 80,4 Z" fill="#03040f"/>
</g>
</svg>
<rect x="515.2" y="51.2" width="34.3" height="33" fill="none" stroke="#f2f2f2" stroke-width="1.2" stroke-dasharray="3.4 1.8"/>
<rect x="591.3" y="39.6" width="33.4" height="33" fill="none" stroke="#f2f2f2" stroke-width="1.2" stroke-dasharray="3.4 1.8"/>
<text x="586.20" y="44.86" font-size="7.4" text-anchor="end" fill="#f4f4f4">HO/Ki67/CD31</text>
<text x="682.60" y="44.86" font-size="7.4" text-anchor="end" fill="#f4f4f4">HO/Ki67/CD31</text>
<text x="680.20" y="104.56" font-size="7.4" text-anchor="end" fill="#fff">50 µm</text>
<rect x="672.30" y="106.90" width="7.70" height="2.30" fill="#fff" />
<svg x="491.20" y="111.70" width="46.50" height="46.60" viewBox="0 0 46.50 46.60">
<rect x="0.00" y="0.00" width="46.50" height="46.60" fill="#0b0305" />
<rect x="0.00" y="0.00" width="46.50" height="46.60" fill="#000" filter="url(#spRedD)" opacity="0.12"/>
</svg>
<svg x="539.40" y="111.70" width="47.60" height="46.60" viewBox="0 0 47.60 46.60">
<rect x="0.00" y="0.00" width="47.60" height="46.60" fill="#020904" />
<rect x="0.00" y="0.00" width="47.60" height="46.60" fill="#000" filter="url(#spGreenD)" opacity="0.25"/>
<g fill="none" stroke="#2bb045" stroke-width="0.7" stroke-linecap="round" filter="url(#b05)" opacity="0.95">
<path d="M1,17 Q8,14 12,9 Q17,4 23,6"/><path d="M20,6 Q25,12 24,20"/><path d="M2,29 Q10,27 16,21 Q20,17 23,19"/><path d="M30,10 Q34,14 38,13"/><path d="M33,20 Q37,22 43,24"/><path d="M12,33 Q14,28 19,30"/><path d="M18,36 Q22,32 26,33"/><path d="M30,38 Q36,34 40,27"/><path d="M8,44 Q18,42 30,44"/><path d="M34,42 Q40,40 46,37"/><path d="M43,8 Q45,12 44,16"/><path d="M5,2 L7,3"/><path d="M40,31 Q44,30 46,32"/>
</g>
</svg>
<svg x="588.30" y="111.70" width="47.80" height="46.60" viewBox="0 0 47.80 46.60">
<rect x="0.00" y="0.00" width="47.80" height="46.60" fill="#100408" />
<rect x="0.00" y="0.00" width="47.80" height="46.60" fill="#000" filter="url(#spRedD)" opacity="0.22"/>
<g stroke="#ee2a2a" stroke-width="1.3" stroke-linecap="round" filter="url(#b05)">
<path d="M10.5,5.5 L12.5,8.5"/>
<path d="M4,35 L5.5,37.5"/>
<path d="M26.5,33.5 L28.5,33.5"/>
<path d="M33,30 L34,32"/>
<path d="M35.5,33 L37,32.5"/>
<path d="M32,9.5 L32.5,10"/>
<path d="M0.8,28 L1,29"/>
</g>
</svg>
<svg x="637.30" y="111.70" width="46.10" height="46.60" viewBox="0 0 46.10 46.60">
<rect x="0.00" y="0.00" width="46.10" height="46.60" fill="#05200d" />
<rect x="0.00" y="0.00" width="46.10" height="46.60" fill="#000" filter="url(#spGreenD)" opacity="0.6"/>
<g fill="none" stroke-linecap="round" filter="url(#b1)">
<path d="M5,5 L16,14" stroke="#36c454" stroke-width="3.2"/>
<path d="M9,2 L19,9" stroke="#2eb04a" stroke-width="1.8"/>
<path d="M22,2 Q30,8 40,10" stroke="#279c40" stroke-width="2.6"/>
<path d="M6,17 Q12,20 16,27" stroke="#30b84e" stroke-width="2.2"/>
<path d="M1,22 Q6,30 8,39" stroke="#2cb04a" stroke-width="2.6"/>
<path d="M27,16 Q32,22 38,25" stroke="#27a042" stroke-width="2.0"/>
<path d="M18,34 Q26,30 32,27" stroke="#2cac48" stroke-width="2.0"/>
<path d="M20,42 Q30,40 44,30" stroke="#269a40" stroke-width="2.0"/>
<path d="M36,2 L45,6" stroke="#259a40" stroke-width="1.8"/>
<path d="M12,10 L3,3" stroke="#4ad868" stroke-width="1.2"/>
</g>
</svg>
<text x="537.30" y="119.16" font-size="7.4" text-anchor="end" fill="#f4f4f4">Ki67</text>
<text x="586.20" y="119.16" font-size="7.4" text-anchor="end" fill="#f4f4f4">CD31</text>
<text x="635.60" y="119.16" font-size="7.4" text-anchor="end" fill="#f4f4f4">Ki67</text>
<text x="682.60" y="119.16" font-size="7.4" text-anchor="end" fill="#f4f4f4">CD31</text>
<text x="682.40" y="150.96" font-size="7.4" text-anchor="end" fill="#fff">50 µm</text>
<rect x="669.80" y="153.70" width="12.60" height="2.50" fill="#fff" />
<text x="0.9" y="223.7" font-size="12.5" font-weight="bold" fill="#000" stroke="#000" stroke-width="0.3">d</text>
<text x="6.60" y="265.68" font-size="8.0" text-anchor="middle" transform="rotate(-90 6.60 262.80)" textLength="67.50" lengthAdjust="spacingAndGlyphs">Ki67<tspan dy="-2.6" font-size="5">+</tspan><tspan dy="2.6" font-size="0.1">&#8203;</tspan> cell number</text>
<text x="14.80" y="263.78" font-size="8.0" text-anchor="middle" transform="rotate(-90 14.80 260.90)" textLength="44.00" lengthAdjust="spacingAndGlyphs">(×10<tspan dy="-2.6" font-size="5">3</tspan><tspan dy="2.6" font-size="0.1">&#8203;</tspan> mm<tspan dy="-2.6" font-size="5">−3</tspan><tspan dy="2.6" font-size="0.1">&#8203;</tspan>)</text>
<rect x="77.10" y="265.30" width="12.60" height="26.90" fill="#8fce8c" />
<line x1="36.40" y1="230.00" x2="36.40" y2="292.20" stroke="#222" stroke-width="0.7" />
<line x1="36.40" y1="292.20" x2="102.50" y2="292.20" stroke="#222" stroke-width="0.7" />
<line x1="34.20" y1="236.40" x2="36.40" y2="236.40" stroke="#222" stroke-width="0.6" />
<text x="32.20" y="239.14" font-size="7.6" text-anchor="end">20</text>
<line x1="34.20" y1="250.30" x2="36.40" y2="250.30" stroke="#222" stroke-width="0.6" />
<text x="32.20" y="253.04" font-size="7.6" text-anchor="end">15</text>
<line x1="34.20" y1="264.30" x2="36.40" y2="264.30" stroke="#222" stroke-width="0.6" />
<text x="32.20" y="267.04" font-size="7.6" text-anchor="end">10</text>
<line x1="34.20" y1="278.30" x2="36.40" y2="278.30" stroke="#222" stroke-width="0.6" />
<text x="32.20" y="281.04" font-size="7.6" text-anchor="end">5</text>
<line x1="34.20" y1="292.20" x2="36.40" y2="292.20" stroke="#222" stroke-width="0.6" />
<text x="32.20" y="294.94" font-size="7.6" text-anchor="end">0</text>
<line x1="56.50" y1="292.20" x2="56.50" y2="294.40" stroke="#222" stroke-width="0.6" />
<line x1="83.40" y1="292.20" x2="83.40" y2="294.40" stroke="#222" stroke-width="0.6" />
<text x="56.30" y="305.55" font-size="8.2" text-anchor="middle">Ctrl</text>
<text x="83.20" y="305.55" font-size="8.2" text-anchor="middle">Nidus</text>
<path d="M80.5,234.4 L81.7,233.2 L82.9,234.4 L81.7,235.6Z" fill="#111"/>
<path d="M82.5,263.3 L83.7,262.1 L84.9,263.3 L83.7,264.5Z" fill="#111"/>
<path d="M81.8,267.8 L83.0,266.6 L84.2,267.8 L83.0,269.0Z" fill="#111"/>
<path d="M81.2,277.8 L82.4,276.6 L83.6,277.8 L82.4,279.0Z" fill="#111"/>
<path d="M82.8,281.6 L84.0,280.4 L85.2,281.6 L84.0,282.8Z" fill="#111"/>
<path d="M53.9,291.4 L55.0,290.3 L56.1,291.4 L55.0,292.5Z" fill="#111"/>
<path d="M55.4,291.6 L56.5,290.5 L57.6,291.6 L56.5,292.7Z" fill="#111"/>
<path d="M56.9,291.3 L58.0,290.2 L59.1,291.3 L58.0,292.4Z" fill="#111"/>
<line x1="80.40" y1="263.30" x2="86.70" y2="263.30" stroke="#111" stroke-width="0.6" />
<line x1="83.40" y1="263.30" x2="83.40" y2="268.00" stroke="#111" stroke-width="0.5" />
<line x1="52.00" y1="291.30" x2="62.50" y2="291.30" stroke="#111" stroke-width="0.6" />
<path d="M57.3,230.2 V228 H83.4 V230.2" fill="none" stroke="#222" stroke-width="0.6"/>
<text x="71.00" y="227.26" font-size="8.5" text-anchor="middle">*</text>
<text x="126.6" y="223.5" font-size="12.5" font-weight="bold" fill="#000" stroke="#000" stroke-width="0.3">e</text>
<circle cx="162.70" cy="252.70" r="25.60" fill="#f9d08b"/>
<line x1="162.70" y1="252.70" x2="186.28" y2="242.74" stroke="#f2a64a" stroke-width="0.7" />
<text x="162.70" y="260.72" font-size="7.0" text-anchor="middle">Ki67<tspan dy="-2.4" font-size="4.5">−</tspan><tspan dy="2.4" font-size="0.1">&#8203;</tspan></text>
<text x="162.70" y="269.82" font-size="7.0" text-anchor="middle" textLength="23.40" lengthAdjust="spacingAndGlyphs">(100%)</text>
<text x="163.10" y="292.05" font-size="8.2" text-anchor="middle" textLength="44.80" lengthAdjust="spacingAndGlyphs">CD31<tspan dy="-2.6" font-size="5">+</tspan><tspan dy="2.6" font-size="0.1">&#8203;</tspan> cells</text>
<text x="163.20" y="302.15" font-size="8.2" text-anchor="middle" textLength="51.50" lengthAdjust="spacingAndGlyphs">in ctrl region</text>
<text x="1.0" y="327.6" font-size="12.5" font-weight="bold" fill="#000" stroke="#000" stroke-width="0.3">f</text>
<circle cx="56.70" cy="350.50" r="25.50" fill="#c7e7c1"/>
<path d="M56.70,350.50 L80.17,340.54 A25.5,25.5 0 0 0 74.98,332.72Z" fill="#a6d99c"/>
<line x1="76.40" y1="336.90" x2="83.70" y2="334.00" stroke="#111" stroke-width="0.6" />
<text x="98.60" y="332.52" font-size="7.0" text-anchor="middle">Ki67<tspan dy="-2.4" font-size="4.5">+</tspan><tspan dy="2.4" font-size="0.1">&#8203;</tspan></text>
<text x="98.60" y="341.22" font-size="7.0" text-anchor="middle" textLength="21.85" lengthAdjust="spacingAndGlyphs">(5.9%)</text>
<text x="57.10" y="358.72" font-size="7.0" text-anchor="middle">Ki67<tspan dy="-2.4" font-size="4.5">−</tspan><tspan dy="2.4" font-size="0.1">&#8203;</tspan></text>
<text x="57.10" y="367.32" font-size="7.0" text-anchor="middle" textLength="25.98" lengthAdjust="spacingAndGlyphs">(94.1%)</text>
<text x="55.40" y="387.95" font-size="8.2" text-anchor="middle" textLength="44.50" lengthAdjust="spacingAndGlyphs">CD31<tspan dy="-2.6" font-size="5">+</tspan><tspan dy="2.6" font-size="0.1">&#8203;</tspan> cells</text>
<text x="55.40" y="397.75" font-size="8.2" text-anchor="middle" textLength="46.80" lengthAdjust="spacingAndGlyphs">in the nidus</text>
<text x="125.9" y="327.3" font-size="12.5" font-weight="bold" fill="#000" stroke="#000" stroke-width="0.3">g</text>
<circle cx="161.90" cy="349.80" r="25.90" fill="#c7e7c1"/>
<path d="M161.90,349.80 L187.80,349.80 A25.9,25.9 0 0 0 172.19,326.03Z" fill="#a6d99c"/>
<line x1="181.60" y1="340.10" x2="189.00" y2="337.00" stroke="#111" stroke-width="0.6" />
<text x="202.50" y="335.82" font-size="7.0" text-anchor="middle">CD31<tspan dy="-2.4" font-size="4.5">+</tspan><tspan dy="2.4" font-size="0.1">&#8203;</tspan></text>
<text x="202.50" y="345.12" font-size="7.0" text-anchor="middle" textLength="25.98" lengthAdjust="spacingAndGlyphs">(18.5%)</text>
<text x="161.10" y="358.72" font-size="7.0" text-anchor="middle">CD31<tspan dy="-2.4" font-size="4.5">−</tspan><tspan dy="2.4" font-size="0.1">&#8203;</tspan></text>
<text x="161.10" y="367.32" font-size="7.0" text-anchor="middle" textLength="25.98" lengthAdjust="spacingAndGlyphs">(81.5%)</text>
<text x="162.40" y="387.95" font-size="8.2" text-anchor="middle" textLength="40.20" lengthAdjust="spacingAndGlyphs">Ki67<tspan dy="-2.6" font-size="5">+</tspan><tspan dy="2.6" font-size="0.1">&#8203;</tspan> cells</text>
<text x="162.40" y="397.75" font-size="8.2" text-anchor="middle" textLength="46.80" lengthAdjust="spacingAndGlyphs">in the nidus</text>
<text x="234.0" y="223.7" font-size="12.5" font-weight="bold" fill="#000" stroke="#000" stroke-width="0.3">h</text>
<text x="238.80" y="304.95" font-size="8.2" text-anchor="middle" transform="rotate(-90 238.80 302.00)" textLength="66.50" lengthAdjust="spacingAndGlyphs">Expression level</text>
<rect x="257.20" y="231.30" width="55.60" height="139.70" fill="#fff" />
<line x1="272.60" y1="234.30" x2="272.60" y2="243.20" stroke="#444" stroke-width="0.55" />
<line x1="272.60" y1="245.20" x2="272.60" y2="254.50" stroke="#444" stroke-width="0.55" />
<line x1="272.60" y1="257.50" x2="272.60" y2="266.20" stroke="#444" stroke-width="0.55" />
<line x1="272.60" y1="267.70" x2="272.60" y2="301.30" stroke="#444" stroke-width="0.55" />
<line x1="272.60" y1="301.80" x2="272.60" y2="312.60" stroke="#444" stroke-width="0.55" />
<line x1="272.60" y1="318.60" x2="272.60" y2="335.60" stroke="#444" stroke-width="0.55" />
<line x1="272.60" y1="335.60" x2="272.60" y2="347.30" stroke="#444" stroke-width="0.55" />
<line x1="272.60" y1="348.30" x2="272.60" y2="372.00" stroke="#444" stroke-width="0.55" />
<line x1="297.70" y1="266.20" x2="297.70" y2="300.80" stroke="#444" stroke-width="0.55" />
<line x1="297.70" y1="335.60" x2="297.70" y2="347.30" stroke="#444" stroke-width="0.55" />
<line x1="297.70" y1="362.60" x2="297.70" y2="372.00" stroke="#444" stroke-width="0.55" />
<path d="M300.20,231.50 L300.39,231.72 L300.93,231.95 L301.74,232.18 L302.70,232.40 L303.66,232.62 L304.47,232.85 L305.01,233.08 L305.20,233.30 L305.34,233.64 L305.74,233.98 L306.34,234.31 L307.05,234.65 L307.76,234.99 L308.36,235.32 L308.76,235.66 L308.90,236.00 L308.74,236.32 L308.28,236.65 L307.60,236.97 L306.80,237.30 L306.00,237.62 L305.32,237.95 L304.86,238.28 L304.70,238.60 L304.51,238.86 L303.95,239.12 L303.13,239.39 L302.15,239.65 L301.17,239.91 L300.35,240.17 L299.79,240.44 L299.60,240.70 L299.62,240.84 L299.66,240.97 L299.72,241.11 L299.80,241.25 L299.88,241.39 L299.94,241.53 L299.98,241.66 L300.00,241.80 L300.20,241.94 L300.76,242.08 L301.61,242.21 L302.60,242.35 L303.59,242.49 L304.44,242.62 L305.00,242.76 L305.20,242.90 L290.20,242.90 L290.40,242.76 L290.96,242.62 L291.81,242.49 L292.80,242.35 L293.79,242.21 L294.64,242.08 L295.20,241.94 L295.40,241.80 L295.42,241.66 L295.46,241.53 L295.52,241.39 L295.60,241.25 L295.68,241.11 L295.74,240.97 L295.78,240.84 L295.80,240.70 L295.61,240.44 L295.05,240.17 L294.23,239.91 L293.25,239.65 L292.27,239.39 L291.45,239.12 L290.89,238.86 L290.70,238.60 L290.54,238.28 L290.08,237.95 L289.40,237.62 L288.60,237.30 L287.80,236.97 L287.12,236.65 L286.66,236.32 L286.50,236.00 L286.64,235.66 L287.04,235.32 L287.64,234.99 L288.35,234.65 L289.06,234.31 L289.66,233.98 L290.06,233.64 L290.20,233.30 L290.39,233.08 L290.93,232.85 L291.74,232.62 L292.70,232.40 L293.66,232.18 L294.47,231.95 L295.01,231.72 L295.20,231.50Z" fill="#f07671" stroke="#3a3a3a" stroke-width="0.35" stroke-linejoin="round"/>
<path d="M299.20,243.50 L299.43,243.69 L300.08,243.88 L301.05,244.06 L302.20,244.25 L303.35,244.44 L304.32,244.62 L304.97,244.81 L305.20,245.00 L305.34,245.29 L305.74,245.57 L306.34,245.86 L307.05,246.15 L307.76,246.44 L308.36,246.73 L308.76,247.01 L308.90,247.30 L308.76,247.61 L308.36,247.93 L307.76,248.24 L307.05,248.55 L306.34,248.86 L305.74,249.18 L305.34,249.49 L305.20,249.80 L305.06,250.08 L304.66,250.35 L304.06,250.62 L303.35,250.90 L302.64,251.18 L302.04,251.45 L301.64,251.72 L301.50,252.00 L301.52,252.15 L301.56,252.30 L301.62,252.45 L301.70,252.60 L301.78,252.75 L301.84,252.90 L301.88,253.05 L301.90,253.20 L302.03,253.32 L302.38,253.45 L302.92,253.57 L303.55,253.70 L304.18,253.82 L304.72,253.95 L305.07,254.07 L305.20,254.20 L290.20,254.20 L290.33,254.07 L290.68,253.95 L291.22,253.82 L291.85,253.70 L292.48,253.57 L293.02,253.45 L293.37,253.32 L293.50,253.20 L293.52,253.05 L293.56,252.90 L293.62,252.75 L293.70,252.60 L293.78,252.45 L293.84,252.30 L293.88,252.15 L293.90,252.00 L293.76,251.72 L293.36,251.45 L292.76,251.18 L292.05,250.90 L291.34,250.62 L290.74,250.35 L290.34,250.08 L290.20,249.80 L290.06,249.49 L289.66,249.18 L289.06,248.86 L288.35,248.55 L287.64,248.24 L287.04,247.93 L286.64,247.61 L286.50,247.30 L286.64,247.01 L287.04,246.73 L287.64,246.44 L288.35,246.15 L289.06,245.86 L289.66,245.57 L290.06,245.29 L290.20,245.00 L290.43,244.81 L291.08,244.62 L292.05,244.44 L293.20,244.25 L294.35,244.06 L295.32,243.88 L295.97,243.69 L296.20,243.50Z" fill="#dc8a14" stroke="#3a3a3a" stroke-width="0.35" stroke-linejoin="round"/>
<path d="M297.90,255.00 L297.94,255.38 L298.05,255.75 L298.21,256.12 L298.40,256.50 L298.59,256.88 L298.75,257.25 L298.86,257.62 L298.90,258.00 L298.95,258.35 L299.09,258.70 L299.30,259.05 L299.55,259.40 L299.80,259.75 L300.01,260.10 L300.15,260.45 L300.20,260.80 L300.14,261.11 L299.98,261.43 L299.74,261.74 L299.45,262.05 L299.16,262.36 L298.92,262.68 L298.76,262.99 L298.70,263.30 L298.72,263.49 L298.76,263.68 L298.82,263.86 L298.90,264.05 L298.98,264.24 L299.04,264.43 L299.08,264.61 L299.10,264.80 L299.47,264.94 L300.51,265.07 L302.06,265.21 L303.90,265.35 L305.74,265.49 L307.29,265.62 L308.33,265.76 L308.70,265.90 L286.70,265.90 L287.07,265.76 L288.11,265.62 L289.66,265.49 L291.50,265.35 L293.34,265.21 L294.89,265.07 L295.93,264.94 L296.30,264.80 L296.32,264.61 L296.36,264.43 L296.42,264.24 L296.50,264.05 L296.58,263.86 L296.64,263.68 L296.68,263.49 L296.70,263.30 L296.64,262.99 L296.48,262.68 L296.24,262.36 L295.95,262.05 L295.66,261.74 L295.42,261.43 L295.26,261.11 L295.20,260.80 L295.25,260.45 L295.39,260.10 L295.60,259.75 L295.85,259.40 L296.10,259.05 L296.31,258.70 L296.45,258.35 L296.50,258.00 L296.54,257.62 L296.65,257.25 L296.81,256.88 L297.00,256.50 L297.19,256.12 L297.35,255.75 L297.46,255.38 L297.50,255.00Z" fill="#2fb045" stroke="#3a3a3a" stroke-width="0.35" stroke-linejoin="round"/>
<path d="M299.20,303.20 L299.31,303.36 L299.64,303.52 L300.13,303.69 L300.70,303.85 L301.27,304.01 L301.76,304.18 L302.09,304.34 L302.20,304.50 L302.29,304.76 L302.55,305.02 L302.94,305.29 L303.40,305.55 L303.86,305.81 L304.25,306.08 L304.51,306.34 L304.60,306.60 L304.52,306.85 L304.29,307.10 L303.95,307.35 L303.55,307.60 L303.15,307.85 L302.81,308.10 L302.58,308.35 L302.50,308.60 L302.42,308.85 L302.18,309.10 L301.82,309.35 L301.40,309.60 L300.98,309.85 L300.62,310.10 L300.38,310.35 L300.30,310.60 L300.32,310.71 L300.39,310.83 L300.49,310.94 L300.60,311.05 L300.71,311.16 L300.81,311.27 L300.88,311.39 L300.90,311.50 L301.20,311.60 L302.04,311.70 L303.31,311.80 L304.80,311.90 L306.29,312.00 L307.56,312.10 L308.40,312.20 L308.70,312.30 L286.70,312.30 L287.00,312.20 L287.84,312.10 L289.11,312.00 L290.60,311.90 L292.09,311.80 L293.36,311.70 L294.20,311.60 L294.50,311.50 L294.52,311.39 L294.59,311.27 L294.69,311.16 L294.80,311.05 L294.91,310.94 L295.01,310.83 L295.08,310.71 L295.10,310.60 L295.02,310.35 L294.78,310.10 L294.42,309.85 L294.00,309.60 L293.58,309.35 L293.22,309.10 L292.98,308.85 L292.90,308.60 L292.82,308.35 L292.59,308.10 L292.25,307.85 L291.85,307.60 L291.45,307.35 L291.11,307.10 L290.88,306.85 L290.80,306.60 L290.89,306.34 L291.15,306.08 L291.54,305.81 L292.00,305.55 L292.46,305.29 L292.85,305.02 L293.11,304.76 L293.20,304.50 L293.31,304.34 L293.64,304.18 L294.13,304.01 L294.70,303.85 L295.27,303.69 L295.76,303.52 L296.09,303.36 L296.20,303.20Z" fill="#a974c9" stroke="#3a3a3a" stroke-width="0.35" stroke-linejoin="round"/>
<path d="M300.00,313.00 L300.07,313.31 L300.28,313.62 L300.59,313.94 L300.95,314.25 L301.31,314.56 L301.62,314.88 L301.83,315.19 L301.90,315.50 L302.00,315.89 L302.30,316.27 L302.73,316.66 L303.25,317.05 L303.77,317.44 L304.20,317.83 L304.50,318.21 L304.60,318.60 L304.54,318.88 L304.35,319.15 L304.08,319.43 L303.75,319.70 L303.42,319.98 L303.15,320.25 L302.96,320.53 L302.90,320.80 L302.85,320.98 L302.72,321.15 L302.53,321.32 L302.30,321.50 L302.07,321.68 L301.88,321.85 L301.75,322.02 L301.70,322.20 L301.72,322.32 L301.79,322.45 L301.89,322.57 L302.00,322.70 L302.11,322.82 L302.21,322.95 L302.28,323.07 L302.30,323.20 L302.54,323.29 L303.24,323.38 L304.28,323.46 L305.50,323.55 L306.72,323.64 L307.76,323.72 L308.46,323.81 L308.70,323.90 L286.70,323.90 L286.94,323.81 L287.64,323.72 L288.68,323.64 L289.90,323.55 L291.12,323.46 L292.16,323.38 L292.86,323.29 L293.10,323.20 L293.12,323.07 L293.19,322.95 L293.29,322.82 L293.40,322.70 L293.51,322.57 L293.61,322.45 L293.68,322.32 L293.70,322.20 L293.65,322.02 L293.52,321.85 L293.33,321.68 L293.10,321.50 L292.87,321.32 L292.68,321.15 L292.55,320.98 L292.50,320.80 L292.44,320.53 L292.25,320.25 L291.98,319.98 L291.65,319.70 L291.32,319.43 L291.05,319.15 L290.86,318.88 L290.80,318.60 L290.90,318.21 L291.20,317.83 L291.63,317.44 L292.15,317.05 L292.67,316.66 L293.10,316.27 L293.40,315.89 L293.50,315.50 L293.57,315.19 L293.78,314.88 L294.09,314.56 L294.45,314.25 L294.81,313.94 L295.12,313.62 L295.33,313.31 L295.40,313.00Z" fill="#b3941d" stroke="#3a3a3a" stroke-width="0.35" stroke-linejoin="round"/>
<path d="M300.70,324.40 L300.83,324.72 L301.21,325.05 L301.78,325.38 L302.45,325.70 L303.12,326.02 L303.69,326.35 L304.07,326.68 L304.20,327.00 L304.32,327.36 L304.67,327.73 L305.19,328.09 L305.80,328.45 L306.41,328.81 L306.93,329.17 L307.28,329.54 L307.40,329.90 L307.28,330.19 L306.93,330.47 L306.41,330.76 L305.80,331.05 L305.19,331.34 L304.67,331.62 L304.32,331.91 L304.20,332.20 L304.10,332.41 L303.83,332.62 L303.43,332.84 L302.95,333.05 L302.47,333.26 L302.07,333.47 L301.80,333.69 L301.70,333.90 L301.72,333.99 L301.79,334.07 L301.89,334.16 L302.00,334.25 L302.11,334.34 L302.21,334.43 L302.28,334.51 L302.30,334.60 L302.54,334.69 L303.24,334.78 L304.28,334.86 L305.50,334.95 L306.72,335.04 L307.76,335.12 L308.46,335.21 L308.70,335.30 L286.70,335.30 L286.94,335.21 L287.64,335.12 L288.68,335.04 L289.90,334.95 L291.12,334.86 L292.16,334.78 L292.86,334.69 L293.10,334.60 L293.12,334.51 L293.19,334.43 L293.29,334.34 L293.40,334.25 L293.51,334.16 L293.61,334.07 L293.68,333.99 L293.70,333.90 L293.60,333.69 L293.33,333.47 L292.93,333.26 L292.45,333.05 L291.97,332.84 L291.57,332.62 L291.30,332.41 L291.20,332.20 L291.08,331.91 L290.73,331.62 L290.21,331.34 L289.60,331.05 L288.99,330.76 L288.47,330.47 L288.12,330.19 L288.00,329.90 L288.12,329.54 L288.47,329.17 L288.99,328.81 L289.60,328.45 L290.21,328.09 L290.73,327.73 L291.08,327.36 L291.20,327.00 L291.33,326.68 L291.71,326.35 L292.28,326.02 L292.95,325.70 L293.62,325.38 L294.19,325.05 L294.57,324.72 L294.70,324.40Z" fill="#7fab2a" stroke="#3a3a3a" stroke-width="0.35" stroke-linejoin="round"/>
<path d="M297.90,349.00 L297.98,349.31 L298.19,349.62 L298.52,349.94 L298.90,350.25 L299.28,350.56 L299.61,350.88 L299.82,351.19 L299.90,351.50 L299.96,351.79 L300.13,352.07 L300.39,352.36 L300.70,352.65 L301.01,352.94 L301.27,353.23 L301.44,353.51 L301.50,353.80 L301.45,354.00 L301.31,354.20 L301.10,354.40 L300.85,354.60 L300.60,354.80 L300.39,355.00 L300.25,355.20 L300.20,355.40 L300.16,355.55 L300.05,355.70 L299.89,355.85 L299.70,356.00 L299.51,356.15 L299.35,356.30 L299.24,356.45 L299.20,356.60 L299.22,356.75 L299.27,356.90 L299.35,357.05 L299.45,357.20 L299.55,357.35 L299.63,357.50 L299.68,357.65 L299.70,357.80 L300.04,357.94 L301.02,358.07 L302.48,358.21 L304.20,358.35 L305.92,358.49 L307.38,358.62 L308.36,358.76 L308.70,358.90 L286.70,358.90 L287.04,358.76 L288.02,358.62 L289.48,358.49 L291.20,358.35 L292.92,358.21 L294.38,358.07 L295.36,357.94 L295.70,357.80 L295.72,357.65 L295.77,357.50 L295.85,357.35 L295.95,357.20 L296.05,357.05 L296.13,356.90 L296.18,356.75 L296.20,356.60 L296.16,356.45 L296.05,356.30 L295.89,356.15 L295.70,356.00 L295.51,355.85 L295.35,355.70 L295.24,355.55 L295.20,355.40 L295.15,355.20 L295.01,355.00 L294.80,354.80 L294.55,354.60 L294.30,354.40 L294.09,354.20 L293.95,354.00 L293.90,353.80 L293.96,353.51 L294.13,353.23 L294.39,352.94 L294.70,352.65 L295.01,352.36 L295.27,352.07 L295.44,351.79 L295.50,351.50 L295.58,351.19 L295.79,350.88 L296.12,350.56 L296.50,350.25 L296.88,349.94 L297.21,349.62 L297.42,349.31 L297.50,349.00Z" fill="#e36db9" stroke="#3a3a3a" stroke-width="0.35" stroke-linejoin="round"/>
<line x1="257.20" y1="231.30" x2="312.80" y2="231.30" stroke="#8a8a8a" stroke-width="0.6" />
<line x1="312.80" y1="231.30" x2="312.80" y2="371.00" stroke="#8a8a8a" stroke-width="0.6" />
<line x1="257.20" y1="243.20" x2="312.80" y2="243.20" stroke="#222" stroke-width="0.7" />
<line x1="257.20" y1="254.50" x2="312.80" y2="254.50" stroke="#222" stroke-width="0.7" />
<line x1="257.20" y1="266.20" x2="312.80" y2="266.20" stroke="#222" stroke-width="0.7" />
<line x1="257.20" y1="277.80" x2="312.80" y2="277.80" stroke="#222" stroke-width="0.7" />
<line x1="257.20" y1="289.40" x2="312.80" y2="289.40" stroke="#222" stroke-width="0.7" />
<line x1="257.20" y1="301.30" x2="312.80" y2="301.30" stroke="#222" stroke-width="0.7" />
<line x1="257.20" y1="312.60" x2="312.80" y2="312.60" stroke="#222" stroke-width="0.7" />
<line x1="257.20" y1="324.10" x2="312.80" y2="324.10" stroke="#222" stroke-width="0.7" />
<line x1="257.20" y1="335.60" x2="312.80" y2="335.60" stroke="#222" stroke-width="0.7" />
<line x1="257.20" y1="347.30" x2="312.80" y2="347.30" stroke="#222" stroke-width="0.7" />
<line x1="257.20" y1="359.10" x2="312.80" y2="359.10" stroke="#222" stroke-width="0.7" />
<line x1="257.20" y1="371.00" x2="312.80" y2="371.00" stroke="#222" stroke-width="0.7" />
<line x1="257.20" y1="231.30" x2="257.20" y2="371.00" stroke="#222" stroke-width="0.7" />
<line x1="256.00" y1="232.73" x2="257.20" y2="232.73" stroke="#333" stroke-width="0.4" />
<line x1="256.00" y1="235.11" x2="257.20" y2="235.11" stroke="#333" stroke-width="0.4" />
<line x1="256.00" y1="237.49" x2="257.20" y2="237.49" stroke="#333" stroke-width="0.4" />
<line x1="256.00" y1="239.87" x2="257.20" y2="239.87" stroke="#333" stroke-width="0.4" />
<line x1="256.00" y1="242.25" x2="257.20" y2="242.25" stroke="#333" stroke-width="0.4" />
<line x1="256.00" y1="244.56" x2="257.20" y2="244.56" stroke="#333" stroke-width="0.4" />
<line x1="256.00" y1="246.82" x2="257.20" y2="246.82" stroke="#333" stroke-width="0.4" />
<line x1="256.00" y1="249.08" x2="257.20" y2="249.08" stroke="#333" stroke-width="0.4" />
<line x1="256.00" y1="251.34" x2="257.20" y2="251.34" stroke="#333" stroke-width="0.4" />
<line x1="256.00" y1="253.60" x2="257.20" y2="253.60" stroke="#333" stroke-width="0.4" />
<line x1="256.00" y1="255.90" x2="257.20" y2="255.90" stroke="#333" stroke-width="0.4" />
<line x1="256.00" y1="258.24" x2="257.20" y2="258.24" stroke="#333" stroke-width="0.4" />
<line x1="256.00" y1="260.58" x2="257.20" y2="260.58" stroke="#333" stroke-width="0.4" />
<line x1="256.00" y1="262.92" x2="257.20" y2="262.92" stroke="#333" stroke-width="0.4" />
<line x1="256.00" y1="265.26" x2="257.20" y2="265.26" stroke="#333" stroke-width="0.4" />
<line x1="256.00" y1="267.59" x2="257.20" y2="267.59" stroke="#333" stroke-width="0.4" />
<line x1="256.00" y1="269.91" x2="257.20" y2="269.91" stroke="#333" stroke-width="0.4" />
<line x1="256.00" y1="272.23" x2="257.20" y2="272.23" stroke="#333" stroke-width="0.4" />
<line x1="256.00" y1="274.55" x2="257.20" y2="274.55" stroke="#333" stroke-width="0.4" />
<line x1="256.00" y1="276.87" x2="257.20" y2="276.87" stroke="#333" stroke-width="0.4" />
<line x1="256.00" y1="279.19" x2="257.20" y2="279.19" stroke="#333" stroke-width="0.4" />
<line x1="256.00" y1="281.51" x2="257.20" y2="281.51" stroke="#333" stroke-width="0.4" />
<line x1="256.00" y1="283.83" x2="257.20" y2="283.83" stroke="#333" stroke-width="0.4" />
<line x1="256.00" y1="286.15" x2="257.20" y2="286.15" stroke="#333" stroke-width="0.4" />
<line x1="256.00" y1="288.47" x2="257.20" y2="288.47" stroke="#333" stroke-width="0.4" />
<line x1="256.00" y1="290.83" x2="257.20" y2="290.83" stroke="#333" stroke-width="0.4" />
<line x1="256.00" y1="293.21" x2="257.20" y2="293.21" stroke="#333" stroke-width="0.4" />
<line x1="256.00" y1="295.59" x2="257.20" y2="295.59" stroke="#333" stroke-width="0.4" />
<line x1="256.00" y1="297.97" x2="257.20" y2="297.97" stroke="#333" stroke-width="0.4" />
<line x1="256.00" y1="300.35" x2="257.20" y2="300.35" stroke="#333" stroke-width="0.4" />
<line x1="256.00" y1="302.66" x2="257.20" y2="302.66" stroke="#333" stroke-width="0.4" />
<line x1="256.00" y1="304.92" x2="257.20" y2="304.92" stroke="#333" stroke-width="0.4" />
<line x1="256.00" y1="307.18" x2="257.20" y2="307.18" stroke="#333" stroke-width="0.4" />
<line x1="256.00" y1="309.44" x2="257.20" y2="309.44" stroke="#333" stroke-width="0.4" />
<line x1="256.00" y1="311.70" x2="257.20" y2="311.70" stroke="#333" stroke-width="0.4" />
<line x1="256.00" y1="313.98" x2="257.20" y2="313.98" stroke="#333" stroke-width="0.4" />
<line x1="256.00" y1="316.28" x2="257.20" y2="316.28" stroke="#333" stroke-width="0.4" />
<line x1="256.00" y1="318.58" x2="257.20" y2="318.58" stroke="#333" stroke-width="0.4" />
<line x1="256.00" y1="320.88" x2="257.20" y2="320.88" stroke="#333" stroke-width="0.4" />
<line x1="256.00" y1="323.18" x2="257.20" y2="323.18" stroke="#333" stroke-width="0.4" />
<line x1="256.00" y1="325.48" x2="257.20" y2="325.48" stroke="#333" stroke-width="0.4" />
<line x1="256.00" y1="327.78" x2="257.20" y2="327.78" stroke="#333" stroke-width="0.4" />
<line x1="256.00" y1="330.08" x2="257.20" y2="330.08" stroke="#333" stroke-width="0.4" />
<line x1="256.00" y1="332.38" x2="257.20" y2="332.38" stroke="#333" stroke-width="0.4" />
<line x1="256.00" y1="334.68" x2="257.20" y2="334.68" stroke="#333" stroke-width="0.4" />
<line x1="256.00" y1="337.00" x2="257.20" y2="337.00" stroke="#333" stroke-width="0.4" />
<line x1="256.00" y1="339.34" x2="257.20" y2="339.34" stroke="#333" stroke-width="0.4" />
<line x1="256.00" y1="341.68" x2="257.20" y2="341.68" stroke="#333" stroke-width="0.4" />
<line x1="256.00" y1="344.02" x2="257.20" y2="344.02" stroke="#333" stroke-width="0.4" />
<line x1="256.00" y1="346.36" x2="257.20" y2="346.36" stroke="#333" stroke-width="0.4" />
<line x1="256.00" y1="348.72" x2="257.20" y2="348.72" stroke="#333" stroke-width="0.4" />
<line x1="256.00" y1="351.08" x2="257.20" y2="351.08" stroke="#333" stroke-width="0.4" />
<line x1="256.00" y1="353.44" x2="257.20" y2="353.44" stroke="#333" stroke-width="0.4" />
<line x1="256.00" y1="355.80" x2="257.20" y2="355.80" stroke="#333" stroke-width="0.4" />
<line x1="256.00" y1="358.16" x2="257.20" y2="358.16" stroke="#333" stroke-width="0.4" />
<line x1="256.00" y1="360.53" x2="257.20" y2="360.53" stroke="#333" stroke-width="0.4" />
<line x1="256.00" y1="362.91" x2="257.20" y2="362.91" stroke="#333" stroke-width="0.4" />
<line x1="256.00" y1="365.29" x2="257.20" y2="365.29" stroke="#333" stroke-width="0.4" />
<line x1="256.00" y1="367.67" x2="257.20" y2="367.67" stroke="#333" stroke-width="0.4" />
<line x1="256.00" y1="370.05" x2="257.20" y2="370.05" stroke="#333" stroke-width="0.4" />
<text x="250.30" y="236.39" font-size="7.2" text-anchor="middle">3</text>
<text x="250.30" y="247.69" font-size="7.2" text-anchor="middle">3</text>
<text x="250.30" y="258.69" font-size="7.2" text-anchor="middle">3</text>
<text x="250.30" y="271.19" font-size="7.2" text-anchor="middle">2</text>
<text x="250.30" y="284.89" font-size="7.2" text-anchor="middle">1</text>
<text x="250.30" y="294.19" font-size="7.2" text-anchor="middle">2</text>
<text x="250.30" y="305.19" font-size="7.2" text-anchor="middle">3</text>
<text x="250.30" y="318.19" font-size="7.2" text-anchor="middle">3</text>
<text x="250.30" y="329.49" font-size="7.2" text-anchor="middle">3</text>
<text x="250.30" y="341.29" font-size="7.2" text-anchor="middle">2</text>
<text x="250.30" y="354.09" font-size="7.2" text-anchor="middle">2</text>
<text x="250.30" y="366.39" font-size="7.2" text-anchor="middle">2</text>
<line x1="272.60" y1="371.00" x2="272.60" y2="372.50" stroke="#333" stroke-width="0.5" />
<line x1="297.70" y1="371.00" x2="297.70" y2="372.50" stroke="#333" stroke-width="0.5" />
<text x="272.20" y="381.46" font-size="7.4" text-anchor="middle">Ctrl</text>
<text x="298.00" y="381.46" font-size="7.4" text-anchor="middle">bAVM</text>
<line x1="260.20" y1="384.30" x2="311.80" y2="384.30" stroke="#333" stroke-width="0.8" />
<text x="286.60" y="394.38" font-size="8.0" text-anchor="middle">PID15</text>
<rect x="326.50" y="231.30" width="59.10" height="139.70" fill="#fff" />
<line x1="342.60" y1="234.30" x2="342.60" y2="243.20" stroke="#444" stroke-width="0.55" />
<line x1="342.60" y1="258.00" x2="342.60" y2="266.20" stroke="#444" stroke-width="0.55" />
<line x1="342.60" y1="267.70" x2="342.60" y2="279.80" stroke="#444" stroke-width="0.55" />
<line x1="342.60" y1="292.40" x2="342.60" y2="301.30" stroke="#444" stroke-width="0.55" />
<line x1="342.60" y1="302.80" x2="342.60" y2="312.60" stroke="#444" stroke-width="0.55" />
<line x1="342.60" y1="316.60" x2="342.60" y2="324.10" stroke="#444" stroke-width="0.55" />
<line x1="342.60" y1="326.10" x2="342.60" y2="334.60" stroke="#444" stroke-width="0.55" />
<line x1="342.60" y1="341.30" x2="342.60" y2="360.10" stroke="#444" stroke-width="0.55" />
<line x1="342.60" y1="364.10" x2="342.60" y2="372.00" stroke="#444" stroke-width="0.55" />
<line x1="369.30" y1="266.20" x2="369.30" y2="301.80" stroke="#444" stroke-width="0.55" />
<line x1="369.30" y1="324.10" x2="369.30" y2="336.60" stroke="#444" stroke-width="0.55" />
<line x1="369.30" y1="347.30" x2="369.30" y2="372.00" stroke="#444" stroke-width="0.55" />
<path d="M369.50,231.90 L369.64,232.20 L370.06,232.50 L370.67,232.80 L371.40,233.10 L372.13,233.40 L372.74,233.70 L373.16,234.00 L373.30,234.30 L373.41,234.62 L373.74,234.95 L374.23,235.28 L374.80,235.60 L375.37,235.93 L375.86,236.25 L376.19,236.58 L376.30,236.90 L376.19,237.16 L375.89,237.43 L375.44,237.69 L374.90,237.95 L374.36,238.21 L373.91,238.47 L373.61,238.74 L373.50,239.00 L373.42,239.21 L373.18,239.43 L372.82,239.64 L372.40,239.85 L371.98,240.06 L371.62,240.27 L371.38,240.49 L371.30,240.70 L371.32,240.85 L371.36,241.00 L371.42,241.15 L371.50,241.30 L371.58,241.45 L371.64,241.60 L371.68,241.75 L371.70,241.90 L372.06,242.04 L373.09,242.18 L374.63,242.31 L376.45,242.45 L378.27,242.59 L379.81,242.72 L380.84,242.86 L381.20,243.00 L357.40,243.00 L357.76,242.86 L358.79,242.72 L360.33,242.59 L362.15,242.45 L363.97,242.31 L365.51,242.18 L366.54,242.04 L366.90,241.90 L366.92,241.75 L366.96,241.60 L367.02,241.45 L367.10,241.30 L367.18,241.15 L367.24,241.00 L367.28,240.85 L367.30,240.70 L367.22,240.49 L366.98,240.27 L366.62,240.06 L366.20,239.85 L365.78,239.64 L365.42,239.43 L365.18,239.21 L365.10,239.00 L364.99,238.74 L364.69,238.47 L364.24,238.21 L363.70,237.95 L363.16,237.69 L362.71,237.43 L362.41,237.16 L362.30,236.90 L362.41,236.58 L362.74,236.25 L363.23,235.93 L363.80,235.60 L364.37,235.28 L364.86,234.95 L365.19,234.62 L365.30,234.30 L365.44,234.00 L365.86,233.70 L366.47,233.40 L367.20,233.10 L367.93,232.80 L368.54,232.50 L368.96,232.20 L369.10,231.90Z" fill="#f07671" stroke="#3a3a3a" stroke-width="0.35" stroke-linejoin="round"/>
<path d="M345.10,246.20 L345.18,246.29 L345.41,246.38 L345.75,246.46 L346.15,246.55 L346.55,246.64 L346.89,246.72 L347.12,246.81 L347.20,246.90 L347.22,247.08 L347.29,247.25 L347.39,247.43 L347.50,247.60 L347.61,247.78 L347.71,247.95 L347.78,248.12 L347.80,248.30 L347.79,248.51 L347.76,248.73 L347.71,248.94 L347.65,249.15 L347.59,249.36 L347.54,249.57 L347.51,249.79 L347.50,250.00 L347.45,250.20 L347.29,250.40 L347.07,250.60 L346.80,250.80 L346.53,251.00 L346.31,251.20 L346.15,251.40 L346.10,251.60 L346.14,251.76 L346.25,251.93 L346.41,252.09 L346.60,252.25 L346.79,252.41 L346.95,252.57 L347.06,252.74 L347.10,252.90 L347.39,253.06 L348.23,253.22 L349.48,253.39 L350.95,253.55 L352.42,253.71 L353.67,253.88 L354.51,254.04 L354.80,254.20 L330.40,254.20 L330.69,254.04 L331.53,253.88 L332.78,253.71 L334.25,253.55 L335.72,253.39 L336.97,253.22 L337.81,253.06 L338.10,252.90 L338.14,252.74 L338.25,252.57 L338.41,252.41 L338.60,252.25 L338.79,252.09 L338.95,251.93 L339.06,251.76 L339.10,251.60 L339.05,251.40 L338.89,251.20 L338.67,251.00 L338.40,250.80 L338.13,250.60 L337.91,250.40 L337.75,250.20 L337.70,250.00 L337.69,249.79 L337.66,249.57 L337.61,249.36 L337.55,249.15 L337.49,248.94 L337.44,248.73 L337.41,248.51 L337.40,248.30 L337.42,248.12 L337.49,247.95 L337.59,247.78 L337.70,247.60 L337.81,247.43 L337.91,247.25 L337.98,247.08 L338.00,246.90 L338.08,246.81 L338.31,246.72 L338.65,246.64 L339.05,246.55 L339.45,246.46 L339.79,246.38 L340.02,246.29 L340.10,246.20Z" fill="#dc8a14" stroke="#3a3a3a" stroke-width="0.35" stroke-linejoin="round"/>
<path d="M370.10,243.50 L370.34,243.71 L371.01,243.93 L372.01,244.14 L373.20,244.35 L374.39,244.56 L375.39,244.77 L376.06,244.99 L376.30,245.20 L376.46,245.46 L376.93,245.72 L377.63,245.99 L378.45,246.25 L379.27,246.51 L379.97,246.78 L380.44,247.04 L380.60,247.30 L380.44,247.59 L379.97,247.88 L379.27,248.16 L378.45,248.45 L377.63,248.74 L376.93,249.03 L376.46,249.31 L376.30,249.60 L376.13,249.90 L375.64,250.20 L374.91,250.50 L374.05,250.80 L373.19,251.10 L372.46,251.40 L371.97,251.70 L371.80,252.00 L371.82,252.14 L371.87,252.28 L371.95,252.41 L372.05,252.55 L372.15,252.69 L372.23,252.82 L372.28,252.96 L372.30,253.10 L372.64,253.24 L373.62,253.38 L375.08,253.51 L376.80,253.65 L378.52,253.79 L379.98,253.92 L380.96,254.06 L381.30,254.20 L357.30,254.20 L357.64,254.06 L358.62,253.92 L360.08,253.79 L361.80,253.65 L363.52,253.51 L364.98,253.38 L365.96,253.24 L366.30,253.10 L366.32,252.96 L366.37,252.82 L366.45,252.69 L366.55,252.55 L366.65,252.41 L366.73,252.28 L366.78,252.14 L366.80,252.00 L366.63,251.70 L366.14,251.40 L365.41,251.10 L364.55,250.80 L363.69,250.50 L362.96,250.20 L362.47,249.90 L362.30,249.60 L362.14,249.31 L361.67,249.03 L360.97,248.74 L360.15,248.45 L359.33,248.16 L358.63,247.88 L358.16,247.59 L358.00,247.30 L358.16,247.04 L358.63,246.78 L359.33,246.51 L360.15,246.25 L360.97,245.99 L361.67,245.72 L362.14,245.46 L362.30,245.20 L362.54,244.99 L363.21,244.77 L364.21,244.56 L365.40,244.35 L366.59,244.14 L367.59,243.93 L368.26,243.71 L368.50,243.50Z" fill="#dc8a14" stroke="#3a3a3a" stroke-width="0.35" stroke-linejoin="round"/>
<path d="M369.40,256.40 L369.45,256.65 L369.58,256.90 L369.77,257.15 L370.00,257.40 L370.23,257.65 L370.42,257.90 L370.55,258.15 L370.60,258.40 L370.63,258.65 L370.70,258.90 L370.82,259.15 L370.95,259.40 L371.08,259.65 L371.20,259.90 L371.27,260.15 L371.30,260.40 L371.26,260.66 L371.15,260.92 L370.99,261.19 L370.80,261.45 L370.61,261.71 L370.45,261.98 L370.34,262.24 L370.30,262.50 L370.29,262.66 L370.26,262.82 L370.21,262.99 L370.15,263.15 L370.09,263.31 L370.04,263.48 L370.01,263.64 L370.00,263.80 L370.02,263.94 L370.06,264.07 L370.12,264.21 L370.20,264.35 L370.28,264.49 L370.34,264.62 L370.38,264.76 L370.40,264.90 L370.81,265.04 L372.00,265.17 L373.76,265.31 L375.85,265.45 L377.94,265.59 L379.70,265.73 L380.89,265.86 L381.30,266.00 L357.30,266.00 L357.71,265.86 L358.90,265.73 L360.66,265.59 L362.75,265.45 L364.84,265.31 L366.60,265.17 L367.79,265.04 L368.20,264.90 L368.22,264.76 L368.26,264.62 L368.32,264.49 L368.40,264.35 L368.48,264.21 L368.54,264.07 L368.58,263.94 L368.60,263.80 L368.59,263.64 L368.56,263.48 L368.51,263.31 L368.45,263.15 L368.39,262.99 L368.34,262.82 L368.31,262.66 L368.30,262.50 L368.26,262.24 L368.15,261.98 L367.99,261.71 L367.80,261.45 L367.61,261.19 L367.45,260.92 L367.34,260.66 L367.30,260.40 L367.33,260.15 L367.40,259.90 L367.52,259.65 L367.65,259.40 L367.78,259.15 L367.90,258.90 L367.97,258.65 L368.00,258.40 L368.05,258.15 L368.18,257.90 L368.37,257.65 L368.60,257.40 L368.83,257.15 L369.02,256.90 L369.15,256.65 L369.20,256.40Z" fill="#2fb045" stroke="#3a3a3a" stroke-width="0.35" stroke-linejoin="round"/>
<path d="M369.60,301.60 L369.73,301.88 L370.11,302.15 L370.68,302.43 L371.35,302.70 L372.02,302.98 L372.59,303.25 L372.97,303.53 L373.10,303.80 L373.16,304.07 L373.35,304.35 L373.62,304.62 L373.95,304.90 L374.28,305.18 L374.55,305.45 L374.74,305.73 L374.80,306.00 L374.74,306.27 L374.55,306.55 L374.28,306.82 L373.95,307.10 L373.62,307.38 L373.35,307.65 L373.16,307.93 L373.10,308.20 L373.02,308.43 L372.81,308.65 L372.48,308.88 L372.10,309.10 L371.72,309.32 L371.39,309.55 L371.18,309.77 L371.10,310.00 L371.12,310.16 L371.16,310.32 L371.22,310.49 L371.30,310.65 L371.38,310.81 L371.44,310.98 L371.48,311.14 L371.50,311.30 L371.87,311.44 L372.92,311.57 L374.49,311.71 L376.35,311.85 L378.21,311.99 L379.78,312.12 L380.83,312.26 L381.20,312.40 L357.40,312.40 L357.77,312.26 L358.82,312.12 L360.39,311.99 L362.25,311.85 L364.11,311.71 L365.68,311.57 L366.73,311.44 L367.10,311.30 L367.12,311.14 L367.16,310.98 L367.22,310.81 L367.30,310.65 L367.38,310.49 L367.44,310.32 L367.48,310.16 L367.50,310.00 L367.42,309.77 L367.21,309.55 L366.88,309.32 L366.50,309.10 L366.12,308.88 L365.79,308.65 L365.58,308.43 L365.50,308.20 L365.44,307.93 L365.25,307.65 L364.98,307.38 L364.65,307.10 L364.32,306.82 L364.05,306.55 L363.86,306.27 L363.80,306.00 L363.86,305.73 L364.05,305.45 L364.32,305.18 L364.65,304.90 L364.98,304.62 L365.25,304.35 L365.44,304.07 L365.50,303.80 L365.63,303.53 L366.01,303.25 L366.58,302.98 L367.25,302.70 L367.92,302.43 L368.49,302.15 L368.87,301.88 L369.00,301.60Z" fill="#a974c9" stroke="#3a3a3a" stroke-width="0.35" stroke-linejoin="round"/>
<path d="M369.50,315.00 L369.59,315.27 L369.85,315.55 L370.24,315.82 L370.70,316.10 L371.16,316.38 L371.55,316.65 L371.81,316.93 L371.90,317.20 L371.98,317.49 L372.22,317.77 L372.58,318.06 L373.00,318.35 L373.42,318.64 L373.78,318.93 L374.02,319.21 L374.10,319.50 L374.02,319.71 L373.78,319.93 L373.42,320.14 L373.00,320.35 L372.58,320.56 L372.22,320.77 L371.98,320.99 L371.90,321.20 L371.86,321.35 L371.74,321.50 L371.56,321.65 L371.35,321.80 L371.14,321.95 L370.96,322.10 L370.84,322.25 L370.80,322.40 L370.82,322.49 L370.87,322.57 L370.95,322.66 L371.05,322.75 L371.15,322.84 L371.23,322.93 L371.28,323.01 L371.30,323.10 L371.68,323.20 L372.75,323.30 L374.36,323.40 L376.25,323.50 L378.14,323.60 L379.75,323.70 L380.82,323.80 L381.20,323.90 L357.40,323.90 L357.78,323.80 L358.85,323.70 L360.46,323.60 L362.35,323.50 L364.24,323.40 L365.85,323.30 L366.92,323.20 L367.30,323.10 L367.32,323.01 L367.37,322.93 L367.45,322.84 L367.55,322.75 L367.65,322.66 L367.73,322.57 L367.78,322.49 L367.80,322.40 L367.76,322.25 L367.64,322.10 L367.46,321.95 L367.25,321.80 L367.04,321.65 L366.86,321.50 L366.74,321.35 L366.70,321.20 L366.62,320.99 L366.38,320.77 L366.02,320.56 L365.60,320.35 L365.18,320.14 L364.82,319.93 L364.58,319.71 L364.50,319.50 L364.58,319.21 L364.82,318.93 L365.18,318.64 L365.60,318.35 L366.02,318.06 L366.38,317.77 L366.62,317.49 L366.70,317.20 L366.79,316.93 L367.05,316.65 L367.44,316.38 L367.90,316.10 L368.36,315.82 L368.75,315.55 L369.01,315.27 L369.10,315.00Z" fill="#b3941d" stroke="#3a3a3a" stroke-width="0.35" stroke-linejoin="round"/>
<path d="M369.40,336.50 L369.44,336.81 L369.55,337.12 L369.71,337.44 L369.90,337.75 L370.09,338.06 L370.25,338.38 L370.36,338.69 L370.40,339.00 L370.43,339.29 L370.52,339.57 L370.65,339.86 L370.80,340.15 L370.95,340.44 L371.08,340.73 L371.17,341.01 L371.20,341.30 L371.17,341.55 L371.07,341.80 L370.92,342.05 L370.75,342.30 L370.58,342.55 L370.43,342.80 L370.33,343.05 L370.30,343.30 L370.29,343.46 L370.26,343.62 L370.21,343.79 L370.15,343.95 L370.09,344.11 L370.04,344.28 L370.01,344.44 L370.00,344.60 L370.02,344.75 L370.06,344.90 L370.12,345.05 L370.20,345.20 L370.28,345.35 L370.34,345.50 L370.38,345.65 L370.40,345.80 L370.81,345.96 L371.98,346.12 L373.73,346.29 L375.80,346.45 L377.87,346.61 L379.62,346.78 L380.79,346.94 L381.20,347.10 L357.40,347.10 L357.81,346.94 L358.98,346.78 L360.73,346.61 L362.80,346.45 L364.87,346.29 L366.62,346.12 L367.79,345.96 L368.20,345.80 L368.22,345.65 L368.26,345.50 L368.32,345.35 L368.40,345.20 L368.48,345.05 L368.54,344.90 L368.58,344.75 L368.60,344.60 L368.59,344.44 L368.56,344.28 L368.51,344.11 L368.45,343.95 L368.39,343.79 L368.34,343.62 L368.31,343.46 L368.30,343.30 L368.27,343.05 L368.17,342.80 L368.02,342.55 L367.85,342.30 L367.68,342.05 L367.53,341.80 L367.43,341.55 L367.40,341.30 L367.43,341.01 L367.52,340.73 L367.65,340.44 L367.80,340.15 L367.95,339.86 L368.08,339.57 L368.17,339.29 L368.20,339.00 L368.24,338.69 L368.35,338.38 L368.51,338.06 L368.70,337.75 L368.89,337.44 L369.05,337.12 L369.16,336.81 L369.20,336.50Z" fill="#1fb3b8" stroke="#3a3a3a" stroke-width="0.35" stroke-linejoin="round"/>
<line x1="326.50" y1="231.30" x2="385.60" y2="231.30" stroke="#8a8a8a" stroke-width="0.6" />
<line x1="385.60" y1="231.30" x2="385.60" y2="371.00" stroke="#8a8a8a" stroke-width="0.6" />
<line x1="326.50" y1="243.20" x2="385.60" y2="243.20" stroke="#222" stroke-width="0.7" />
<line x1="326.50" y1="254.50" x2="385.60" y2="254.50" stroke="#222" stroke-width="0.7" />
<line x1="326.50" y1="266.20" x2="385.60" y2="266.20" stroke="#222" stroke-width="0.7" />
<line x1="326.50" y1="277.80" x2="385.60" y2="277.80" stroke="#222" stroke-width="0.7" />
<line x1="326.50" y1="289.40" x2="385.60" y2="289.40" stroke="#222" stroke-width="0.7" />
<line x1="326.50" y1="301.30" x2="385.60" y2="301.30" stroke="#222" stroke-width="0.7" />
<line x1="326.50" y1="312.60" x2="385.60" y2="312.60" stroke="#222" stroke-width="0.7" />
<line x1="326.50" y1="324.10" x2="385.60" y2="324.10" stroke="#222" stroke-width="0.7" />
<line x1="326.50" y1="335.60" x2="385.60" y2="335.60" stroke="#222" stroke-width="0.7" />
<line x1="326.50" y1="347.30" x2="385.60" y2="347.30" stroke="#222" stroke-width="0.7" />
<line x1="326.50" y1="359.10" x2="385.60" y2="359.10" stroke="#222" stroke-width="0.7" />
<line x1="326.50" y1="371.00" x2="385.60" y2="371.00" stroke="#222" stroke-width="0.7" />
<line x1="326.50" y1="231.30" x2="326.50" y2="371.00" stroke="#222" stroke-width="0.7" />
<line x1="325.30" y1="232.73" x2="326.50" y2="232.73" stroke="#333" stroke-width="0.4" />
<line x1="325.30" y1="235.11" x2="326.50" y2="235.11" stroke="#333" stroke-width="0.4" />
<line x1="325.30" y1="237.49" x2="326.50" y2="237.49" stroke="#333" stroke-width="0.4" />
<line x1="325.30" y1="239.87" x2="326.50" y2="239.87" stroke="#333" stroke-width="0.4" />
<line x1="325.30" y1="242.25" x2="326.50" y2="242.25" stroke="#333" stroke-width="0.4" />
<line x1="325.30" y1="244.56" x2="326.50" y2="244.56" stroke="#333" stroke-width="0.4" />
<line x1="325.30" y1="246.82" x2="326.50" y2="246.82" stroke="#333" stroke-width="0.4" />
<line x1="325.30" y1="249.08" x2="326.50" y2="249.08" stroke="#333" stroke-width="0.4" />
<line x1="325.30" y1="251.34" x2="326.50" y2="251.34" stroke="#333" stroke-width="0.4" />
<line x1="325.30" y1="253.60" x2="326.50" y2="253.60" stroke="#333" stroke-width="0.4" />
<line x1="325.30" y1="255.90" x2="326.50" y2="255.90" stroke="#333" stroke-width="0.4" />
<line x1="325.30" y1="258.24" x2="326.50" y2="258.24" stroke="#333" stroke-width="0.4" />
<line x1="325.30" y1="260.58" x2="326.50" y2="260.58" stroke="#333" stroke-width="0.4" />
<line x1="325.30" y1="262.92" x2="326.50" y2="262.92" stroke="#333" stroke-width="0.4" />
<line x1="325.30" y1="265.26" x2="326.50" y2="265.26" stroke="#333" stroke-width="0.4" />
<line x1="325.30" y1="267.59" x2="326.50" y2="267.59" stroke="#333" stroke-width="0.4" />
<line x1="325.30" y1="269.91" x2="326.50" y2="269.91" stroke="#333" stroke-width="0.4" />
<line x1="325.30" y1="272.23" x2="326.50" y2="272.23" stroke="#333" stroke-width="0.4" />
<line x1="325.30" y1="274.55" x2="326.50" y2="274.55" stroke="#333" stroke-width="0.4" />
<line x1="325.30" y1="276.87" x2="326.50" y2="276.87" stroke="#333" stroke-width="0.4" />
<line x1="325.30" y1="279.19" x2="326.50" y2="279.19" stroke="#333" stroke-width="0.4" />
<line x1="325.30" y1="281.51" x2="326.50" y2="281.51" stroke="#333" stroke-width="0.4" />
<line x1="325.30" y1="283.83" x2="326.50" y2="283.83" stroke="#333" stroke-width="0.4" />
<line x1="325.30" y1="286.15" x2="326.50" y2="286.15" stroke="#333" stroke-width="0.4" />
<line x1="325.30" y1="288.47" x2="326.50" y2="288.47" stroke="#333" stroke-width="0.4" />
<line x1="325.30" y1="290.83" x2="326.50" y2="290.83" stroke="#333" stroke-width="0.4" />
<line x1="325.30" y1="293.21" x2="326.50" y2="293.21" stroke="#333" stroke-width="0.4" />
<line x1="325.30" y1="295.59" x2="326.50" y2="295.59" stroke="#333" stroke-width="0.4" />
<line x1="325.30" y1="297.97" x2="326.50" y2="297.97" stroke="#333" stroke-width="0.4" />
<line x1="325.30" y1="300.35" x2="326.50" y2="300.35" stroke="#333" stroke-width="0.4" />
<line x1="325.30" y1="302.66" x2="326.50" y2="302.66" stroke="#333" stroke-width="0.4" />
<line x1="325.30" y1="304.92" x2="326.50" y2="304.92" stroke="#333" stroke-width="0.4" />
<line x1="325.30" y1="307.18" x2="326.50" y2="307.18" stroke="#333" stroke-width="0.4" />
<line x1="325.30" y1="309.44" x2="326.50" y2="309.44" stroke="#333" stroke-width="0.4" />
<line x1="325.30" y1="311.70" x2="326.50" y2="311.70" stroke="#333" stroke-width="0.4" />
<line x1="325.30" y1="313.98" x2="326.50" y2="313.98" stroke="#333" stroke-width="0.4" />
<line x1="325.30" y1="316.28" x2="326.50" y2="316.28" stroke="#333" stroke-width="0.4" />
<line x1="325.30" y1="318.58" x2="326.50" y2="318.58" stroke="#333" stroke-width="0.4" />
<line x1="325.30" y1="320.88" x2="326.50" y2="320.88" stroke="#333" stroke-width="0.4" />
<line x1="325.30" y1="323.18" x2="326.50" y2="323.18" stroke="#333" stroke-width="0.4" />
<line x1="325.30" y1="325.48" x2="326.50" y2="325.48" stroke="#333" stroke-width="0.4" />
<line x1="325.30" y1="327.78" x2="326.50" y2="327.78" stroke="#333" stroke-width="0.4" />
<line x1="325.30" y1="330.08" x2="326.50" y2="330.08" stroke="#333" stroke-width="0.4" />
<line x1="325.30" y1="332.38" x2="326.50" y2="332.38" stroke="#333" stroke-width="0.4" />
<line x1="325.30" y1="334.68" x2="326.50" y2="334.68" stroke="#333" stroke-width="0.4" />
<line x1="325.30" y1="337.00" x2="326.50" y2="337.00" stroke="#333" stroke-width="0.4" />
<line x1="325.30" y1="339.34" x2="326.50" y2="339.34" stroke="#333" stroke-width="0.4" />
<line x1="325.30" y1="341.68" x2="326.50" y2="341.68" stroke="#333" stroke-width="0.4" />
<line x1="325.30" y1="344.02" x2="326.50" y2="344.02" stroke="#333" stroke-width="0.4" />
<line x1="325.30" y1="346.36" x2="326.50" y2="346.36" stroke="#333" stroke-width="0.4" />
<line x1="325.30" y1="348.72" x2="326.50" y2="348.72" stroke="#333" stroke-width="0.4" />
<line x1="325.30" y1="351.08" x2="326.50" y2="351.08" stroke="#333" stroke-width="0.4" />
<line x1="325.30" y1="353.44" x2="326.50" y2="353.44" stroke="#333" stroke-width="0.4" />
<line x1="325.30" y1="355.80" x2="326.50" y2="355.80" stroke="#333" stroke-width="0.4" />
<line x1="325.30" y1="358.16" x2="326.50" y2="358.16" stroke="#333" stroke-width="0.4" />
<line x1="325.30" y1="360.53" x2="326.50" y2="360.53" stroke="#333" stroke-width="0.4" />
<line x1="325.30" y1="362.91" x2="326.50" y2="362.91" stroke="#333" stroke-width="0.4" />
<line x1="325.30" y1="365.29" x2="326.50" y2="365.29" stroke="#333" stroke-width="0.4" />
<line x1="325.30" y1="367.67" x2="326.50" y2="367.67" stroke="#333" stroke-width="0.4" />
<line x1="325.30" y1="370.05" x2="326.50" y2="370.05" stroke="#333" stroke-width="0.4" />
<text x="319.40" y="236.39" font-size="7.2" text-anchor="middle">3</text>
<text x="319.40" y="247.69" font-size="7.2" text-anchor="middle">3</text>
<text x="319.40" y="259.19" font-size="7.2" text-anchor="middle">3</text>
<text x="319.40" y="272.09" font-size="7.2" text-anchor="middle">2</text>
<text x="319.40" y="282.89" font-size="7.2" text-anchor="middle">2</text>
<text x="319.40" y="292.39" font-size="7.2" text-anchor="middle">3</text>
<text x="319.40" y="305.59" font-size="7.2" text-anchor="middle">3</text>
<text x="319.40" y="317.99" font-size="7.2" text-anchor="middle">4</text>
<text x="319.40" y="330.59" font-size="7.2" text-anchor="middle">2</text>
<text x="319.40" y="342.59" font-size="7.2" text-anchor="middle">2</text>
<text x="319.40" y="353.59" font-size="7.2" text-anchor="middle">2</text>
<text x="319.40" y="365.59" font-size="7.2" text-anchor="middle">2</text>
<line x1="342.60" y1="371.00" x2="342.60" y2="372.50" stroke="#333" stroke-width="0.5" />
<line x1="369.30" y1="371.00" x2="369.30" y2="372.50" stroke="#333" stroke-width="0.5" />
<text x="342.40" y="381.46" font-size="7.4" text-anchor="middle">Ctrl</text>
<text x="369.50" y="381.46" font-size="7.4" text-anchor="middle">bAVM</text>
<line x1="332.60" y1="384.30" x2="383.40" y2="384.30" stroke="#333" stroke-width="0.8" />
<text x="358.20" y="394.38" font-size="8.0" text-anchor="middle">PID27</text>
<text x="388.90" y="239.80" font-size="7.5" fill="#35ad52" font-style="italic" textLength="17.07" lengthAdjust="spacingAndGlyphs">Nrp2</text>
<text x="388.90" y="250.90" font-size="7.5" fill="#35ad52" font-style="italic" textLength="17.07" lengthAdjust="spacingAndGlyphs">Nrp1</text>
<text x="388.90" y="263.70" font-size="7.5" fill="#35ad52" font-style="italic" textLength="21.89" lengthAdjust="spacingAndGlyphs">Igfbp3</text>
<text x="388.90" y="275.20" font-size="7.5" fill="#35ad52" font-style="italic" textLength="13.13" lengthAdjust="spacingAndGlyphs">Flt4</text>
<text x="388.90" y="286.70" font-size="7.5" fill="#35ad52" font-style="italic" textLength="13.57" lengthAdjust="spacingAndGlyphs">Dll4</text>
<text x="388.90" y="298.40" font-size="7.5" fill="#35ad52" font-style="italic" textLength="23.21" lengthAdjust="spacingAndGlyphs">Robo4</text>
<text x="388.90" y="310.40" font-size="7.5" fill="#35ad52" font-style="italic" textLength="12.26" lengthAdjust="spacingAndGlyphs">Kdr</text>
<text x="388.90" y="322.10" font-size="7.5" font-style="italic" textLength="12.69" lengthAdjust="spacingAndGlyphs">Tll1</text>
<text x="388.90" y="333.40" font-size="7.5" font-style="italic" textLength="20.13" lengthAdjust="spacingAndGlyphs">Ackr1</text>
<text x="388.90" y="345.90" font-size="7.5" font-style="italic" textLength="24.95" lengthAdjust="spacingAndGlyphs">Notch1</text>
<text x="388.90" y="355.20" font-size="7.5" font-style="italic" textLength="18.83" lengthAdjust="spacingAndGlyphs">Rhoa</text>
<text x="388.90" y="367.30" font-size="7.5" font-style="italic" textLength="17.08" lengthAdjust="spacingAndGlyphs">Jag1</text>
<line x1="413.80" y1="233.80" x2="413.80" y2="310.00" stroke="#35ad52" stroke-width="0.8" />
<text x="417.30" y="267.39" font-size="8.3" fill="#35ad52" textLength="11.80" lengthAdjust="spacingAndGlyphs">Tip</text>
<text x="417.00" y="278.59" font-size="8.3" fill="#35ad52" textLength="14.70" lengthAdjust="spacingAndGlyphs">cell</text>
<line x1="413.80" y1="317.00" x2="413.80" y2="368.30" stroke="#222" stroke-width="0.8" />
<text x="417.60" y="340.45" font-size="8.2" textLength="18.60" lengthAdjust="spacingAndGlyphs">Stalk</text>
<text x="417.40" y="352.45" font-size="8.2" textLength="14.20" lengthAdjust="spacingAndGlyphs">cell</text>
<text x="450.9" y="223.5" font-size="12.5" font-weight="bold" fill="#000" stroke="#000" stroke-width="0.3">i</text>
<rect x="463.40" y="225.60" width="72.40" height="12.50" fill="#fff" stroke="#7d7d7d" stroke-width="0.8" />
<text x="499.60" y="234.80" font-size="8.2" text-anchor="middle" textLength="20.20" lengthAdjust="spacingAndGlyphs">CD31</text>
<rect x="538.40" y="225.60" width="71.70" height="12.50" fill="#fff" stroke="#7d7d7d" stroke-width="0.8" />
<text x="574.25" y="234.80" font-size="8.2" text-anchor="middle" textLength="32.40" lengthAdjust="spacingAndGlyphs">Hoechst</text>
<rect x="612.30" y="225.60" width="72.30" height="12.50" fill="#fff" stroke="#7d7d7d" stroke-width="0.8" />
<text x="648.45" y="234.80" font-size="8.2" text-anchor="middle" textLength="25.60" lengthAdjust="spacingAndGlyphs">Merge</text>
<rect x="450.20" y="241.40" width="11.00" height="72.40" fill="#fff" stroke="#7d7d7d" stroke-width="0.8" />
<text x="455.70" y="280.77" font-size="8.8" text-anchor="middle" transform="rotate(-90 455.70 277.60)" textLength="14.60" lengthAdjust="spacingAndGlyphs">Ctrl</text>
<rect x="450.20" y="316.30" width="11.00" height="74.10" fill="#fff" stroke="#7d7d7d" stroke-width="0.8" />
<text x="455.70" y="356.52" font-size="8.8" text-anchor="middle" transform="rotate(-90 455.70 353.35)" textLength="22.50" lengthAdjust="spacingAndGlyphs">Nidus</text>
<rect x="462.80" y="241.00" width="222.20" height="149.60" fill="#d6d6d6" />
<svg x="462.80" y="241.00" width="73.60" height="73.40" viewBox="0 0 73.60 73.40">
<rect x="0.00" y="0.00" width="73.60" height="73.40" fill="#030f07" />
<rect x="0.00" y="0.00" width="73.60" height="73.40" fill="#000" filter="url(#spGreenD)" opacity="0.22"/>
<g fill="none" stroke-linecap="round" stroke-linejoin="round" transform="translate(0.8,1.3)">
<g filter="url(#b2)" opacity="0.55" stroke="#25a838"><path d="M-2,17.2 Q8,18 15,20.5 Q25,24 33,29.5 Q37,32 40.5,33.2" stroke-width="10"/><path d="M39,33.2 Q48,34.8 56,34.4 Q66,32.5 76,27" stroke-width="8.5"/><path d="M39.5,34.5 Q34,43 27,50 Q17,58 9.5,66 Q5,71 1.5,77" stroke-width="8"/></g>
<g filter="url(#vtex)" stroke="#3ad04e"><path d="M-2,17.2 Q8,18 15,20.5 Q25,24 33,29.5 Q37,32 40.5,33.2" stroke-width="7.6"/><path d="M39,33.2 Q48,34.8 56,34.4 Q66,32.5 76,27" stroke-width="6.2"/><path d="M39.5,34.5 Q34,43 27,50 Q17,58 9.5,66 Q5,71 1.5,77" stroke-width="5.8"/><path d="M9,15.5 Q18,14.5 24,18 Q28,20.5 30,24" stroke-width="3.6" stroke="#2fb845"/></g>
<g filter="url(#b1)" stroke="#74f07c" opacity="0.5"><path d="M-2,17.2 Q8,18 15,20.5 Q25,24 33,29.5 Q37,32 40.5,33.2" stroke-width="2.2" transform="translate(0.8,2.2)"/><path d="M39,33.2 Q48,34.8 56,34.4 Q66,32.5 76,27" stroke-width="2" transform="translate(0,1.2)"/><path d="M39.5,34.5 Q34,43 27,50 Q17,58 9.5,66 Q5,71 1.5,77" stroke-width="2" transform="translate(1.2,0.8)"/><path d="M9,15.5 Q18,14.5 24,18 Q28,20.5 30,24" stroke-width="1.2" transform="translate(0,-1)"/><path d="M-2,17.2 Q8,18 15,20.5 Q25,24 33,29.5 Q37,32 40.5,33.2" stroke-width="1.2" transform="translate(-0.8,-2.6)"/><path d="M39,33.2 Q48,34.8 56,34.4 Q66,32.5 76,27" stroke-width="1.1" transform="translate(0,-2.2)"/></g>
</g>
</svg>
<svg x="537.40" y="241.00" width="73.70" height="73.40" viewBox="0 0 73.70 73.40">
<rect x="0.00" y="0.00" width="73.70" height="73.40" fill="#02041f" />
<g filter="url(#ntex)">
<g opacity="0.72">
<ellipse cx="45.9" cy="24.1" rx="10" ry="9.7" transform="rotate(-20 45.9 24.1)" fill="#15237c"/>
<circle cx="43.9" cy="41.2" r="8" fill="#0b1350"/>
<circle cx="33.4" cy="65" r="8.5" fill="#162480"/>
<circle cx="65" cy="48.3" r="5" fill="#0b1352"/>
<circle cx="68" cy="39" r="3.5" fill="#0a1148"/>
<circle cx="55" cy="16" r="2.2" fill="#0e1a66"/>
<circle cx="60.4" cy="59" r="2.6" fill="#2c52e0"/>
<circle cx="46.00" cy="19.50" r="1.60" fill="#4070f4"/>
<circle cx="53.50" cy="29.00" r="1.50" fill="#4070f4"/>
<circle cx="47.00" cy="27.00" r="1.30" fill="#4070f4"/>
<circle cx="43.90" cy="41.20" r="1.90" fill="#4070f4"/>
<circle cx="33.40" cy="64.50" r="2.00" fill="#4070f4"/>
<circle cx="40.00" cy="70.00" r="1.20" fill="#4070f4"/>
<circle cx="56.00" cy="-0.50" r="1.20" fill="#4070f4"/>
<circle cx="52.00" cy="22.00" r="1.00" fill="#4070f4"/>
</g>
<ellipse cx="18.7" cy="21.1" rx="12" ry="4.5" transform="rotate(18 18.7 21.1)" fill="#2a4fe0"/>
<ellipse cx="16.7" cy="57" rx="12.8" ry="4.5" transform="rotate(-42 16.7 57)" fill="#284ce0"/>
<circle cx="12.00" cy="18.50" r="1.20" fill="#5a86fa"/>
<circle cx="17.00" cy="21.00" r="1.30" fill="#5a86fa"/>
<circle cx="23.00" cy="22.50" r="1.10" fill="#5a86fa"/>
<circle cx="14.00" cy="22.50" r="1.00" fill="#5a86fa"/>
<circle cx="13.00" cy="61.00" r="1.20" fill="#5a86fa"/>
<circle cx="21.00" cy="52.00" r="1.20" fill="#5a86fa"/>
</g>
</svg>
<svg x="612.20" y="241.00" width="72.80" height="73.40" viewBox="0 0 72.80 73.40">
<rect x="0.00" y="0.00" width="72.80" height="73.40" fill="#030820" />
<g filter="url(#ntex)">
<g opacity="0.72">
<ellipse cx="45.9" cy="24.1" rx="10" ry="9.7" transform="rotate(-20 45.9 24.1)" fill="#15237c"/>
<circle cx="43.9" cy="41.2" r="8" fill="#0b1350"/>
<circle cx="33.4" cy="65" r="8.5" fill="#162480"/>
<circle cx="65" cy="48.3" r="5" fill="#0b1352"/>
<circle cx="68" cy="39" r="3.5" fill="#0a1148"/>
<circle cx="55" cy="16" r="2.2" fill="#0e1a66"/>
<circle cx="60.4" cy="59" r="2.6" fill="#2c52e0"/>
<circle cx="46.00" cy="19.50" r="1.60" fill="#4070f4"/>
<circle cx="53.50" cy="29.00" r="1.50" fill="#4070f4"/>
<circle cx="47.00" cy="27.00" r="1.30" fill="#4070f4"/>
<circle cx="43.90" cy="41.20" r="1.90" fill="#4070f4"/>
<circle cx="33.40" cy="64.50" r="2.00" fill="#4070f4"/>
<circle cx="40.00" cy="70.00" r="1.20" fill="#4070f4"/>
<circle cx="56.00" cy="-0.50" r="1.20" fill="#4070f4"/>
<circle cx="52.00" cy="22.00" r="1.00" fill="#4070f4"/>
</g>
</g>
<g fill="none" stroke-linecap="round" stroke-linejoin="round" transform="translate(0.8,1.3)">
<g filter="url(#b2)" opacity="0.55" stroke="#25a838"><path d="M-2,17.2 Q8,18 15,20.5 Q25,24 33,29.5 Q37,32 40.5,33.2" stroke-width="10"/><path d="M39,33.2 Q48,34.8 56,34.4 Q66,32.5 76,27" stroke-width="8.5"/><path d="M39.5,34.5 Q34,43 27,50 Q17,58 9.5,66 Q5,71 1.5,77" stroke-width="8"/></g>
<g filter="url(#vtex)" stroke="#3ad04e"><path d="M-2,17.2 Q8,18 15,20.5 Q25,24 33,29.5 Q37,32 40.5,33.2" stroke-width="7.6"/><path d="M39,33.2 Q48,34.8 56,34.4 Q66,32.5 76,27" stroke-width="6.2"/><path d="M39.5,34.5 Q34,43 27,50 Q17,58 9.5,66 Q5,71 1.5,77" stroke-width="5.8"/><path d="M9,15.5 Q18,14.5 24,18 Q28,20.5 30,24" stroke-width="3.6" stroke="#2fb845"/></g>
<g filter="url(#b1)" stroke="#74f07c" opacity="0.5"><path d="M-2,17.2 Q8,18 15,20.5 Q25,24 33,29.5 Q37,32 40.5,33.2" stroke-width="2.2" transform="translate(0.8,2.2)"/><path d="M39,33.2 Q48,34.8 56,34.4 Q66,32.5 76,27" stroke-width="2" transform="translate(0,1.2)"/><path d="M39.5,34.5 Q34,43 27,50 Q17,58 9.5,66 Q5,71 1.5,77" stroke-width="2" transform="translate(1.2,0.8)"/><path d="M9,15.5 Q18,14.5 24,18 Q28,20.5 30,24" stroke-width="1.2" transform="translate(0,-1)"/><path d="M-2,17.2 Q8,18 15,20.5 Q25,24 33,29.5 Q37,32 40.5,33.2" stroke-width="1.2" transform="translate(-0.8,-2.6)"/><path d="M39,33.2 Q48,34.8 56,34.4 Q66,32.5 76,27" stroke-width="1.1" transform="translate(0,-2.2)"/></g>
</g>
<g opacity="0.8">
<g filter="url(#ntex)">
<ellipse cx="18.7" cy="21.1" rx="12" ry="4.5" transform="rotate(18 18.7 21.1)" fill="#2a4fe0"/>
<ellipse cx="16.7" cy="57" rx="12.8" ry="4.5" transform="rotate(-42 16.7 57)" fill="#284ce0"/>
<circle cx="12.00" cy="18.50" r="1.20" fill="#5a86fa"/>
<circle cx="17.00" cy="21.00" r="1.30" fill="#5a86fa"/>
<circle cx="23.00" cy="22.50" r="1.10" fill="#5a86fa"/>
<circle cx="14.00" cy="22.50" r="1.00" fill="#5a86fa"/>
<circle cx="13.00" cy="61.00" r="1.20" fill="#5a86fa"/>
<circle cx="21.00" cy="52.00" r="1.20" fill="#5a86fa"/>
</g>
</g>
</svg>
<svg x="462.80" y="316.20" width="73.60" height="74.40" viewBox="0 0 73.60 74.40">
<rect x="0.00" y="0.00" width="73.60" height="74.40" fill="#030f07" />
<rect x="0.00" y="0.00" width="73.60" height="74.40" fill="#000" filter="url(#spGreenD)" opacity="0.22"/>
<g fill="none" stroke-linecap="round">
<g filter="url(#b4)" opacity="0.6"><ellipse cx="37" cy="47" rx="18" ry="8.5" transform="rotate(60 37 47)" fill="#2fc048"/><ellipse cx="33" cy="27" rx="11" ry="6" transform="rotate(-72 33 27)" fill="#27a83e"/><ellipse cx="30" cy="38" rx="13" ry="11" fill="#2bb844"/></g>
<g filter="url(#vtex)"><path d="M-2,30.5 L10,31.5 L20,33 Q27,32.5 32,33.5 Q36,37 33,40.5 Q27,42 22,43 L10,45.5 L-2,46.5 Z" fill="#3ad04e"/></g>
<g filter="url(#b1)"><path d="M-2,33.5 Q12,33.5 23,36" stroke="#8af890" stroke-width="3" opacity="0.85"/></g>
<g filter="url(#b05)">
<path d="M31,37 L29.9,49.6" stroke="#3fd455" stroke-width="0.99" opacity="0.21"/>
<path d="M31,37 L29.2,51.3" stroke="#3fd455" stroke-width="0.95" opacity="0.33"/>
<path d="M31,37 L37.4,49.5" stroke="#3fd455" stroke-width="1.08" opacity="0.21"/>
<path d="M31,37 L44.5,44.8" stroke="#3fd455" stroke-width="0.79" opacity="0.47"/>
<path d="M31,37 L43.4,46.2" stroke="#3fd455" stroke-width="1.19" opacity="0.20"/>
<path d="M31,37 L31.0,21.4" stroke="#3fd455" stroke-width="0.74" opacity="0.40"/>
<path d="M31,37 L39.3,64.7" stroke="#3fd455" stroke-width="0.91" opacity="0.23"/>
<path d="M31,37 L29.7,57.2" stroke="#3fd455" stroke-width="0.64" opacity="0.48"/>
<path d="M31,37 L39.7,20.7" stroke="#3fd455" stroke-width="0.70" opacity="0.29"/>
<path d="M31,37 L24.5,28.0" stroke="#3fd455" stroke-width="0.57" opacity="0.40"/>
<path d="M31,37 L43.9,24.5" stroke="#3fd455" stroke-width="0.85" opacity="0.24"/>
<path d="M31,37 L39.8,55.8" stroke="#3fd455" stroke-width="0.55" opacity="0.47"/>
<path d="M31,37 L35.3,28.1" stroke="#3fd455" stroke-width="0.67" opacity="0.18"/>
<path d="M31,37 L43.9,50.8" stroke="#3fd455" stroke-width="0.76" opacity="0.45"/>
<path d="M31,37 L28.0,29.4" stroke="#3fd455" stroke-width="0.62" opacity="0.39"/>
<path d="M31,37 L28.6,26.1" stroke="#3fd455" stroke-width="0.71" opacity="0.18"/>
<path d="M31,37 L34.7,31.8" stroke="#3fd455" stroke-width="0.80" opacity="0.25"/>
<path d="M31,37 L40.6,53.1" stroke="#3fd455" stroke-width="0.91" opacity="0.27"/>
<path d="M31,37 L41.1,43.9" stroke="#3fd455" stroke-width="0.86" opacity="0.30"/>
<path d="M31,37 L41.7,37.3" stroke="#3fd455" stroke-width="1.19" opacity="0.20"/>
<path d="M31,37 L45.2,48.2" stroke="#3fd455" stroke-width="0.90" opacity="0.42"/>
<path d="M31,37 L30.1,47.0" stroke="#3fd455" stroke-width="1.08" opacity="0.25"/>
<path d="M31,37 L19.0,32.8" stroke="#3fd455" stroke-width="1.03" opacity="0.50"/>
<path d="M31,37 L25.6,18.2" stroke="#3fd455" stroke-width="0.81" opacity="0.21"/>
<path d="M31,37 L33.2,24.0" stroke="#3fd455" stroke-width="0.61" opacity="0.22"/>
<path d="M31,37 L31.9,28.4" stroke="#3fd455" stroke-width="0.81" opacity="0.41"/>
<path d="M31,37 L32.6,25.0" stroke="#3fd455" stroke-width="0.75" opacity="0.25"/>
<path d="M31,37 L37.3,47.6" stroke="#3fd455" stroke-width="1.01" opacity="0.41"/>
<path d="M31,37 L25.4,26.7" stroke="#3fd455" stroke-width="0.80" opacity="0.21"/>
<path d="M31,37 L31.3,46.0" stroke="#3fd455" stroke-width="0.99" opacity="0.24"/>
<path d="M31,37 L41.9,60.2" stroke="#3fd455" stroke-width="0.95" opacity="0.18"/>
<path d="M31,37 L42.3,24.7" stroke="#3fd455" stroke-width="1.15" opacity="0.49"/>
<path d="M31,37 L45.1,53.2" stroke="#3fd455" stroke-width="1.18" opacity="0.30"/>
<path d="M31,37 L26.4,44.9" stroke="#3fd455" stroke-width="0.94" opacity="0.49"/>
<path d="M31,37 L35.0,25.9" stroke="#3fd455" stroke-width="0.64" opacity="0.30"/>
<path d="M31,37 L27.3,43.5" stroke="#3fd455" stroke-width="0.70" opacity="0.38"/>
<path d="M31,37 L36.6,48.2" stroke="#3fd455" stroke-width="1.01" opacity="0.44"/>
<path d="M31,37 L30.7,24.4" stroke="#3fd455" stroke-width="0.84" opacity="0.35"/>
<path d="M31,37 L32.0,31.5" stroke="#3fd455" stroke-width="1.01" opacity="0.27"/>
<path d="M31,37 L53.0,53.4" stroke="#3fd455" stroke-width="0.69" opacity="0.27"/>
<path d="M31,37 L38.2,37.2" stroke="#3fd455" stroke-width="1.12" opacity="0.31"/>
<path d="M31,37 L28.7,63.5" stroke="#3fd455" stroke-width="1.02" opacity="0.26"/>
<path d="M31,37 L40.7,43.4" stroke="#3fd455" stroke-width="0.76" opacity="0.43"/>
<path d="M31,37 L39.0,30.6" stroke="#3fd455" stroke-width="1.05" opacity="0.50"/>
<path d="M31,37 L30.1,43.0" stroke="#3fd455" stroke-width="0.93" opacity="0.40"/>
<path d="M31,37 L44.9,61.6" stroke="#3fd455" stroke-width="1.13" opacity="0.48"/>
<path d="M31,37 L40.5,63.5" stroke="#3fd455" stroke-width="0.96" opacity="0.28"/>
<path d="M31,37 L30.1,65.0" stroke="#3fd455" stroke-width="0.96" opacity="0.30"/>
<path d="M31,37 L27.6,47.3" stroke="#3fd455" stroke-width="0.92" opacity="0.28"/>
<path d="M31,37 L41.1,50.5" stroke="#3fd455" stroke-width="0.86" opacity="0.22"/>
<path d="M31,37 L30.6,27.9" stroke="#3fd455" stroke-width="0.68" opacity="0.30"/>
<path d="M31,37 L32.6,49.0" stroke="#3fd455" stroke-width="0.66" opacity="0.27"/>
<path d="M31,37 L33.1,49.1" stroke="#3fd455" stroke-width="0.54" opacity="0.36"/>
<path d="M31,37 L39.4,25.4" stroke="#3fd455" stroke-width="0.73" opacity="0.46"/>
<path d="M31,37 L33.0,22.8" stroke="#3fd455" stroke-width="1.16" opacity="0.50"/>
<path d="M31,37 L26.5,30.9" stroke="#3fd455" stroke-width="0.79" opacity="0.23"/>
<path d="M31,37 L20.4,31.1" stroke="#3fd455" stroke-width="0.91" opacity="0.38"/>
<path d="M31,37 L29.8,59.1" stroke="#3fd455" stroke-width="1.13" opacity="0.48"/>
<path d="M31,37 L41.0,28.2" stroke="#3fd455" stroke-width="0.76" opacity="0.45"/>
<path d="M31,37 L29.5,21.2" stroke="#3fd455" stroke-width="0.83" opacity="0.22"/>
<path d="M31,37 L43.8,37.0" stroke="#3fd455" stroke-width="0.87" opacity="0.48"/>
<path d="M31,37 L46.2,51.5" stroke="#3fd455" stroke-width="1.04" opacity="0.44"/>
<path d="M31,37 L26.8,25.6" stroke="#3fd455" stroke-width="0.52" opacity="0.30"/>
<path d="M31,37 L37.4,28.6" stroke="#3fd455" stroke-width="0.94" opacity="0.23"/>
<path d="M31,37 L27.2,28.4" stroke="#3fd455" stroke-width="0.91" opacity="0.22"/>
<path d="M31,37 L40.1,32.7" stroke="#3fd455" stroke-width="1.18" opacity="0.21"/>
<path d="M31,37 L21.9,33.4" stroke="#3fd455" stroke-width="0.96" opacity="0.50"/>
<path d="M31,37 L29.5,60.6" stroke="#3fd455" stroke-width="0.83" opacity="0.23"/>
<path d="M31,37 L41.2,50.9" stroke="#3fd455" stroke-width="0.76" opacity="0.44"/>
<path d="M31,37 L34.4,47.3" stroke="#3fd455" stroke-width="0.60" opacity="0.41"/>
</g>
<ellipse cx="31" cy="37" rx="5" ry="4.4" fill="#7dfa85" filter="url(#b1)"/>
<circle cx="48.11" cy="22.95" r="0.31" fill="#38b848"/>
<circle cx="33.55" cy="60.23" r="0.41" fill="#38b848"/>
<circle cx="10.77" cy="28.77" r="0.49" fill="#38b848"/>
<circle cx="38.69" cy="3.51" r="0.52" fill="#38b848"/>
<circle cx="13.05" cy="26.53" r="0.55" fill="#38b848"/>
<circle cx="22.05" cy="72.24" r="0.43" fill="#38b848"/>
<circle cx="12.43" cy="17.42" r="0.50" fill="#38b848"/>
<circle cx="15.28" cy="61.42" r="0.52" fill="#38b848"/>
<circle cx="11.93" cy="59.65" r="0.44" fill="#38b848"/>
<circle cx="7.45" cy="41.49" r="0.46" fill="#38b848"/>
<circle cx="26.32" cy="19.08" r="0.34" fill="#38b848"/>
<circle cx="38.24" cy="22.39" r="0.54" fill="#38b848"/>
<circle cx="32.12" cy="17.37" r="0.49" fill="#38b848"/>
<circle cx="30.21" cy="73.91" r="0.36" fill="#38b848"/>
<circle cx="42.17" cy="46.93" r="0.52" fill="#38b848"/>
<circle cx="36.27" cy="58.54" r="0.59" fill="#38b848"/>
<circle cx="7.00" cy="4.60" r="1.00" fill="#55e060"/>
<circle cx="16.00" cy="11.00" r="0.80" fill="#55e060"/>
<circle cx="6.00" cy="17.00" r="0.80" fill="#55e060"/>
<circle cx="54.00" cy="52.00" r="0.80" fill="#55e060"/>
<circle cx="60.00" cy="51.00" r="0.70" fill="#55e060"/>
<circle cx="48.00" cy="60.00" r="0.80" fill="#55e060"/>
<circle cx="34.00" cy="60.00" r="0.80" fill="#55e060"/>
<circle cx="42.00" cy="20.00" r="0.70" fill="#55e060"/>
</g>
</svg>
<svg x="537.40" y="316.20" width="73.70" height="74.40" viewBox="0 0 73.70 74.40">
<rect x="0.00" y="0.00" width="73.70" height="74.40" fill="#03052a" />
<g filter="url(#b2)"><ellipse cx="55" cy="34" rx="9" ry="7" fill="#0a1262"/><ellipse cx="40" cy="30" rx="5" ry="8" fill="#080e50"/></g>
<g filter="url(#ntex)">
<ellipse cx="17.5" cy="15.5" rx="19.5" ry="17.5" fill="#1e32b8"/>
<path d="M47,-3 Q56,10 65,-3 Z" fill="#162596"/>
<path d="M-3,33 Q12,31 19,38 Q17,46 4,47 L-3,46 Z" fill="#2a46dc"/>
<ellipse cx="51.5" cy="51" rx="10" ry="11" fill="#1d30b4"/>
<ellipse cx="27" cy="74" rx="4.5" ry="4" fill="#2640d0"/>
<path d="M-3,55 Q3,58 2,68 L-3,68 Z" fill="#2238c8"/>
</g>
</svg>
<svg x="612.20" y="316.20" width="72.80" height="74.40" viewBox="0 0 72.80 74.40">
<rect x="0.00" y="0.00" width="72.80" height="74.40" fill="#03062c" />
<g filter="url(#b2)"><ellipse cx="55" cy="34" rx="9" ry="7" fill="#0a1262"/><ellipse cx="40" cy="30" rx="5" ry="8" fill="#080e50"/></g>
<g filter="url(#ntex)">
<ellipse cx="17.5" cy="15.5" rx="19.5" ry="17.5" fill="#1e32b8"/>
<path d="M47,-3 Q56,10 65,-3 Z" fill="#162596"/>
<path d="M-3,33 Q12,31 19,38 Q17,46 4,47 L-3,46 Z" fill="#2a46dc"/>
<ellipse cx="51.5" cy="51" rx="10" ry="11" fill="#1d30b4"/>
<ellipse cx="27" cy="74" rx="4.5" ry="4" fill="#2640d0"/>
<path d="M-3,55 Q3,58 2,68 L-3,68 Z" fill="#2238c8"/>
<ellipse cx="64" cy="26" rx="12" ry="10" fill="#1726a0"/>
</g>
<g fill="none" stroke-linecap="round">
<g filter="url(#b4)" opacity="0.6"><ellipse cx="37" cy="47" rx="18" ry="8.5" transform="rotate(60 37 47)" fill="#2fc048"/><ellipse cx="33" cy="27" rx="11" ry="6" transform="rotate(-72 33 27)" fill="#27a83e"/><ellipse cx="30" cy="38" rx="13" ry="11" fill="#2bb844"/></g>
<g filter="url(#vtex)"><path d="M-2,30.5 L10,31.5 L20,33 Q27,32.5 32,33.5 Q36,37 33,40.5 Q27,42 22,43 L10,45.5 L-2,46.5 Z" fill="#3ad04e"/></g>
<g filter="url(#b1)"><path d="M-2,33.5 Q12,33.5 23,36" stroke="#8af890" stroke-width="3" opacity="0.85"/></g>
<g filter="url(#b05)">
<path d="M31,37 L29.9,49.6" stroke="#3fd455" stroke-width="0.99" opacity="0.21"/>
<path d="M31,37 L29.2,51.3" stroke="#3fd455" stroke-width="0.95" opacity="0.33"/>
<path d="M31,37 L37.4,49.5" stroke="#3fd455" stroke-width="1.08" opacity="0.21"/>
<path d="M31,37 L44.5,44.8" stroke="#3fd455" stroke-width="0.79" opacity="0.47"/>
<path d="M31,37 L43.4,46.2" stroke="#3fd455" stroke-width="1.19" opacity="0.20"/>
<path d="M31,37 L31.0,21.4" stroke="#3fd455" stroke-width="0.74" opacity="0.40"/>
<path d="M31,37 L39.3,64.7" stroke="#3fd455" stroke-width="0.91" opacity="0.23"/>
<path d="M31,37 L29.7,57.2" stroke="#3fd455" stroke-width="0.64" opacity="0.48"/>
<path d="M31,37 L39.7,20.7" stroke="#3fd455" stroke-width="0.70" opacity="0.29"/>
<path d="M31,37 L24.5,28.0" stroke="#3fd455" stroke-width="0.57" opacity="0.40"/>
<path d="M31,37 L43.9,24.5" stroke="#3fd455" stroke-width="0.85" opacity="0.24"/>
<path d="M31,37 L39.8,55.8" stroke="#3fd455" stroke-width="0.55" opacity="0.47"/>
<path d="M31,37 L35.3,28.1" stroke="#3fd455" stroke-width="0.67" opacity="0.18"/>
<path d="M31,37 L43.9,50.8" stroke="#3fd455" stroke-width="0.76" opacity="0.45"/>
<path d="M31,37 L28.0,29.4" stroke="#3fd455" stroke-width="0.62" opacity="0.39"/>
<path d="M31,37 L28.6,26.1" stroke="#3fd455" stroke-width="0.71" opacity="0.18"/>
<path d="M31,37 L34.7,31.8" stroke="#3fd455" stroke-width="0.80" opacity="0.25"/>
<path d="M31,37 L40.6,53.1" stroke="#3fd455" stroke-width="0.91" opacity="0.27"/>
<path d="M31,37 L41.1,43.9" stroke="#3fd455" stroke-width="0.86" opacity="0.30"/>
<path d="M31,37 L41.7,37.3" stroke="#3fd455" stroke-width="1.19" opacity="0.20"/>
<path d="M31,37 L45.2,48.2" stroke="#3fd455" stroke-width="0.90" opacity="0.42"/>
<path d="M31,37 L30.1,47.0" stroke="#3fd455" stroke-width="1.08" opacity="0.25"/>
<path d="M31,37 L19.0,32.8" stroke="#3fd455" stroke-width="1.03" opacity="0.50"/>
<path d="M31,37 L25.6,18.2" stroke="#3fd455" stroke-width="0.81" opacity="0.21"/>
<path d="M31,37 L33.2,24.0" stroke="#3fd455" stroke-width="0.61" opacity="0.22"/>
<path d="M31,37 L31.9,28.4" stroke="#3fd455" stroke-width="0.81" opacity="0.41"/>
<path d="M31,37 L32.6,25.0" stroke="#3fd455" stroke-width="0.75" opacity="0.25"/>
<path d="M31,37 L37.3,47.6" stroke="#3fd455" stroke-width="1.01" opacity="0.41"/>
<path d="M31,37 L25.4,26.7" stroke="#3fd455" stroke-width="0.80" opacity="0.21"/>
<path d="M31,37 L31.3,46.0" stroke="#3fd455" stroke-width="0.99" opacity="0.24"/>
<path d="M31,37 L41.9,60.2" stroke="#3fd455" stroke-width="0.95" opacity="0.18"/>
<path d="M31,37 L42.3,24.7" stroke="#3fd455" stroke-width="1.15" opacity="0.49"/>
<path d="M31,37 L45.1,53.2" stroke="#3fd455" stroke-width="1.18" opacity="0.30"/>
<path d="M31,37 L26.4,44.9" stroke="#3fd455" stroke-width="0.94" opacity="0.49"/>
<path d="M31,37 L35.0,25.9" stroke="#3fd455" stroke-width="0.64" opacity="0.30"/>
<path d="M31,37 L27.3,43.5" stroke="#3fd455" stroke-width="0.70" opacity="0.38"/>
<path d="M31,37 L36.6,48.2" stroke="#3fd455" stroke-width="1.01" opacity="0.44"/>
<path d="M31,37 L30.7,24.4" stroke="#3fd455" stroke-width="0.84" opacity="0.35"/>
<path d="M31,37 L32.0,31.5" stroke="#3fd455" stroke-width="1.01" opacity="0.27"/>
<path d="M31,37 L53.0,53.4" stroke="#3fd455" stroke-width="0.69" opacity="0.27"/>
<path d="M31,37 L38.2,37.2" stroke="#3fd455" stroke-width="1.12" opacity="0.31"/>
<path d="M31,37 L28.7,63.5" stroke="#3fd455" stroke-width="1.02" opacity="0.26"/>
<path d="M31,37 L40.7,43.4" stroke="#3fd455" stroke-width="0.76" opacity="0.43"/>
<path d="M31,37 L39.0,30.6" stroke="#3fd455" stroke-width="1.05" opacity="0.50"/>
<path d="M31,37 L30.1,43.0" stroke="#3fd455" stroke-width="0.93" opacity="0.40"/>
<path d="M31,37 L44.9,61.6" stroke="#3fd455" stroke-width="1.13" opacity="0.48"/>
<path d="M31,37 L40.5,63.5" stroke="#3fd455" stroke-width="0.96" opacity="0.28"/>
<path d="M31,37 L30.1,65.0" stroke="#3fd455" stroke-width="0.96" opacity="0.30"/>
<path d="M31,37 L27.6,47.3" stroke="#3fd455" stroke-width="0.92" opacity="0.28"/>
<path d="M31,37 L41.1,50.5" stroke="#3fd455" stroke-width="0.86" opacity="0.22"/>
<path d="M31,37 L30.6,27.9" stroke="#3fd455" stroke-width="0.68" opacity="0.30"/>
<path d="M31,37 L32.6,49.0" stroke="#3fd455" stroke-width="0.66" opacity="0.27"/>
<path d="M31,37 L33.1,49.1" stroke="#3fd455" stroke-width="0.54" opacity="0.36"/>
<path d="M31,37 L39.4,25.4" stroke="#3fd455" stroke-width="0.73" opacity="0.46"/>
<path d="M31,37 L33.0,22.8" stroke="#3fd455" stroke-width="1.16" opacity="0.50"/>
<path d="M31,37 L26.5,30.9" stroke="#3fd455" stroke-width="0.79" opacity="0.23"/>
<path d="M31,37 L20.4,31.1" stroke="#3fd455" stroke-width="0.91" opacity="0.38"/>
<path d="M31,37 L29.8,59.1" stroke="#3fd455" stroke-width="1.13" opacity="0.48"/>
<path d="M31,37 L41.0,28.2" stroke="#3fd455" stroke-width="0.76" opacity="0.45"/>
<path d="M31,37 L29.5,21.2" stroke="#3fd455" stroke-width="0.83" opacity="0.22"/>
<path d="M31,37 L43.8,37.0" stroke="#3fd455" stroke-width="0.87" opacity="0.48"/>
<path d="M31,37 L46.2,51.5" stroke="#3fd455" stroke-width="1.04" opacity="0.44"/>
<path d="M31,37 L26.8,25.6" stroke="#3fd455" stroke-width="0.52" opacity="0.30"/>
<path d="M31,37 L37.4,28.6" stroke="#3fd455" stroke-width="0.94" opacity="0.23"/>
<path d="M31,37 L27.2,28.4" stroke="#3fd455" stroke-width="0.91" opacity="0.22"/>
<path d="M31,37 L40.1,32.7" stroke="#3fd455" stroke-width="1.18" opacity="0.21"/>
<path d="M31,37 L21.9,33.4" stroke="#3fd455" stroke-width="0.96" opacity="0.50"/>
<path d="M31,37 L29.5,60.6" stroke="#3fd455" stroke-width="0.83" opacity="0.23"/>
<path d="M31,37 L41.2,50.9" stroke="#3fd455" stroke-width="0.76" opacity="0.44"/>
<path d="M31,37 L34.4,47.3" stroke="#3fd455" stroke-width="0.60" opacity="0.41"/>
</g>
<ellipse cx="31" cy="37" rx="5" ry="4.4" fill="#7dfa85" filter="url(#b1)"/>
<circle cx="48.11" cy="22.95" r="0.31" fill="#38b848"/>
<circle cx="33.55" cy="60.23" r="0.41" fill="#38b848"/>
<circle cx="10.77" cy="28.77" r="0.49" fill="#38b848"/>
<circle cx="38.69" cy="3.51" r="0.52" fill="#38b848"/>
<circle cx="13.05" cy="26.53" r="0.55" fill="#38b848"/>
<circle cx="22.05" cy="72.24" r="0.43" fill="#38b848"/>
<circle cx="12.43" cy="17.42" r="0.50" fill="#38b848"/>
<circle cx="15.28" cy="61.42" r="0.52" fill="#38b848"/>
<circle cx="11.93" cy="59.65" r="0.44" fill="#38b848"/>
<circle cx="7.45" cy="41.49" r="0.46" fill="#38b848"/>
<circle cx="26.32" cy="19.08" r="0.34" fill="#38b848"/>
<circle cx="38.24" cy="22.39" r="0.54" fill="#38b848"/>
<circle cx="32.12" cy="17.37" r="0.49" fill="#38b848"/>
<circle cx="30.21" cy="73.91" r="0.36" fill="#38b848"/>
<circle cx="42.17" cy="46.93" r="0.52" fill="#38b848"/>
<circle cx="36.27" cy="58.54" r="0.59" fill="#38b848"/>
<circle cx="7.00" cy="4.60" r="1.00" fill="#55e060"/>
<circle cx="16.00" cy="11.00" r="0.80" fill="#55e060"/>
<circle cx="6.00" cy="17.00" r="0.80" fill="#55e060"/>
<circle cx="54.00" cy="52.00" r="0.80" fill="#55e060"/>
<circle cx="60.00" cy="51.00" r="0.70" fill="#55e060"/>
<circle cx="48.00" cy="60.00" r="0.80" fill="#55e060"/>
<circle cx="34.00" cy="60.00" r="0.80" fill="#55e060"/>
<circle cx="42.00" cy="20.00" r="0.70" fill="#55e060"/>
</g>
<path d="M1,35 Q10,33 18,37 Q16,43 6,44 L1,44 Z" fill="#6fd0e8" opacity="0.8" filter="url(#b1)"/>
</svg>
<path d="M501.3,352.4 L514.0,348.2 L514.0,356.6Z" fill="#fff"/>
<text x="683.20" y="382.82" font-size="7.0" text-anchor="end" fill="#fff">5 µm</text>
<rect x="670.20" y="386.00" width="13.00" height="2.40" fill="#fff" />
</svg>
</body></html>
